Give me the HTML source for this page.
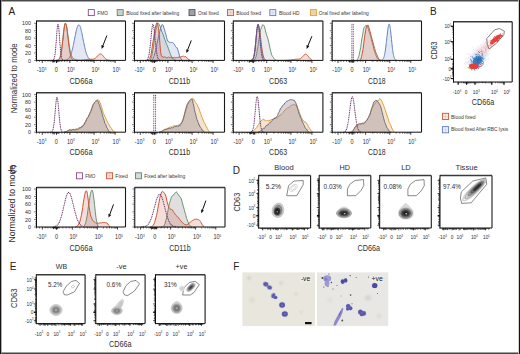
<!DOCTYPE html><html><head><meta charset="utf-8"><title>figure</title><style>html,body{margin:0;padding:0;background:#fff;width:520px;height:354px;overflow:hidden;}svg{display:block;font-family:"Liberation Sans",sans-serif;}</style></head><body><svg width="520" height="354" viewBox="0 0 520 354" font-family="'Liberation Sans', sans-serif"><rect x="0" y="0" width="520" height="354" fill="#fff"/><text x="8.40" y="15.10" font-size="10.00" text-anchor="start" fill="#222" >A</text><text x="429.90" y="15.30" font-size="10.00" text-anchor="start" fill="#222" >B</text><text x="9.70" y="172.60" font-size="10.00" text-anchor="start" fill="#222" >C</text><text x="232.70" y="174.00" font-size="10.00" text-anchor="start" fill="#222" >D</text><text x="9.70" y="269.80" font-size="10.00" text-anchor="start" fill="#222" >E</text><text x="233.20" y="269.80" font-size="10.00" text-anchor="start" fill="#222" >F</text><rect x="88.30" y="9.60" width="6.00" height="6.00" fill="#fff" stroke="#8a4a8a" stroke-width="0.9"/><text x="97.30" y="14.60" font-size="5.60" text-anchor="start" fill="#383838" textLength="10.7" lengthAdjust="spacingAndGlyphs" >FMO</text><rect x="117.20" y="9.60" width="6.00" height="6.00" fill="#c9cfc9" stroke="#5b8a6b" stroke-width="0.9"/><text x="126.20" y="14.60" font-size="5.60" text-anchor="start" fill="#383838" textLength="53.0" lengthAdjust="spacingAndGlyphs" >Blood fixed after labeling</text><rect x="189.00" y="9.60" width="6.00" height="6.00" fill="#a0a0a8" stroke="#55555f" stroke-width="0.9"/><text x="198.00" y="14.60" font-size="5.60" text-anchor="start" fill="#383838" textLength="20.6" lengthAdjust="spacingAndGlyphs" >Oral fixed</text><rect x="227.50" y="9.60" width="6.00" height="6.00" fill="#f3ddd6" stroke="#cc5533" stroke-width="0.9"/><line x1="230.50" y1="10.40" x2="230.50" y2="14.80" stroke="#cc5533" stroke-width="0.30" opacity="0.45"/><line x1="228.30" y1="12.60" x2="232.70" y2="12.60" stroke="#cc5533" stroke-width="0.30" opacity="0.45"/><text x="236.30" y="14.60" font-size="5.60" text-anchor="start" fill="#383838" textLength="24.8" lengthAdjust="spacingAndGlyphs" >Blood fixed</text><rect x="269.80" y="9.60" width="6.00" height="6.00" fill="#e6ebf5" stroke="#5b80c2" stroke-width="0.9"/><line x1="272.80" y1="10.40" x2="272.80" y2="14.80" stroke="#5b80c2" stroke-width="0.30" opacity="0.45"/><line x1="270.60" y1="12.60" x2="275.00" y2="12.60" stroke="#5b80c2" stroke-width="0.30" opacity="0.45"/><text x="279.00" y="14.60" font-size="5.60" text-anchor="start" fill="#383838" textLength="20.5" lengthAdjust="spacingAndGlyphs" >Blood HD</text><rect x="310.40" y="9.60" width="6.00" height="6.00" fill="#f0d2a8" stroke="#e39e3c" stroke-width="0.9"/><text x="318.80" y="14.60" font-size="5.60" text-anchor="start" fill="#383838" textLength="50.0" lengthAdjust="spacingAndGlyphs" >Oral fixed after labeling</text><text transform="translate(13.40 78.30) rotate(-90)" x="0" y="3.10" font-size="8.60" text-anchor="middle" fill="#2e2e2e" textLength="70.0" lengthAdjust="spacingAndGlyphs">Normalized to mode</text><rect x="36.50" y="21.00" width="89.00" height="39.40" fill="#fff"/><path d="M64.00 60.33 L64.25 60.31 L64.50 60.29 L64.75 60.27 L65.00 60.24 L65.25 60.20 L65.50 60.16 L65.75 60.11 L66.00 60.06 L66.25 59.99 L66.50 59.91 L66.75 59.82 L67.00 59.71 L67.25 59.59 L67.50 59.45 L67.75 59.28 L68.00 59.09 L68.25 58.88 L68.50 58.64 L68.75 58.37 L69.00 58.06 L69.25 57.71 L69.50 57.33 L69.75 56.91 L70.00 56.43 L70.25 55.92 L70.50 55.35 L70.75 54.73 L71.00 54.05 L71.25 53.32 L71.50 52.54 L71.75 51.69 L72.00 50.80 L72.25 49.84 L72.50 48.84 L72.75 47.78 L73.00 46.67 L73.25 45.52 L73.50 44.34 L73.75 43.11 L74.00 41.86 L74.25 40.59 L74.50 39.31 L74.75 38.03 L75.00 36.75 L75.25 35.48 L75.50 34.24 L75.75 33.04 L76.00 31.88 L76.25 30.78 L76.50 29.74 L76.75 28.78 L77.00 27.91 L77.25 27.13 L77.50 26.45 L77.75 25.88 L78.00 25.42 L78.25 25.09 L78.50 24.87 L78.75 24.79 L79.00 24.82 L79.25 24.99 L79.50 25.28 L79.75 25.68 L80.00 26.21 L80.25 26.84 L80.50 27.59 L80.75 28.42 L81.00 29.35 L81.25 30.36 L81.50 31.43 L81.75 32.57 L82.00 33.76 L82.25 34.98 L82.50 36.24 L82.75 37.51 L83.00 38.80 L83.25 40.08 L83.50 41.36 L83.75 42.62 L84.00 43.85 L84.25 45.05 L84.50 46.22 L84.75 47.34 L85.00 48.42 L85.25 49.45 L85.50 50.42 L85.75 51.34 L86.00 52.21 L86.25 53.01 L86.50 53.77 L86.75 54.46 L87.00 55.10 L87.25 55.69 L87.50 56.23 L87.75 56.72 L88.00 57.17 L88.25 57.57 L88.50 57.93 L88.75 58.25 L89.00 58.53 L89.25 58.79 L89.50 59.01 L89.75 59.21 L90.00 59.38 L90.25 59.53 L90.50 59.66 L90.75 59.78 L91.00 59.88 L91.25 59.96 L91.50 60.03 L91.75 60.09 L92.00 60.14 L92.25 60.19 L92.50 60.23 L92.75 60.26 L93.00 60.28 L93.25 60.30 L93.50 60.32 L93.75 60.34 L94.00 60.35 L94.00 60.40 L64.00 60.40 Z" fill="rgba(130,150,205,0.22)" stroke="none"/><path d="M64.00 60.33 L64.25 60.31 L64.50 60.29 L64.75 60.27 L65.00 60.24 L65.25 60.20 L65.50 60.16 L65.75 60.11 L66.00 60.06 L66.25 59.99 L66.50 59.91 L66.75 59.82 L67.00 59.71 L67.25 59.59 L67.50 59.45 L67.75 59.28 L68.00 59.09 L68.25 58.88 L68.50 58.64 L68.75 58.37 L69.00 58.06 L69.25 57.71 L69.50 57.33 L69.75 56.91 L70.00 56.43 L70.25 55.92 L70.50 55.35 L70.75 54.73 L71.00 54.05 L71.25 53.32 L71.50 52.54 L71.75 51.69 L72.00 50.80 L72.25 49.84 L72.50 48.84 L72.75 47.78 L73.00 46.67 L73.25 45.52 L73.50 44.34 L73.75 43.11 L74.00 41.86 L74.25 40.59 L74.50 39.31 L74.75 38.03 L75.00 36.75 L75.25 35.48 L75.50 34.24 L75.75 33.04 L76.00 31.88 L76.25 30.78 L76.50 29.74 L76.75 28.78 L77.00 27.91 L77.25 27.13 L77.50 26.45 L77.75 25.88 L78.00 25.42 L78.25 25.09 L78.50 24.87 L78.75 24.79 L79.00 24.82 L79.25 24.99 L79.50 25.28 L79.75 25.68 L80.00 26.21 L80.25 26.84 L80.50 27.59 L80.75 28.42 L81.00 29.35 L81.25 30.36 L81.50 31.43 L81.75 32.57 L82.00 33.76 L82.25 34.98 L82.50 36.24 L82.75 37.51 L83.00 38.80 L83.25 40.08 L83.50 41.36 L83.75 42.62 L84.00 43.85 L84.25 45.05 L84.50 46.22 L84.75 47.34 L85.00 48.42 L85.25 49.45 L85.50 50.42 L85.75 51.34 L86.00 52.21 L86.25 53.01 L86.50 53.77 L86.75 54.46 L87.00 55.10 L87.25 55.69 L87.50 56.23 L87.75 56.72 L88.00 57.17 L88.25 57.57 L88.50 57.93 L88.75 58.25 L89.00 58.53 L89.25 58.79 L89.50 59.01 L89.75 59.21 L90.00 59.38 L90.25 59.53 L90.50 59.66 L90.75 59.78 L91.00 59.88 L91.25 59.96 L91.50 60.03 L91.75 60.09 L92.00 60.14 L92.25 60.19 L92.50 60.23 L92.75 60.26 L93.00 60.28 L93.25 60.30 L93.50 60.32 L93.75 60.34 L94.00 60.35" fill="none" stroke="#5b80c2" stroke-width="1.00" stroke-linejoin="round"/><path d="M56.00 60.37 L56.20 60.36 L56.40 60.34 L56.60 60.32 L56.80 60.30 L57.00 60.27 L57.20 60.23 L57.40 60.18 L57.60 60.11 L57.80 60.03 L58.00 59.94 L58.20 59.81 L58.40 59.66 L58.60 59.48 L58.80 59.26 L59.00 59.00 L59.20 58.69 L59.40 58.32 L59.60 57.88 L59.80 57.38 L60.00 56.80 L60.20 56.13 L60.40 55.38 L60.60 54.53 L60.80 53.57 L61.00 52.51 L61.20 51.35 L61.40 50.08 L61.60 48.71 L61.80 47.24 L62.00 45.68 L62.20 44.04 L62.40 42.33 L62.60 40.57 L62.80 38.78 L63.00 36.98 L63.20 35.19 L63.40 33.44 L63.60 31.74 L63.80 30.14 L64.00 28.64 L64.20 27.29 L64.40 26.09 L64.60 25.08 L64.80 24.27 L65.00 23.67 L65.20 23.30 L65.40 23.17 L65.60 23.24 L65.80 23.50 L66.00 23.94 L66.20 24.55 L66.40 25.33 L66.60 26.26 L66.80 27.33 L67.00 28.52 L67.20 29.81 L67.40 31.20 L67.60 32.65 L67.80 34.15 L68.00 35.68 L68.20 37.23 L68.40 38.78 L68.60 40.31 L68.80 41.81 L69.00 43.27 L69.20 44.67 L69.40 46.01 L69.60 47.28 L69.80 48.47 L70.00 49.59 L70.20 50.62 L70.40 51.58 L70.60 52.46 L70.80 53.25 L71.00 53.98 L71.20 54.63 L71.40 55.21 L71.60 55.73 L71.80 56.20 L72.00 56.61 L72.20 56.98 L72.40 57.30 L72.60 57.59 L72.80 57.84 L73.00 58.06 L73.20 58.26 L73.40 58.44 L73.60 58.60 L73.80 58.75 L74.00 58.88 L74.20 59.00 L74.40 59.11 L74.60 59.21 L74.80 59.31 L75.00 59.40 L75.20 59.48 L75.40 59.56 L75.60 59.63 L75.80 59.70 L76.00 59.76 L76.20 59.82 L76.40 59.88 L76.60 59.93 L76.80 59.98 L77.00 60.02 L77.20 60.06 L77.40 60.10 L77.60 60.14 L77.80 60.17 L78.00 60.20 L78.20 60.22 L78.40 60.25 L78.60 60.27 L78.80 60.29 L79.00 60.30 L79.20 60.32 L79.40 60.33 L79.60 60.34 L79.80 60.35 L80.00 60.36 L80.00 60.40 L56.00 60.40 Z" fill="rgba(90,95,90,0.12)" stroke="none"/><path d="M56.00 60.37 L56.20 60.36 L56.40 60.34 L56.60 60.32 L56.80 60.30 L57.00 60.27 L57.20 60.23 L57.40 60.18 L57.60 60.11 L57.80 60.03 L58.00 59.94 L58.20 59.81 L58.40 59.66 L58.60 59.48 L58.80 59.26 L59.00 59.00 L59.20 58.69 L59.40 58.32 L59.60 57.88 L59.80 57.38 L60.00 56.80 L60.20 56.13 L60.40 55.38 L60.60 54.53 L60.80 53.57 L61.00 52.51 L61.20 51.35 L61.40 50.08 L61.60 48.71 L61.80 47.24 L62.00 45.68 L62.20 44.04 L62.40 42.33 L62.60 40.57 L62.80 38.78 L63.00 36.98 L63.20 35.19 L63.40 33.44 L63.60 31.74 L63.80 30.14 L64.00 28.64 L64.20 27.29 L64.40 26.09 L64.60 25.08 L64.80 24.27 L65.00 23.67 L65.20 23.30 L65.40 23.17 L65.60 23.24 L65.80 23.50 L66.00 23.94 L66.20 24.55 L66.40 25.33 L66.60 26.26 L66.80 27.33 L67.00 28.52 L67.20 29.81 L67.40 31.20 L67.60 32.65 L67.80 34.15 L68.00 35.68 L68.20 37.23 L68.40 38.78 L68.60 40.31 L68.80 41.81 L69.00 43.27 L69.20 44.67 L69.40 46.01 L69.60 47.28 L69.80 48.47 L70.00 49.59 L70.20 50.62 L70.40 51.58 L70.60 52.46 L70.80 53.25 L71.00 53.98 L71.20 54.63 L71.40 55.21 L71.60 55.73 L71.80 56.20 L72.00 56.61 L72.20 56.98 L72.40 57.30 L72.60 57.59 L72.80 57.84 L73.00 58.06 L73.20 58.26 L73.40 58.44 L73.60 58.60 L73.80 58.75 L74.00 58.88 L74.20 59.00 L74.40 59.11 L74.60 59.21 L74.80 59.31 L75.00 59.40 L75.20 59.48 L75.40 59.56 L75.60 59.63 L75.80 59.70 L76.00 59.76 L76.20 59.82 L76.40 59.88 L76.60 59.93 L76.80 59.98 L77.00 60.02 L77.20 60.06 L77.40 60.10 L77.60 60.14 L77.80 60.17 L78.00 60.20 L78.20 60.22 L78.40 60.25 L78.60 60.27 L78.80 60.29 L79.00 60.30 L79.20 60.32 L79.40 60.33 L79.60 60.34 L79.80 60.35 L80.00 60.36" fill="none" stroke="#5b8a6b" stroke-width="0.90" stroke-linejoin="round"/><path d="M56.00 60.39 L56.45 60.38 L56.90 60.36 L57.35 60.32 L57.80 60.24 L58.25 60.10 L58.70 59.87 L59.15 59.48 L59.60 58.86 L60.05 57.92 L60.50 56.56 L60.95 54.69 L61.40 52.22 L61.85 49.13 L62.30 45.44 L62.75 41.30 L63.20 36.92 L63.65 32.62 L64.10 28.78 L64.55 25.75 L65.00 23.86 L65.45 23.31 L65.90 23.98 L66.35 25.70 L66.80 28.31 L67.25 31.60 L67.70 35.31 L68.15 39.19 L68.60 43.00 L69.05 46.55 L69.50 49.70 L69.95 52.38 L70.40 54.56 L70.85 56.28 L71.30 57.57 L71.75 58.52 L72.20 59.18 L72.65 59.64 L73.10 59.93 L73.55 60.12 L74.00 60.24 L74.45 60.30 L74.90 60.34 L75.35 60.36 L75.80 60.37 L76.25 60.37 L76.70 60.36 L77.15 60.36 L77.60 60.35 L78.05 60.34 L78.50 60.32 L78.95 60.30 L79.40 60.28 L79.85 60.26 L80.30 60.23 L80.75 60.20 L81.20 60.16 L81.65 60.12 L82.10 60.08 L82.55 60.03 L83.00 59.98 L83.45 59.93 L83.90 59.87 L84.35 59.81 L84.80 59.75 L85.25 59.69 L85.70 59.63 L86.15 59.57 L86.60 59.52 L87.05 59.46 L87.50 59.42 L87.95 59.37 L88.40 59.34 L88.85 59.31 L89.30 59.29 L89.75 59.27 L90.20 59.26 L90.65 59.26 L91.10 59.25 L91.55 59.24 L92.00 59.23 L92.45 59.20 L92.90 59.15 L93.35 59.07 L93.80 58.96 L94.25 58.80 L94.70 58.59 L95.15 58.32 L95.60 58.00 L96.05 57.61 L96.50 57.18 L96.95 56.70 L97.40 56.20 L97.85 55.70 L98.30 55.22 L98.75 54.78 L99.20 54.42 L99.65 54.15 L100.10 54.00 L100.55 53.97 L101.00 54.08 L101.45 54.30 L101.90 54.64 L102.35 55.07 L102.80 55.57 L103.25 56.11 L103.70 56.67 L104.15 57.23 L104.60 57.75 L105.05 58.24 L105.50 58.67 L105.95 59.05 L106.40 59.36 L106.85 59.62 L107.30 59.83 L107.75 59.99 L108.20 60.11 L108.65 60.20 L109.10 60.26 L109.55 60.31 L110.00 60.34 L110.00 60.40 L56.00 60.40 Z" fill="rgba(205,90,70,0.2)" stroke="none"/><path d="M56.00 60.39 L56.45 60.38 L56.90 60.36 L57.35 60.32 L57.80 60.24 L58.25 60.10 L58.70 59.87 L59.15 59.48 L59.60 58.86 L60.05 57.92 L60.50 56.56 L60.95 54.69 L61.40 52.22 L61.85 49.13 L62.30 45.44 L62.75 41.30 L63.20 36.92 L63.65 32.62 L64.10 28.78 L64.55 25.75 L65.00 23.86 L65.45 23.31 L65.90 23.98 L66.35 25.70 L66.80 28.31 L67.25 31.60 L67.70 35.31 L68.15 39.19 L68.60 43.00 L69.05 46.55 L69.50 49.70 L69.95 52.38 L70.40 54.56 L70.85 56.28 L71.30 57.57 L71.75 58.52 L72.20 59.18 L72.65 59.64 L73.10 59.93 L73.55 60.12 L74.00 60.24 L74.45 60.30 L74.90 60.34 L75.35 60.36 L75.80 60.37 L76.25 60.37 L76.70 60.36 L77.15 60.36 L77.60 60.35 L78.05 60.34 L78.50 60.32 L78.95 60.30 L79.40 60.28 L79.85 60.26 L80.30 60.23 L80.75 60.20 L81.20 60.16 L81.65 60.12 L82.10 60.08 L82.55 60.03 L83.00 59.98 L83.45 59.93 L83.90 59.87 L84.35 59.81 L84.80 59.75 L85.25 59.69 L85.70 59.63 L86.15 59.57 L86.60 59.52 L87.05 59.46 L87.50 59.42 L87.95 59.37 L88.40 59.34 L88.85 59.31 L89.30 59.29 L89.75 59.27 L90.20 59.26 L90.65 59.26 L91.10 59.25 L91.55 59.24 L92.00 59.23 L92.45 59.20 L92.90 59.15 L93.35 59.07 L93.80 58.96 L94.25 58.80 L94.70 58.59 L95.15 58.32 L95.60 58.00 L96.05 57.61 L96.50 57.18 L96.95 56.70 L97.40 56.20 L97.85 55.70 L98.30 55.22 L98.75 54.78 L99.20 54.42 L99.65 54.15 L100.10 54.00 L100.55 53.97 L101.00 54.08 L101.45 54.30 L101.90 54.64 L102.35 55.07 L102.80 55.57 L103.25 56.11 L103.70 56.67 L104.15 57.23 L104.60 57.75 L105.05 58.24 L105.50 58.67 L105.95 59.05 L106.40 59.36 L106.85 59.62 L107.30 59.83 L107.75 59.99 L108.20 60.11 L108.65 60.20 L109.10 60.26 L109.55 60.31 L110.00 60.34" fill="none" stroke="#cc5533" stroke-width="1.00" stroke-linejoin="round"/><path d="M52.00 60.37 L52.10 60.36 L52.20 60.35 L52.30 60.34 L52.40 60.32 L52.50 60.30 L52.60 60.28 L52.70 60.25 L52.80 60.22 L52.90 60.17 L53.00 60.12 L53.10 60.07 L53.20 60.00 L53.30 59.91 L53.40 59.82 L53.50 59.70 L53.60 59.57 L53.70 59.42 L53.80 59.24 L53.90 59.04 L54.00 58.80 L54.10 58.54 L54.20 58.23 L54.30 57.89 L54.40 57.51 L54.50 57.08 L54.60 56.60 L54.70 56.07 L54.80 55.48 L54.90 54.84 L55.00 54.13 L55.10 53.37 L55.20 52.54 L55.30 51.65 L55.40 50.69 L55.50 49.67 L55.60 48.60 L55.70 47.46 L55.80 46.27 L55.90 45.04 L56.00 43.75 L56.10 42.44 L56.20 41.09 L56.30 39.72 L56.40 38.35 L56.50 36.97 L56.60 35.61 L56.70 34.26 L56.80 32.96 L56.90 31.69 L57.00 30.49 L57.10 29.36 L57.20 28.31 L57.30 27.36 L57.40 26.51 L57.50 25.77 L57.60 25.16 L57.70 24.68 L57.80 24.32 L57.90 24.11 L58.00 24.04 L58.10 24.11 L58.20 24.32 L58.30 24.68 L58.40 25.16 L58.50 25.77 L58.60 26.51 L58.70 27.36 L58.80 28.31 L58.90 29.36 L59.00 30.49 L59.10 31.69 L59.20 32.96 L59.30 34.26 L59.40 35.61 L59.50 36.97 L59.60 38.35 L59.70 39.72 L59.80 41.09 L59.90 42.44 L60.00 43.75 L60.10 45.04 L60.20 46.27 L60.30 47.46 L60.40 48.60 L60.50 49.67 L60.60 50.69 L60.70 51.65 L60.80 52.54 L60.90 53.37 L61.00 54.13 L61.10 54.84 L61.20 55.48 L61.30 56.07 L61.40 56.60 L61.50 57.08 L61.60 57.51 L61.70 57.89 L61.80 58.23 L61.90 58.54 L62.00 58.80 L62.10 59.04 L62.20 59.24 L62.30 59.42 L62.40 59.57 L62.50 59.70 L62.60 59.82 L62.70 59.91 L62.80 60.00 L62.90 60.07 L63.00 60.12 L63.10 60.17 L63.20 60.22 L63.30 60.25 L63.40 60.28 L63.50 60.30 L63.60 60.32 L63.70 60.34 L63.80 60.35 L63.90 60.36 L64.00 60.37" fill="none" stroke="#6a3468" stroke-width="1.20" stroke-linejoin="round" stroke-dasharray="0.01 1.75" stroke-linecap="round"/><line x1="36.50" y1="21.00" x2="125.50" y2="21.00" stroke="#3a3a3a" stroke-width="1.40" /><line x1="125.50" y1="21.00" x2="125.50" y2="60.40" stroke="#1a1a1a" stroke-width="1.10" /><line x1="36.50" y1="20.50" x2="36.50" y2="60.90" stroke="#111" stroke-width="1.00" /><line x1="36.00" y1="60.40" x2="125.50" y2="60.40" stroke="#111" stroke-width="1.00" /><text x="30.90" y="62.50" font-size="6.20" text-anchor="end" fill="#2e2e2e" textLength="2.96" lengthAdjust="spacingAndGlyphs">0</text><text x="30.90" y="55.08" font-size="6.20" text-anchor="end" fill="#2e2e2e" textLength="5.93" lengthAdjust="spacingAndGlyphs">20</text><text x="30.90" y="47.66" font-size="6.20" text-anchor="end" fill="#2e2e2e" textLength="5.93" lengthAdjust="spacingAndGlyphs">40</text><text x="30.90" y="40.24" font-size="6.20" text-anchor="end" fill="#2e2e2e" textLength="5.93" lengthAdjust="spacingAndGlyphs">60</text><text x="30.90" y="32.82" font-size="6.20" text-anchor="end" fill="#2e2e2e" textLength="5.93" lengthAdjust="spacingAndGlyphs">80</text><text x="30.90" y="25.40" font-size="6.20" text-anchor="end" fill="#2e2e2e" textLength="8.89" lengthAdjust="spacingAndGlyphs">100</text><text x="41.50" y="72.00" font-size="6.50" text-anchor="middle" fill="#2e2e2e" textLength="9.67" lengthAdjust="spacingAndGlyphs">-10<tspan dy="-2.47" font-size="3.58">3</tspan></text><text x="56.40" y="72.00" font-size="6.50" text-anchor="middle" fill="#2e2e2e" textLength="3.07" lengthAdjust="spacingAndGlyphs">0</text><text x="70.90" y="72.00" font-size="6.50" text-anchor="middle" fill="#2e2e2e" textLength="7.83" lengthAdjust="spacingAndGlyphs">10<tspan dy="-2.47" font-size="3.58">3</tspan></text><text x="95.50" y="72.00" font-size="6.50" text-anchor="middle" fill="#2e2e2e" textLength="7.83" lengthAdjust="spacingAndGlyphs">10<tspan dy="-2.47" font-size="3.58">4</tspan></text><text x="116.50" y="72.00" font-size="6.50" text-anchor="middle" fill="#2e2e2e" textLength="7.83" lengthAdjust="spacingAndGlyphs">10<tspan dy="-2.47" font-size="3.58">5</tspan></text><text x="81.00" y="83.90" font-size="9.00" text-anchor="middle" fill="#2e2e2e" textLength="23.0" lengthAdjust="spacingAndGlyphs" >CD66a</text><rect x="36.50" y="92.80" width="89.00" height="39.40" fill="#fff"/><path d="M64.00 132.20 L64.43 132.08 L65.03 131.92 L65.75 131.71 L66.50 131.45 L67.10 131.50 L67.72 130.81 L68.39 130.68 L69.14 130.08 L70.00 129.79 L70.55 130.35 L71.17 130.33 L71.82 129.26 L72.51 129.89 L73.21 129.86 L73.90 128.87 L74.57 129.43 L75.21 128.90 L75.80 129.22 L76.49 128.86 L77.14 129.28 L77.75 128.52 L78.33 128.03 L78.90 128.22 L79.45 127.70 L80.00 127.48 L80.76 127.73 L81.50 126.34 L82.21 125.93 L82.88 125.62 L83.50 125.24 L84.17 123.34 L84.74 122.86 L85.32 121.50 L86.00 120.09 L86.67 119.14 L87.42 117.61 L88.19 116.89 L88.94 115.06 L89.60 114.22 L90.28 112.17 L90.87 110.83 L91.42 110.39 L92.00 108.95 L92.63 107.36 L93.28 104.92 L93.91 104.12 L94.50 102.72 L95.22 102.07 L95.89 101.15 L96.50 100.75 L97.25 99.88 L98.00 99.39 L98.63 100.08 L99.31 100.90 L100.00 102.65 L100.66 104.15 L101.32 106.33 L102.00 108.30 L102.71 110.84 L103.45 113.65 L104.20 114.85 L104.95 116.48 L105.71 118.14 L106.50 120.08 L107.11 121.07 L107.74 122.82 L108.37 123.19 L109.00 124.59 L109.62 126.03 L110.24 127.37 L110.86 127.44 L111.50 128.23 L112.18 130.20 L112.89 130.19 L113.58 131.39 L114.20 131.82 L115.27 132.20 L116.00 132.20 L116.00 132.20 L64.00 132.20 Z" fill="rgba(215,147,55,0.25)" stroke="none"/><path d="M64.00 132.20 L64.43 132.08 L65.03 131.92 L65.75 131.71 L66.50 131.45 L67.10 131.50 L67.72 130.81 L68.39 130.68 L69.14 130.08 L70.00 129.79 L70.55 130.35 L71.17 130.33 L71.82 129.26 L72.51 129.89 L73.21 129.86 L73.90 128.87 L74.57 129.43 L75.21 128.90 L75.80 129.22 L76.49 128.86 L77.14 129.28 L77.75 128.52 L78.33 128.03 L78.90 128.22 L79.45 127.70 L80.00 127.48 L80.76 127.73 L81.50 126.34 L82.21 125.93 L82.88 125.62 L83.50 125.24 L84.17 123.34 L84.74 122.86 L85.32 121.50 L86.00 120.09 L86.67 119.14 L87.42 117.61 L88.19 116.89 L88.94 115.06 L89.60 114.22 L90.28 112.17 L90.87 110.83 L91.42 110.39 L92.00 108.95 L92.63 107.36 L93.28 104.92 L93.91 104.12 L94.50 102.72 L95.22 102.07 L95.89 101.15 L96.50 100.75 L97.25 99.88 L98.00 99.39 L98.63 100.08 L99.31 100.90 L100.00 102.65 L100.66 104.15 L101.32 106.33 L102.00 108.30 L102.71 110.84 L103.45 113.65 L104.20 114.85 L104.95 116.48 L105.71 118.14 L106.50 120.08 L107.11 121.07 L107.74 122.82 L108.37 123.19 L109.00 124.59 L109.62 126.03 L110.24 127.37 L110.86 127.44 L111.50 128.23 L112.18 130.20 L112.89 130.19 L113.58 131.39 L114.20 131.82 L115.27 132.20 L116.00 132.20" fill="none" stroke="#e39e3c" stroke-width="1.00" stroke-linejoin="round"/><path d="M64.00 132.20 L64.43 132.07 L65.03 131.89 L65.75 131.68 L66.50 131.45 L67.10 131.09 L67.72 130.71 L68.39 130.41 L69.14 130.00 L70.00 130.03 L70.55 129.72 L71.17 130.71 L71.82 130.11 L72.51 129.47 L73.21 129.75 L73.90 129.38 L74.57 130.24 L75.21 129.72 L75.80 129.87 L76.49 129.35 L77.14 129.15 L77.75 129.64 L78.33 129.19 L78.90 128.89 L79.45 127.86 L80.00 127.74 L80.76 127.99 L81.50 126.67 L82.21 126.85 L82.88 125.61 L83.50 125.51 L84.17 124.76 L84.74 122.78 L85.32 122.52 L86.00 121.26 L86.67 119.15 L87.42 117.94 L88.19 117.21 L88.94 114.97 L89.60 114.10 L90.28 112.30 L90.87 111.24 L91.42 108.77 L92.00 107.53 L92.63 105.65 L93.28 104.18 L93.91 103.49 L94.50 102.29 L95.22 101.51 L95.89 100.93 L96.50 100.76 L97.25 100.60 L98.00 101.24 L98.63 103.36 L99.31 104.40 L100.00 106.83 L100.66 108.98 L101.32 110.65 L102.00 113.42 L102.71 116.14 L103.45 118.55 L104.20 120.67 L104.99 123.56 L105.79 124.35 L106.50 127.13 L107.29 128.19 L108.00 129.53 L108.81 131.65 L109.60 131.82 L110.40 132.13 L111.00 132.20 L111.00 132.20 L64.00 132.20 Z" fill="rgba(122,112,145,0.3)" stroke="none"/><path d="M64.00 132.20 L64.43 132.07 L65.03 131.89 L65.75 131.68 L66.50 131.45 L67.10 131.09 L67.72 130.71 L68.39 130.41 L69.14 130.00 L70.00 130.03 L70.55 129.72 L71.17 130.71 L71.82 130.11 L72.51 129.47 L73.21 129.75 L73.90 129.38 L74.57 130.24 L75.21 129.72 L75.80 129.87 L76.49 129.35 L77.14 129.15 L77.75 129.64 L78.33 129.19 L78.90 128.89 L79.45 127.86 L80.00 127.74 L80.76 127.99 L81.50 126.67 L82.21 126.85 L82.88 125.61 L83.50 125.51 L84.17 124.76 L84.74 122.78 L85.32 122.52 L86.00 121.26 L86.67 119.15 L87.42 117.94 L88.19 117.21 L88.94 114.97 L89.60 114.10 L90.28 112.30 L90.87 111.24 L91.42 108.77 L92.00 107.53 L92.63 105.65 L93.28 104.18 L93.91 103.49 L94.50 102.29 L95.22 101.51 L95.89 100.93 L96.50 100.76 L97.25 100.60 L98.00 101.24 L98.63 103.36 L99.31 104.40 L100.00 106.83 L100.66 108.98 L101.32 110.65 L102.00 113.42 L102.71 116.14 L103.45 118.55 L104.20 120.67 L104.99 123.56 L105.79 124.35 L106.50 127.13 L107.29 128.19 L108.00 129.53 L108.81 131.65 L109.60 131.82 L110.40 132.13 L111.00 132.20" fill="none" stroke="#666675" stroke-width="0.90" stroke-linejoin="round"/><path d="M51.00 132.06 L51.10 132.04 L51.20 132.01 L51.30 131.97 L51.40 131.92 L51.50 131.87 L51.60 131.81 L51.70 131.74 L51.80 131.66 L51.90 131.57 L52.00 131.46 L52.10 131.34 L52.20 131.20 L52.30 131.04 L52.40 130.86 L52.50 130.66 L52.60 130.44 L52.70 130.18 L52.80 129.90 L52.90 129.59 L53.00 129.24 L53.10 128.86 L53.20 128.43 L53.30 127.97 L53.40 127.47 L53.50 126.92 L53.60 126.33 L53.70 125.69 L53.80 125.00 L53.90 124.26 L54.00 123.48 L54.10 122.65 L54.20 121.77 L54.30 120.85 L54.40 119.88 L54.50 118.87 L54.60 117.82 L54.70 116.74 L54.80 115.63 L54.90 114.49 L55.00 113.34 L55.10 112.17 L55.20 110.99 L55.30 109.81 L55.40 108.64 L55.50 107.49 L55.60 106.36 L55.70 105.26 L55.80 104.20 L55.90 103.19 L56.00 102.23 L56.10 101.34 L56.20 100.52 L56.30 99.78 L56.40 99.12 L56.50 98.56 L56.60 98.08 L56.70 97.71 L56.80 97.45 L56.90 97.29 L57.00 97.23 L57.10 97.29 L57.20 97.45 L57.30 97.71 L57.40 98.08 L57.50 98.56 L57.60 99.12 L57.70 99.78 L57.80 100.52 L57.90 101.34 L58.00 102.23 L58.10 103.19 L58.20 104.20 L58.30 105.26 L58.40 106.36 L58.50 107.49 L58.60 108.64 L58.70 109.81 L58.80 110.99 L58.90 112.17 L59.00 113.34 L59.10 114.49 L59.20 115.63 L59.30 116.74 L59.40 117.82 L59.50 118.87 L59.60 119.88 L59.70 120.85 L59.80 121.77 L59.90 122.65 L60.00 123.48 L60.10 124.26 L60.20 125.00 L60.30 125.69 L60.40 126.33 L60.50 126.92 L60.60 127.47 L60.70 127.97 L60.80 128.43 L60.90 128.86 L61.00 129.24 L61.10 129.59 L61.20 129.90 L61.30 130.18 L61.40 130.44 L61.50 130.66 L61.60 130.86 L61.70 131.04 L61.80 131.20 L61.90 131.34 L62.00 131.46 L62.10 131.57 L62.20 131.66 L62.30 131.74 L62.40 131.81 L62.50 131.87 L62.60 131.92 L62.70 131.97 L62.80 132.01 L62.90 132.04 L63.00 132.06" fill="none" stroke="#6a3468" stroke-width="1.20" stroke-linejoin="round" stroke-dasharray="0.01 1.75" stroke-linecap="round"/><line x1="36.50" y1="92.80" x2="125.50" y2="92.80" stroke="#3a3a3a" stroke-width="1.40" /><line x1="125.50" y1="92.80" x2="125.50" y2="132.20" stroke="#1a1a1a" stroke-width="1.10" /><line x1="36.50" y1="92.30" x2="36.50" y2="132.70" stroke="#111" stroke-width="1.00" /><line x1="36.00" y1="132.20" x2="125.50" y2="132.20" stroke="#111" stroke-width="1.00" /><text x="30.90" y="134.30" font-size="6.20" text-anchor="end" fill="#2e2e2e" textLength="2.96" lengthAdjust="spacingAndGlyphs">0</text><text x="30.90" y="126.78" font-size="6.20" text-anchor="end" fill="#2e2e2e" textLength="5.93" lengthAdjust="spacingAndGlyphs">20</text><text x="30.90" y="119.26" font-size="6.20" text-anchor="end" fill="#2e2e2e" textLength="5.93" lengthAdjust="spacingAndGlyphs">40</text><text x="30.90" y="111.74" font-size="6.20" text-anchor="end" fill="#2e2e2e" textLength="5.93" lengthAdjust="spacingAndGlyphs">60</text><text x="30.90" y="104.22" font-size="6.20" text-anchor="end" fill="#2e2e2e" textLength="5.93" lengthAdjust="spacingAndGlyphs">80</text><text x="30.90" y="96.70" font-size="6.20" text-anchor="end" fill="#2e2e2e" textLength="8.89" lengthAdjust="spacingAndGlyphs">100</text><text x="41.50" y="143.80" font-size="6.50" text-anchor="middle" fill="#2e2e2e" textLength="9.67" lengthAdjust="spacingAndGlyphs">-10<tspan dy="-2.47" font-size="3.58">3</tspan></text><text x="56.40" y="143.80" font-size="6.50" text-anchor="middle" fill="#2e2e2e" textLength="3.07" lengthAdjust="spacingAndGlyphs">0</text><text x="70.90" y="143.80" font-size="6.50" text-anchor="middle" fill="#2e2e2e" textLength="7.83" lengthAdjust="spacingAndGlyphs">10<tspan dy="-2.47" font-size="3.58">3</tspan></text><text x="95.50" y="143.80" font-size="6.50" text-anchor="middle" fill="#2e2e2e" textLength="7.83" lengthAdjust="spacingAndGlyphs">10<tspan dy="-2.47" font-size="3.58">4</tspan></text><text x="116.50" y="143.80" font-size="6.50" text-anchor="middle" fill="#2e2e2e" textLength="7.83" lengthAdjust="spacingAndGlyphs">10<tspan dy="-2.47" font-size="3.58">5</tspan></text><text x="81.00" y="155.20" font-size="9.00" text-anchor="middle" fill="#2e2e2e" textLength="23.0" lengthAdjust="spacingAndGlyphs" >CD66a</text><rect x="134.50" y="21.00" width="90.00" height="39.40" fill="#fff"/><path d="M150.00 60.40 L150.58 60.40 L151.42 60.37 L152.30 59.66 L152.96 58.71 L153.67 56.44 L154.36 55.30 L155.00 52.80 L155.72 50.45 L156.36 47.12 L157.00 43.26 L157.67 40.80 L158.33 37.26 L159.00 34.47 L159.68 31.68 L160.36 29.06 L161.00 27.28 L161.89 24.74 L162.70 24.78 L163.33 25.69 L164.00 28.18 L164.62 30.19 L165.31 32.74 L166.00 34.81 L166.63 37.55 L167.26 39.89 L167.90 41.32 L168.55 41.41 L169.22 42.45 L170.00 42.11 L170.58 42.47 L171.23 42.31 L171.90 42.69 L172.54 42.53 L173.10 42.97 L173.79 43.52 L174.35 44.19 L175.00 45.49 L175.64 46.66 L176.36 47.55 L177.07 47.71 L177.70 49.28 L178.36 51.64 L178.91 53.41 L179.50 55.88 L180.20 57.43 L180.94 58.70 L181.60 60.03 L182.43 60.40 L183.00 60.40 L183.00 60.40 L150.00 60.40 Z" fill="rgba(130,150,205,0.22)" stroke="none"/><path d="M150.00 60.40 L150.58 60.40 L151.42 60.37 L152.30 59.66 L152.96 58.71 L153.67 56.44 L154.36 55.30 L155.00 52.80 L155.72 50.45 L156.36 47.12 L157.00 43.26 L157.67 40.80 L158.33 37.26 L159.00 34.47 L159.68 31.68 L160.36 29.06 L161.00 27.28 L161.89 24.74 L162.70 24.78 L163.33 25.69 L164.00 28.18 L164.62 30.19 L165.31 32.74 L166.00 34.81 L166.63 37.55 L167.26 39.89 L167.90 41.32 L168.55 41.41 L169.22 42.45 L170.00 42.11 L170.58 42.47 L171.23 42.31 L171.90 42.69 L172.54 42.53 L173.10 42.97 L173.79 43.52 L174.35 44.19 L175.00 45.49 L175.64 46.66 L176.36 47.55 L177.07 47.71 L177.70 49.28 L178.36 51.64 L178.91 53.41 L179.50 55.88 L180.20 57.43 L180.94 58.70 L181.60 60.03 L182.43 60.40 L183.00 60.40" fill="none" stroke="#5b80c2" stroke-width="1.00" stroke-linejoin="round"/><path d="M149.00 60.40 L149.52 60.19 L150.26 59.78 L151.00 58.57 L151.67 56.30 L152.33 53.32 L153.00 49.00 L153.67 44.90 L154.33 39.17 L155.00 34.13 L155.70 30.96 L156.39 27.45 L157.00 25.07 L157.61 23.80 L158.20 23.39 L158.71 23.59 L159.29 24.75 L160.00 26.10 L160.52 27.82 L161.11 29.35 L161.74 31.20 L162.38 32.71 L163.00 34.12 L163.60 36.01 L164.20 37.53 L164.80 39.47 L165.40 40.82 L166.00 42.89 L166.61 44.30 L167.24 45.56 L167.86 47.02 L168.45 48.69 L169.00 50.32 L169.81 52.38 L170.53 54.46 L171.20 56.11 L171.79 56.98 L172.33 58.37 L173.00 58.63 L173.57 59.05 L174.26 59.69 L174.96 59.98 L175.57 60.22 L176.00 60.40 L176.00 60.40 L149.00 60.40 Z" fill="rgba(90,95,90,0.12)" stroke="none"/><path d="M149.00 60.40 L149.52 60.19 L150.26 59.78 L151.00 58.57 L151.67 56.30 L152.33 53.32 L153.00 49.00 L153.67 44.90 L154.33 39.17 L155.00 34.13 L155.70 30.96 L156.39 27.45 L157.00 25.07 L157.61 23.80 L158.20 23.39 L158.71 23.59 L159.29 24.75 L160.00 26.10 L160.52 27.82 L161.11 29.35 L161.74 31.20 L162.38 32.71 L163.00 34.12 L163.60 36.01 L164.20 37.53 L164.80 39.47 L165.40 40.82 L166.00 42.89 L166.61 44.30 L167.24 45.56 L167.86 47.02 L168.45 48.69 L169.00 50.32 L169.81 52.38 L170.53 54.46 L171.20 56.11 L171.79 56.98 L172.33 58.37 L173.00 58.63 L173.57 59.05 L174.26 59.69 L174.96 59.98 L175.57 60.22 L176.00 60.40" fill="none" stroke="#5b8a6b" stroke-width="0.90" stroke-linejoin="round"/><path d="M147.00 60.40 L147.52 60.24 L148.26 59.95 L149.00 59.24 L149.67 58.41 L150.33 57.03 L151.00 55.01 L151.67 50.95 L152.33 46.30 L153.00 41.76 L153.68 37.45 L154.36 32.63 L155.00 28.97 L155.84 25.30 L156.60 23.03 L157.31 22.77 L158.00 25.43 L158.78 30.74 L159.50 38.08 L160.03 45.21 L160.50 51.25 L160.97 54.17 L161.50 55.97 L161.88 56.67 L163.00 56.96 L163.43 57.34 L163.92 57.02 L164.49 56.94 L165.10 56.99 L165.75 57.23 L166.44 57.60 L167.15 57.65 L167.87 57.59 L168.59 57.14 L169.31 57.53 L170.00 57.51 L170.60 57.21 L171.23 57.57 L171.88 57.44 L172.55 57.52 L173.23 57.75 L173.91 57.45 L174.58 57.30 L175.24 57.71 L175.87 57.66 L176.47 57.54 L177.03 57.75 L177.55 57.46 L178.00 57.24 L178.93 57.23 L179.58 57.15 L180.08 56.78 L180.51 57.03 L181.00 56.65 L181.66 56.62 L182.28 56.35 L182.89 56.55 L183.50 56.16 L184.14 56.64 L184.78 56.75 L185.41 56.59 L186.00 56.80 L186.68 57.65 L187.31 58.33 L188.00 59.07 L188.67 59.48 L189.43 59.77 L190.12 60.14 L190.60 60.40 L190.60 60.40 L147.00 60.40 Z" fill="rgba(205,90,70,0.2)" stroke="none"/><path d="M147.00 60.40 L147.52 60.24 L148.26 59.95 L149.00 59.24 L149.67 58.41 L150.33 57.03 L151.00 55.01 L151.67 50.95 L152.33 46.30 L153.00 41.76 L153.68 37.45 L154.36 32.63 L155.00 28.97 L155.84 25.30 L156.60 23.03 L157.31 22.77 L158.00 25.43 L158.78 30.74 L159.50 38.08 L160.03 45.21 L160.50 51.25 L160.97 54.17 L161.50 55.97 L161.88 56.67 L163.00 56.96 L163.43 57.34 L163.92 57.02 L164.49 56.94 L165.10 56.99 L165.75 57.23 L166.44 57.60 L167.15 57.65 L167.87 57.59 L168.59 57.14 L169.31 57.53 L170.00 57.51 L170.60 57.21 L171.23 57.57 L171.88 57.44 L172.55 57.52 L173.23 57.75 L173.91 57.45 L174.58 57.30 L175.24 57.71 L175.87 57.66 L176.47 57.54 L177.03 57.75 L177.55 57.46 L178.00 57.24 L178.93 57.23 L179.58 57.15 L180.08 56.78 L180.51 57.03 L181.00 56.65 L181.66 56.62 L182.28 56.35 L182.89 56.55 L183.50 56.16 L184.14 56.64 L184.78 56.75 L185.41 56.59 L186.00 56.80 L186.68 57.65 L187.31 58.33 L188.00 59.07 L188.67 59.48 L189.43 59.77 L190.12 60.14 L190.60 60.40" fill="none" stroke="#cc5533" stroke-width="1.00" stroke-linejoin="round"/><path d="M146.00 60.26 L146.12 60.23 L146.25 60.19 L146.38 60.15 L146.50 60.10 L146.62 60.04 L146.75 59.97 L146.88 59.89 L147.00 59.79 L147.12 59.68 L147.25 59.55 L147.38 59.40 L147.50 59.23 L147.62 59.04 L147.75 58.82 L147.88 58.57 L148.00 58.29 L148.12 57.97 L148.25 57.61 L148.38 57.22 L148.50 56.78 L148.62 56.29 L148.75 55.76 L148.88 55.17 L149.00 54.53 L149.12 53.84 L149.25 53.09 L149.38 52.29 L149.50 51.43 L149.62 50.51 L149.75 49.53 L149.88 48.51 L150.00 47.43 L150.12 46.30 L150.25 45.13 L150.38 43.92 L150.50 42.68 L150.62 41.42 L150.75 40.13 L150.88 38.83 L151.00 37.53 L151.12 36.24 L151.25 34.97 L151.38 33.72 L151.50 32.52 L151.62 31.36 L151.75 30.26 L151.88 29.22 L152.00 28.27 L152.12 27.41 L152.25 26.64 L152.38 25.97 L152.50 25.42 L152.62 24.98 L152.75 24.67 L152.88 24.48 L153.00 24.41 L153.12 24.48 L153.25 24.67 L153.38 24.98 L153.50 25.42 L153.62 25.97 L153.75 26.64 L153.88 27.41 L154.00 28.27 L154.12 29.22 L154.25 30.26 L154.38 31.36 L154.50 32.52 L154.62 33.72 L154.75 34.97 L154.88 36.24 L155.00 37.53 L155.12 38.83 L155.25 40.13 L155.38 41.42 L155.50 42.68 L155.62 43.92 L155.75 45.13 L155.88 46.30 L156.00 47.43 L156.12 48.51 L156.25 49.53 L156.38 50.51 L156.50 51.43 L156.62 52.29 L156.75 53.09 L156.88 53.84 L157.00 54.53 L157.12 55.17 L157.25 55.76 L157.38 56.29 L157.50 56.78 L157.62 57.22 L157.75 57.61 L157.88 57.97 L158.00 58.29 L158.12 58.57 L158.25 58.82 L158.38 59.04 L158.50 59.23 L158.62 59.40 L158.75 59.55 L158.88 59.68 L159.00 59.79 L159.12 59.89 L159.25 59.97 L159.38 60.04 L159.50 60.10 L159.62 60.15 L159.75 60.19 L159.88 60.23 L160.00 60.26 L160.12 60.29 L160.25 60.31 L160.38 60.32 L160.50 60.34 L160.62 60.35 L160.75 60.36 L160.88 60.37 L161.00 60.37" fill="none" stroke="#6a3468" stroke-width="1.20" stroke-linejoin="round" stroke-dasharray="0.01 1.75" stroke-linecap="round"/><line x1="134.50" y1="21.00" x2="224.50" y2="21.00" stroke="#3a3a3a" stroke-width="1.40" /><line x1="224.50" y1="21.00" x2="224.50" y2="60.40" stroke="#1a1a1a" stroke-width="1.10" /><line x1="134.50" y1="20.50" x2="134.50" y2="60.90" stroke="#111" stroke-width="1.00" /><line x1="134.00" y1="60.40" x2="224.50" y2="60.40" stroke="#111" stroke-width="1.00" /><text x="139.50" y="72.00" font-size="6.50" text-anchor="middle" fill="#2e2e2e" textLength="9.67" lengthAdjust="spacingAndGlyphs">-10<tspan dy="-2.47" font-size="3.58">3</tspan></text><text x="154.40" y="72.00" font-size="6.50" text-anchor="middle" fill="#2e2e2e" textLength="3.07" lengthAdjust="spacingAndGlyphs">0</text><text x="168.90" y="72.00" font-size="6.50" text-anchor="middle" fill="#2e2e2e" textLength="7.83" lengthAdjust="spacingAndGlyphs">10<tspan dy="-2.47" font-size="3.58">3</tspan></text><text x="193.50" y="72.00" font-size="6.50" text-anchor="middle" fill="#2e2e2e" textLength="7.83" lengthAdjust="spacingAndGlyphs">10<tspan dy="-2.47" font-size="3.58">4</tspan></text><text x="214.50" y="72.00" font-size="6.50" text-anchor="middle" fill="#2e2e2e" textLength="7.83" lengthAdjust="spacingAndGlyphs">10<tspan dy="-2.47" font-size="3.58">5</tspan></text><text x="179.50" y="83.90" font-size="9.00" text-anchor="middle" fill="#2e2e2e" textLength="21.5" lengthAdjust="spacingAndGlyphs" >CD11b</text><rect x="134.50" y="92.80" width="90.00" height="39.40" fill="#fff"/><path d="M159.00 132.20 L159.43 132.10 L160.03 131.96 L160.75 131.76 L161.50 131.45 L162.12 131.40 L162.79 130.56 L163.50 130.27 L164.24 129.49 L165.00 129.04 L165.65 129.42 L166.33 129.22 L167.02 127.99 L167.73 128.45 L168.46 128.25 L169.20 127.09 L169.76 127.54 L170.33 126.92 L170.90 127.17 L171.49 126.79 L172.09 127.20 L172.70 126.42 L173.34 125.95 L174.00 126.16 L174.56 125.73 L175.17 125.67 L175.81 126.27 L176.46 125.29 L177.11 125.35 L177.76 125.53 L178.38 125.67 L178.97 124.44 L179.52 124.65 L180.00 124.04 L180.80 123.11 L181.44 122.45 L181.99 121.23 L182.49 120.76 L183.00 119.05 L183.64 117.70 L184.23 115.08 L184.80 113.06 L185.40 112.00 L186.03 110.05 L186.68 108.05 L187.33 105.37 L188.00 104.45 L188.70 102.92 L189.42 102.19 L190.14 101.01 L190.80 100.38 L191.57 99.51 L192.27 98.62 L193.00 98.63 L193.61 98.91 L194.25 100.30 L194.89 101.27 L195.50 102.44 L196.23 103.20 L196.93 104.38 L197.70 106.29 L198.35 107.01 L199.05 108.80 L199.77 110.93 L200.50 113.32 L201.09 114.67 L201.69 116.83 L202.29 117.62 L202.90 119.42 L203.50 121.18 L204.12 122.79 L204.75 123.14 L205.37 124.20 L205.96 126.42 L206.50 126.57 L207.26 128.42 L207.91 129.82 L208.50 130.57 L209.38 131.47 L210.00 132.20 L210.00 132.20 L159.00 132.20 Z" fill="rgba(215,147,55,0.25)" stroke="none"/><path d="M159.00 132.20 L159.43 132.10 L160.03 131.96 L160.75 131.76 L161.50 131.45 L162.12 131.40 L162.79 130.56 L163.50 130.27 L164.24 129.49 L165.00 129.04 L165.65 129.42 L166.33 129.22 L167.02 127.99 L167.73 128.45 L168.46 128.25 L169.20 127.09 L169.76 127.54 L170.33 126.92 L170.90 127.17 L171.49 126.79 L172.09 127.20 L172.70 126.42 L173.34 125.95 L174.00 126.16 L174.56 125.73 L175.17 125.67 L175.81 126.27 L176.46 125.29 L177.11 125.35 L177.76 125.53 L178.38 125.67 L178.97 124.44 L179.52 124.65 L180.00 124.04 L180.80 123.11 L181.44 122.45 L181.99 121.23 L182.49 120.76 L183.00 119.05 L183.64 117.70 L184.23 115.08 L184.80 113.06 L185.40 112.00 L186.03 110.05 L186.68 108.05 L187.33 105.37 L188.00 104.45 L188.70 102.92 L189.42 102.19 L190.14 101.01 L190.80 100.38 L191.57 99.51 L192.27 98.62 L193.00 98.63 L193.61 98.91 L194.25 100.30 L194.89 101.27 L195.50 102.44 L196.23 103.20 L196.93 104.38 L197.70 106.29 L198.35 107.01 L199.05 108.80 L199.77 110.93 L200.50 113.32 L201.09 114.67 L201.69 116.83 L202.29 117.62 L202.90 119.42 L203.50 121.18 L204.12 122.79 L204.75 123.14 L205.37 124.20 L205.96 126.42 L206.50 126.57 L207.26 128.42 L207.91 129.82 L208.50 130.57 L209.38 131.47 L210.00 132.20" fill="none" stroke="#e39e3c" stroke-width="1.00" stroke-linejoin="round"/><path d="M159.00 132.20 L159.43 132.08 L160.03 131.92 L160.75 131.71 L161.50 131.45 L162.12 131.05 L162.79 130.61 L163.50 130.23 L164.24 129.72 L165.00 129.66 L165.65 129.19 L166.33 130.01 L167.02 129.23 L167.73 128.41 L168.46 128.51 L169.20 127.96 L169.76 128.72 L170.33 128.11 L170.90 128.20 L171.49 127.66 L172.09 127.44 L172.70 127.92 L173.34 127.48 L174.00 127.20 L174.56 126.28 L175.17 126.31 L175.81 126.90 L176.46 126.00 L177.11 126.64 L177.76 125.90 L178.38 126.30 L178.97 126.23 L179.52 124.92 L180.00 125.41 L180.80 124.69 L181.44 122.97 L181.99 122.17 L182.49 121.76 L183.00 119.61 L183.64 117.97 L184.23 115.23 L184.80 113.15 L185.40 109.86 L186.03 108.04 L186.68 105.72 L187.33 103.99 L188.00 103.11 L188.71 101.63 L189.46 100.64 L190.17 99.72 L190.80 99.26 L191.70 98.88 L192.50 100.12 L193.13 103.37 L193.79 105.97 L194.50 109.84 L195.08 112.35 L195.69 114.29 L196.33 117.17 L197.00 119.64 L197.58 121.09 L198.19 122.38 L198.81 124.61 L199.42 124.82 L200.00 127.13 L200.67 127.48 L201.31 128.35 L201.91 130.17 L202.50 129.97 L203.31 131.32 L204.07 131.78 L204.60 132.20 L204.60 132.20 L159.00 132.20 Z" fill="rgba(122,112,145,0.3)" stroke="none"/><path d="M159.00 132.20 L159.43 132.08 L160.03 131.92 L160.75 131.71 L161.50 131.45 L162.12 131.05 L162.79 130.61 L163.50 130.23 L164.24 129.72 L165.00 129.66 L165.65 129.19 L166.33 130.01 L167.02 129.23 L167.73 128.41 L168.46 128.51 L169.20 127.96 L169.76 128.72 L170.33 128.11 L170.90 128.20 L171.49 127.66 L172.09 127.44 L172.70 127.92 L173.34 127.48 L174.00 127.20 L174.56 126.28 L175.17 126.31 L175.81 126.90 L176.46 126.00 L177.11 126.64 L177.76 125.90 L178.38 126.30 L178.97 126.23 L179.52 124.92 L180.00 125.41 L180.80 124.69 L181.44 122.97 L181.99 122.17 L182.49 121.76 L183.00 119.61 L183.64 117.97 L184.23 115.23 L184.80 113.15 L185.40 109.86 L186.03 108.04 L186.68 105.72 L187.33 103.99 L188.00 103.11 L188.71 101.63 L189.46 100.64 L190.17 99.72 L190.80 99.26 L191.70 98.88 L192.50 100.12 L193.13 103.37 L193.79 105.97 L194.50 109.84 L195.08 112.35 L195.69 114.29 L196.33 117.17 L197.00 119.64 L197.58 121.09 L198.19 122.38 L198.81 124.61 L199.42 124.82 L200.00 127.13 L200.67 127.48 L201.31 128.35 L201.91 130.17 L202.50 129.97 L203.31 131.32 L204.07 131.78 L204.60 132.20" fill="none" stroke="#666675" stroke-width="0.90" stroke-linejoin="round"/><line x1="153.80" y1="95.40" x2="153.80" y2="132.20" stroke="#6a3468" stroke-width="1.10" stroke-dasharray="0.01 1.75" stroke-linecap="round"/><line x1="155.60" y1="95.40" x2="155.60" y2="132.20" stroke="#6a3468" stroke-width="1.10" stroke-dasharray="0.01 1.75" stroke-linecap="round"/><line x1="134.50" y1="92.80" x2="224.50" y2="92.80" stroke="#3a3a3a" stroke-width="1.40" /><line x1="224.50" y1="92.80" x2="224.50" y2="132.20" stroke="#1a1a1a" stroke-width="1.10" /><line x1="134.50" y1="92.30" x2="134.50" y2="132.70" stroke="#111" stroke-width="1.00" /><line x1="134.00" y1="132.20" x2="224.50" y2="132.20" stroke="#111" stroke-width="1.00" /><text x="139.50" y="143.80" font-size="6.50" text-anchor="middle" fill="#2e2e2e" textLength="9.67" lengthAdjust="spacingAndGlyphs">-10<tspan dy="-2.47" font-size="3.58">3</tspan></text><text x="154.40" y="143.80" font-size="6.50" text-anchor="middle" fill="#2e2e2e" textLength="3.07" lengthAdjust="spacingAndGlyphs">0</text><text x="168.90" y="143.80" font-size="6.50" text-anchor="middle" fill="#2e2e2e" textLength="7.83" lengthAdjust="spacingAndGlyphs">10<tspan dy="-2.47" font-size="3.58">3</tspan></text><text x="193.50" y="143.80" font-size="6.50" text-anchor="middle" fill="#2e2e2e" textLength="7.83" lengthAdjust="spacingAndGlyphs">10<tspan dy="-2.47" font-size="3.58">4</tspan></text><text x="214.50" y="143.80" font-size="6.50" text-anchor="middle" fill="#2e2e2e" textLength="7.83" lengthAdjust="spacingAndGlyphs">10<tspan dy="-2.47" font-size="3.58">5</tspan></text><text x="179.50" y="155.20" font-size="9.00" text-anchor="middle" fill="#2e2e2e" textLength="21.5" lengthAdjust="spacingAndGlyphs" >CD11b</text><rect x="233.30" y="21.00" width="89.60" height="39.40" fill="#fff"/><path d="M254.00 60.40 L254.52 59.71 L255.26 58.64 L256.00 56.78 L256.67 53.87 L257.33 49.41 L258.00 45.93 L258.67 41.13 L259.33 36.21 L260.00 32.89 L260.70 29.64 L261.40 27.39 L262.00 26.24 L262.59 24.87 L263.10 24.63 L263.74 25.40 L264.50 26.84 L265.12 29.38 L265.81 32.01 L266.50 34.72 L267.19 36.68 L267.87 38.54 L268.50 41.04 L269.28 44.68 L270.00 48.61 L270.72 51.36 L271.50 54.39 L272.10 55.66 L272.76 56.59 L273.50 57.64 L274.19 58.65 L274.98 59.64 L275.70 59.96 L276.20 60.40 L276.20 60.40 L254.00 60.40 Z" fill="rgba(90,95,90,0.12)" stroke="none"/><path d="M254.00 60.40 L254.52 59.71 L255.26 58.64 L256.00 56.78 L256.67 53.87 L257.33 49.41 L258.00 45.93 L258.67 41.13 L259.33 36.21 L260.00 32.89 L260.70 29.64 L261.40 27.39 L262.00 26.24 L262.59 24.87 L263.10 24.63 L263.74 25.40 L264.50 26.84 L265.12 29.38 L265.81 32.01 L266.50 34.72 L267.19 36.68 L267.87 38.54 L268.50 41.04 L269.28 44.68 L270.00 48.61 L270.72 51.36 L271.50 54.39 L272.10 55.66 L272.76 56.59 L273.50 57.64 L274.19 58.65 L274.98 59.64 L275.70 59.96 L276.20 60.40" fill="none" stroke="#5b8a6b" stroke-width="0.90" stroke-linejoin="round"/><path d="M251.00 60.30 L251.51 60.18 L252.02 59.93 L252.53 59.48 L253.03 58.67 L253.54 57.36 L254.05 55.35 L254.56 52.48 L255.07 48.70 L255.57 44.09 L256.08 38.97 L256.59 33.84 L257.10 29.35 L257.61 26.17 L258.12 24.81 L258.62 25.29 L259.13 27.18 L259.64 30.24 L260.15 34.13 L260.66 38.44 L261.17 42.79 L261.68 46.85 L262.18 50.39 L262.69 53.31 L263.20 55.58 L263.71 57.26 L264.22 58.43 L264.73 59.22 L265.23 59.72 L265.74 60.02 L266.25 60.20 L266.76 60.30 L267.27 60.35 L267.77 60.38 L268.28 60.39 L268.79 60.40 L269.30 60.40 L269.81 60.40 L270.32 60.40 L270.82 60.40 L271.33 60.40 L271.84 60.40 L272.35 60.40 L272.86 60.40 L273.37 60.40 L273.88 60.40 L274.38 60.40 L274.89 60.40 L275.40 60.40 L275.91 60.40 L276.42 60.40 L276.93 60.40 L277.43 60.40 L277.94 60.40 L278.45 60.40 L278.96 60.40 L279.47 60.40 L279.98 60.40 L280.48 60.40 L280.99 60.39 L281.50 60.39 L282.01 60.39 L282.52 60.38 L283.02 60.38 L283.53 60.37 L284.04 60.36 L284.55 60.35 L285.06 60.34 L285.57 60.32 L286.07 60.30 L286.58 60.27 L287.09 60.24 L287.60 60.21 L288.11 60.17 L288.62 60.13 L289.12 60.08 L289.63 60.02 L290.14 59.97 L290.65 59.90 L291.16 59.84 L291.67 59.77 L292.18 59.70 L292.68 59.63 L293.19 59.57 L293.70 59.50 L294.21 59.45 L294.72 59.39 L295.23 59.35 L295.73 59.31 L296.24 59.28 L296.75 59.26 L297.26 59.23 L297.77 59.20 L298.27 59.16 L298.78 59.10 L299.29 59.00 L299.80 58.85 L300.31 58.64 L300.82 58.35 L301.32 57.98 L301.83 57.53 L302.34 57.00 L302.85 56.43 L303.36 55.85 L303.87 55.29 L304.38 54.81 L304.88 54.45 L305.39 54.25 L305.90 54.24 L306.41 54.41 L306.92 54.76 L307.43 55.26 L307.93 55.86 L308.44 56.52 L308.95 57.18 L309.46 57.82 L309.97 58.40 L310.48 58.90 L310.98 59.31 L311.49 59.63 L312.00 59.88 L312.00 60.40 L251.00 60.40 Z" fill="rgba(205,90,70,0.2)" stroke="none"/><path d="M251.00 60.30 L251.51 60.18 L252.02 59.93 L252.53 59.48 L253.03 58.67 L253.54 57.36 L254.05 55.35 L254.56 52.48 L255.07 48.70 L255.57 44.09 L256.08 38.97 L256.59 33.84 L257.10 29.35 L257.61 26.17 L258.12 24.81 L258.62 25.29 L259.13 27.18 L259.64 30.24 L260.15 34.13 L260.66 38.44 L261.17 42.79 L261.68 46.85 L262.18 50.39 L262.69 53.31 L263.20 55.58 L263.71 57.26 L264.22 58.43 L264.73 59.22 L265.23 59.72 L265.74 60.02 L266.25 60.20 L266.76 60.30 L267.27 60.35 L267.77 60.38 L268.28 60.39 L268.79 60.40 L269.30 60.40 L269.81 60.40 L270.32 60.40 L270.82 60.40 L271.33 60.40 L271.84 60.40 L272.35 60.40 L272.86 60.40 L273.37 60.40 L273.88 60.40 L274.38 60.40 L274.89 60.40 L275.40 60.40 L275.91 60.40 L276.42 60.40 L276.93 60.40 L277.43 60.40 L277.94 60.40 L278.45 60.40 L278.96 60.40 L279.47 60.40 L279.98 60.40 L280.48 60.40 L280.99 60.39 L281.50 60.39 L282.01 60.39 L282.52 60.38 L283.02 60.38 L283.53 60.37 L284.04 60.36 L284.55 60.35 L285.06 60.34 L285.57 60.32 L286.07 60.30 L286.58 60.27 L287.09 60.24 L287.60 60.21 L288.11 60.17 L288.62 60.13 L289.12 60.08 L289.63 60.02 L290.14 59.97 L290.65 59.90 L291.16 59.84 L291.67 59.77 L292.18 59.70 L292.68 59.63 L293.19 59.57 L293.70 59.50 L294.21 59.45 L294.72 59.39 L295.23 59.35 L295.73 59.31 L296.24 59.28 L296.75 59.26 L297.26 59.23 L297.77 59.20 L298.27 59.16 L298.78 59.10 L299.29 59.00 L299.80 58.85 L300.31 58.64 L300.82 58.35 L301.32 57.98 L301.83 57.53 L302.34 57.00 L302.85 56.43 L303.36 55.85 L303.87 55.29 L304.38 54.81 L304.88 54.45 L305.39 54.25 L305.90 54.24 L306.41 54.41 L306.92 54.76 L307.43 55.26 L307.93 55.86 L308.44 56.52 L308.95 57.18 L309.46 57.82 L309.97 58.40 L310.48 58.90 L310.98 59.31 L311.49 59.63 L312.00 59.88" fill="none" stroke="#cc5533" stroke-width="1.00" stroke-linejoin="round"/><path d="M251.00 60.32 L251.12 60.30 L251.25 60.28 L251.38 60.25 L251.50 60.22 L251.62 60.18 L251.75 60.13 L251.88 60.07 L252.00 60.00 L252.12 59.92 L252.25 59.82 L252.38 59.71 L252.50 59.58 L252.62 59.43 L252.75 59.25 L252.88 59.05 L253.00 58.82 L253.12 58.56 L253.25 58.26 L253.38 57.92 L253.50 57.54 L253.62 57.11 L253.75 56.64 L253.88 56.11 L254.00 55.53 L254.12 54.89 L254.25 54.20 L254.38 53.44 L254.50 52.62 L254.62 51.73 L254.75 50.79 L254.88 49.78 L255.00 48.72 L255.12 47.59 L255.25 46.42 L255.38 45.19 L255.50 43.92 L255.62 42.62 L255.75 41.29 L255.88 39.94 L256.00 38.57 L256.12 37.21 L256.25 35.86 L256.38 34.53 L256.50 33.24 L256.62 31.99 L256.75 30.80 L256.88 29.68 L257.00 28.64 L257.12 27.70 L257.25 26.86 L257.38 26.13 L257.50 25.52 L257.62 25.04 L257.75 24.69 L257.88 24.48 L258.00 24.41 L258.12 24.47 L258.25 24.64 L258.38 24.93 L258.50 25.33 L258.62 25.84 L258.75 26.44 L258.88 27.15 L259.00 27.95 L259.12 28.82 L259.25 29.78 L259.38 30.80 L259.50 31.88 L259.62 33.00 L259.75 34.17 L259.88 35.37 L260.00 36.59 L260.12 37.83 L260.25 39.07 L260.38 40.31 L260.50 41.53 L260.62 42.74 L260.75 43.92 L260.88 45.08 L261.00 46.20 L261.12 47.28 L261.25 48.31 L261.38 49.31 L261.50 50.25 L261.62 51.14 L261.75 51.98 L261.88 52.77 L262.00 53.51 L262.12 54.20 L262.25 54.83 L262.38 55.42 L262.50 55.96 L262.62 56.45 L262.75 56.90 L262.88 57.31 L263.00 57.68 L263.12 58.01 L263.25 58.31 L263.38 58.58 L263.50 58.82 L263.62 59.03 L263.75 59.22 L263.88 59.38 L264.00 59.53 L264.12 59.65 L264.25 59.76 L264.38 59.86 L264.50 59.94 L264.62 60.01 L264.75 60.07 L264.88 60.13 L265.00 60.17 L265.12 60.21 L265.25 60.24 L265.38 60.27 L265.50 60.29 L265.62 60.31 L265.75 60.33 L265.88 60.34 L266.00 60.35 L266.00 60.40 L251.00 60.40 Z" fill="rgba(130,150,205,0.22)" stroke="none"/><path d="M251.00 60.32 L251.12 60.30 L251.25 60.28 L251.38 60.25 L251.50 60.22 L251.62 60.18 L251.75 60.13 L251.88 60.07 L252.00 60.00 L252.12 59.92 L252.25 59.82 L252.38 59.71 L252.50 59.58 L252.62 59.43 L252.75 59.25 L252.88 59.05 L253.00 58.82 L253.12 58.56 L253.25 58.26 L253.38 57.92 L253.50 57.54 L253.62 57.11 L253.75 56.64 L253.88 56.11 L254.00 55.53 L254.12 54.89 L254.25 54.20 L254.38 53.44 L254.50 52.62 L254.62 51.73 L254.75 50.79 L254.88 49.78 L255.00 48.72 L255.12 47.59 L255.25 46.42 L255.38 45.19 L255.50 43.92 L255.62 42.62 L255.75 41.29 L255.88 39.94 L256.00 38.57 L256.12 37.21 L256.25 35.86 L256.38 34.53 L256.50 33.24 L256.62 31.99 L256.75 30.80 L256.88 29.68 L257.00 28.64 L257.12 27.70 L257.25 26.86 L257.38 26.13 L257.50 25.52 L257.62 25.04 L257.75 24.69 L257.88 24.48 L258.00 24.41 L258.12 24.47 L258.25 24.64 L258.38 24.93 L258.50 25.33 L258.62 25.84 L258.75 26.44 L258.88 27.15 L259.00 27.95 L259.12 28.82 L259.25 29.78 L259.38 30.80 L259.50 31.88 L259.62 33.00 L259.75 34.17 L259.88 35.37 L260.00 36.59 L260.12 37.83 L260.25 39.07 L260.38 40.31 L260.50 41.53 L260.62 42.74 L260.75 43.92 L260.88 45.08 L261.00 46.20 L261.12 47.28 L261.25 48.31 L261.38 49.31 L261.50 50.25 L261.62 51.14 L261.75 51.98 L261.88 52.77 L262.00 53.51 L262.12 54.20 L262.25 54.83 L262.38 55.42 L262.50 55.96 L262.62 56.45 L262.75 56.90 L262.88 57.31 L263.00 57.68 L263.12 58.01 L263.25 58.31 L263.38 58.58 L263.50 58.82 L263.62 59.03 L263.75 59.22 L263.88 59.38 L264.00 59.53 L264.12 59.65 L264.25 59.76 L264.38 59.86 L264.50 59.94 L264.62 60.01 L264.75 60.07 L264.88 60.13 L265.00 60.17 L265.12 60.21 L265.25 60.24 L265.38 60.27 L265.50 60.29 L265.62 60.31 L265.75 60.33 L265.88 60.34 L266.00 60.35" fill="none" stroke="#5b80c2" stroke-width="1.00" stroke-linejoin="round"/><path d="M252.00 60.15 L252.10 60.11 L252.20 60.06 L252.30 60.00 L252.40 59.93 L252.50 59.85 L252.60 59.77 L252.70 59.66 L252.80 59.55 L252.90 59.42 L253.00 59.27 L253.10 59.11 L253.20 58.92 L253.30 58.71 L253.40 58.48 L253.50 58.22 L253.60 57.94 L253.70 57.62 L253.80 57.27 L253.90 56.89 L254.00 56.48 L254.10 56.02 L254.20 55.53 L254.30 55.00 L254.40 54.42 L254.50 53.80 L254.60 53.14 L254.70 52.44 L254.80 51.69 L254.90 50.89 L255.00 50.05 L255.10 49.17 L255.20 48.25 L255.30 47.29 L255.40 46.29 L255.50 45.26 L255.60 44.19 L255.70 43.10 L255.80 41.99 L255.90 40.86 L256.00 39.72 L256.10 38.57 L256.20 37.43 L256.30 36.28 L256.40 35.16 L256.50 34.05 L256.60 32.97 L256.70 31.92 L256.80 30.92 L256.90 29.97 L257.00 29.07 L257.10 28.23 L257.20 27.47 L257.30 26.77 L257.40 26.16 L257.50 25.64 L257.60 25.20 L257.70 24.86 L257.80 24.61 L257.90 24.46 L258.00 24.41 L258.10 24.46 L258.20 24.61 L258.30 24.86 L258.40 25.20 L258.50 25.64 L258.60 26.16 L258.70 26.77 L258.80 27.47 L258.90 28.23 L259.00 29.07 L259.10 29.97 L259.20 30.92 L259.30 31.92 L259.40 32.97 L259.50 34.05 L259.60 35.16 L259.70 36.28 L259.80 37.43 L259.90 38.57 L260.00 39.72 L260.10 40.86 L260.20 41.99 L260.30 43.10 L260.40 44.19 L260.50 45.26 L260.60 46.29 L260.70 47.29 L260.80 48.25 L260.90 49.17 L261.00 50.05 L261.10 50.89 L261.20 51.69 L261.30 52.44 L261.40 53.14 L261.50 53.80 L261.60 54.42 L261.70 55.00 L261.80 55.53 L261.90 56.02 L262.00 56.48 L262.10 56.89 L262.20 57.27 L262.30 57.62 L262.40 57.94 L262.50 58.22 L262.60 58.48 L262.70 58.71 L262.80 58.92 L262.90 59.11 L263.00 59.27 L263.10 59.42 L263.20 59.55 L263.30 59.66 L263.40 59.77 L263.50 59.85 L263.60 59.93 L263.70 60.00 L263.80 60.06 L263.90 60.11 L264.00 60.15" fill="none" stroke="#6a3468" stroke-width="1.20" stroke-linejoin="round" stroke-dasharray="0.01 1.75" stroke-linecap="round"/><line x1="233.30" y1="21.00" x2="322.90" y2="21.00" stroke="#3a3a3a" stroke-width="1.40" /><line x1="322.90" y1="21.00" x2="322.90" y2="60.40" stroke="#1a1a1a" stroke-width="1.10" /><line x1="233.30" y1="20.50" x2="233.30" y2="60.90" stroke="#111" stroke-width="1.00" /><line x1="232.80" y1="60.40" x2="322.90" y2="60.40" stroke="#111" stroke-width="1.00" /><text x="238.30" y="72.00" font-size="6.50" text-anchor="middle" fill="#2e2e2e" textLength="9.67" lengthAdjust="spacingAndGlyphs">-10<tspan dy="-2.47" font-size="3.58">3</tspan></text><text x="253.20" y="72.00" font-size="6.50" text-anchor="middle" fill="#2e2e2e" textLength="3.07" lengthAdjust="spacingAndGlyphs">0</text><text x="267.70" y="72.00" font-size="6.50" text-anchor="middle" fill="#2e2e2e" textLength="7.83" lengthAdjust="spacingAndGlyphs">10<tspan dy="-2.47" font-size="3.58">3</tspan></text><text x="292.30" y="72.00" font-size="6.50" text-anchor="middle" fill="#2e2e2e" textLength="7.83" lengthAdjust="spacingAndGlyphs">10<tspan dy="-2.47" font-size="3.58">4</tspan></text><text x="313.30" y="72.00" font-size="6.50" text-anchor="middle" fill="#2e2e2e" textLength="7.83" lengthAdjust="spacingAndGlyphs">10<tspan dy="-2.47" font-size="3.58">5</tspan></text><text x="278.10" y="83.90" font-size="9.00" text-anchor="middle" fill="#2e2e2e" textLength="18.0" lengthAdjust="spacingAndGlyphs" >CD63</text><rect x="233.30" y="92.80" width="89.60" height="39.40" fill="#fff"/><path d="M251.00 132.20 L251.48 132.18 L252.30 131.82 L252.87 131.67 L253.54 130.67 L254.27 130.14 L255.00 129.07 L255.60 128.35 L256.23 128.26 L256.86 127.52 L257.46 125.75 L258.00 125.72 L258.70 124.69 L259.30 122.80 L260.00 122.46 L260.55 121.35 L261.18 121.05 L261.82 120.15 L262.45 120.17 L263.00 119.25 L263.69 119.08 L264.26 120.07 L265.00 120.25 L265.60 120.42 L266.29 121.19 L267.03 120.34 L267.78 120.50 L268.50 120.78 L269.18 121.02 L269.83 119.91 L270.50 120.24 L271.21 119.76 L272.00 119.34 L272.55 119.36 L273.15 118.93 L273.77 119.36 L274.41 118.65 L275.06 118.84 L275.70 117.99 L276.32 117.77 L276.90 118.40 L277.63 117.88 L278.33 117.26 L279.01 115.80 L279.67 115.84 L280.33 115.00 L281.00 114.77 L281.67 113.86 L282.34 113.30 L283.01 112.62 L283.67 111.61 L284.33 110.92 L285.00 109.91 L285.67 109.60 L286.36 108.76 L287.04 108.34 L287.72 107.70 L288.37 107.62 L289.00 107.79 L289.70 106.41 L290.34 105.76 L290.97 105.34 L291.61 105.34 L292.30 104.87 L292.93 105.29 L293.61 104.39 L294.31 104.62 L295.00 104.97 L295.64 105.37 L296.20 104.70 L297.06 105.57 L297.74 108.19 L298.50 109.28 L299.06 111.24 L299.67 113.33 L300.30 115.02 L300.92 116.19 L301.50 117.46 L302.17 119.69 L302.80 119.87 L303.41 121.22 L304.00 121.03 L304.73 122.15 L305.43 121.98 L306.20 122.60 L306.88 124.07 L307.61 124.57 L308.34 126.53 L309.00 127.82 L309.73 128.32 L310.36 130.01 L311.00 130.68 L311.74 131.21 L312.48 131.75 L313.00 132.20 L313.00 132.20 L251.00 132.20 Z" fill="rgba(215,147,55,0.25)" stroke="none"/><path d="M251.00 132.20 L251.48 132.18 L252.30 131.82 L252.87 131.67 L253.54 130.67 L254.27 130.14 L255.00 129.07 L255.60 128.35 L256.23 128.26 L256.86 127.52 L257.46 125.75 L258.00 125.72 L258.70 124.69 L259.30 122.80 L260.00 122.46 L260.55 121.35 L261.18 121.05 L261.82 120.15 L262.45 120.17 L263.00 119.25 L263.69 119.08 L264.26 120.07 L265.00 120.25 L265.60 120.42 L266.29 121.19 L267.03 120.34 L267.78 120.50 L268.50 120.78 L269.18 121.02 L269.83 119.91 L270.50 120.24 L271.21 119.76 L272.00 119.34 L272.55 119.36 L273.15 118.93 L273.77 119.36 L274.41 118.65 L275.06 118.84 L275.70 117.99 L276.32 117.77 L276.90 118.40 L277.63 117.88 L278.33 117.26 L279.01 115.80 L279.67 115.84 L280.33 115.00 L281.00 114.77 L281.67 113.86 L282.34 113.30 L283.01 112.62 L283.67 111.61 L284.33 110.92 L285.00 109.91 L285.67 109.60 L286.36 108.76 L287.04 108.34 L287.72 107.70 L288.37 107.62 L289.00 107.79 L289.70 106.41 L290.34 105.76 L290.97 105.34 L291.61 105.34 L292.30 104.87 L292.93 105.29 L293.61 104.39 L294.31 104.62 L295.00 104.97 L295.64 105.37 L296.20 104.70 L297.06 105.57 L297.74 108.19 L298.50 109.28 L299.06 111.24 L299.67 113.33 L300.30 115.02 L300.92 116.19 L301.50 117.46 L302.17 119.69 L302.80 119.87 L303.41 121.22 L304.00 121.03 L304.73 122.15 L305.43 121.98 L306.20 122.60 L306.88 124.07 L307.61 124.57 L308.34 126.53 L309.00 127.82 L309.73 128.32 L310.36 130.01 L311.00 130.68 L311.74 131.21 L312.48 131.75 L313.00 132.20" fill="none" stroke="#e39e3c" stroke-width="1.00" stroke-linejoin="round"/><path d="M258.00 132.20 L258.48 132.06 L259.19 131.84 L260.00 131.45 L260.52 130.97 L261.08 130.44 L261.68 129.92 L262.32 129.23 L263.00 128.90 L263.61 128.14 L264.27 128.62 L264.95 127.45 L265.64 126.21 L266.33 125.90 L267.00 124.95 L267.65 125.26 L268.30 124.19 L268.95 123.81 L269.59 122.82 L270.20 122.17 L270.80 122.26 L271.48 121.35 L272.14 120.64 L272.77 119.28 L273.39 118.89 L274.00 119.07 L274.76 117.74 L275.52 118.06 L276.24 116.97 L276.90 116.86 L277.64 115.67 L278.30 113.04 L279.00 112.25 L279.60 111.08 L280.23 108.97 L280.87 107.96 L281.50 107.64 L282.13 105.95 L282.77 105.69 L283.40 104.83 L284.00 104.73 L284.75 103.02 L285.47 102.59 L286.20 101.56 L286.96 100.96 L287.73 101.04 L288.50 100.41 L289.29 100.14 L290.08 99.75 L290.80 99.64 L291.66 99.61 L292.50 99.74 L293.18 100.57 L293.90 99.87 L294.60 100.81 L295.24 101.99 L295.87 102.93 L296.50 105.15 L297.16 107.49 L297.83 109.69 L298.50 111.65 L299.15 114.27 L299.80 114.83 L300.50 117.73 L301.09 118.35 L301.72 119.80 L302.36 122.34 L303.00 122.83 L303.64 124.61 L304.28 125.53 L304.91 127.29 L305.50 128.23 L306.22 129.24 L306.89 129.31 L307.50 131.06 L308.38 131.64 L309.00 132.20 L309.00 132.20 L258.00 132.20 Z" fill="rgba(122,112,145,0.3)" stroke="none"/><path d="M258.00 132.20 L258.48 132.06 L259.19 131.84 L260.00 131.45 L260.52 130.97 L261.08 130.44 L261.68 129.92 L262.32 129.23 L263.00 128.90 L263.61 128.14 L264.27 128.62 L264.95 127.45 L265.64 126.21 L266.33 125.90 L267.00 124.95 L267.65 125.26 L268.30 124.19 L268.95 123.81 L269.59 122.82 L270.20 122.17 L270.80 122.26 L271.48 121.35 L272.14 120.64 L272.77 119.28 L273.39 118.89 L274.00 119.07 L274.76 117.74 L275.52 118.06 L276.24 116.97 L276.90 116.86 L277.64 115.67 L278.30 113.04 L279.00 112.25 L279.60 111.08 L280.23 108.97 L280.87 107.96 L281.50 107.64 L282.13 105.95 L282.77 105.69 L283.40 104.83 L284.00 104.73 L284.75 103.02 L285.47 102.59 L286.20 101.56 L286.96 100.96 L287.73 101.04 L288.50 100.41 L289.29 100.14 L290.08 99.75 L290.80 99.64 L291.66 99.61 L292.50 99.74 L293.18 100.57 L293.90 99.87 L294.60 100.81 L295.24 101.99 L295.87 102.93 L296.50 105.15 L297.16 107.49 L297.83 109.69 L298.50 111.65 L299.15 114.27 L299.80 114.83 L300.50 117.73 L301.09 118.35 L301.72 119.80 L302.36 122.34 L303.00 122.83 L303.64 124.61 L304.28 125.53 L304.91 127.29 L305.50 128.23 L306.22 129.24 L306.89 129.31 L307.50 131.06 L308.38 131.64 L309.00 132.20" fill="none" stroke="#666675" stroke-width="0.90" stroke-linejoin="round"/><path d="M251.50 131.80 L251.60 131.74 L251.69 131.67 L251.79 131.58 L251.88 131.49 L251.98 131.38 L252.07 131.26 L252.17 131.12 L252.27 130.97 L252.36 130.80 L252.46 130.61 L252.55 130.40 L252.65 130.17 L252.75 129.91 L252.84 129.63 L252.94 129.32 L253.03 128.97 L253.13 128.60 L253.22 128.20 L253.32 127.76 L253.42 127.28 L253.51 126.77 L253.61 126.22 L253.70 125.63 L253.80 125.00 L253.90 124.33 L253.99 123.61 L254.09 122.86 L254.18 122.07 L254.28 121.24 L254.38 120.37 L254.47 119.47 L254.57 118.53 L254.66 117.56 L254.76 116.56 L254.85 115.53 L254.95 114.48 L255.05 113.42 L255.14 112.34 L255.24 111.25 L255.33 110.15 L255.43 109.06 L255.53 107.98 L255.62 106.91 L255.72 105.86 L255.81 104.84 L255.91 103.85 L256.00 102.90 L256.10 101.99 L256.20 101.14 L256.29 100.34 L256.39 99.60 L256.48 98.93 L256.58 98.34 L256.68 97.82 L256.77 97.38 L256.87 97.03 L256.96 96.76 L257.06 96.58 L257.15 96.49 L257.25 96.49 L257.35 96.59 L257.44 96.77 L257.54 97.04 L257.63 97.40 L257.73 97.84 L257.82 98.36 L257.92 98.96 L258.02 99.63 L258.11 100.37 L258.21 101.17 L258.30 102.03 L258.40 102.94 L258.50 103.89 L258.59 104.88 L258.69 105.91 L258.78 106.96 L258.88 108.03 L258.98 109.11 L259.07 110.20 L259.17 111.29 L259.26 112.38 L259.36 113.46 L259.45 114.53 L259.55 115.58 L259.65 116.60 L259.74 117.60 L259.84 118.57 L259.93 119.51 L260.03 120.41 L260.12 121.28 L260.22 122.11 L260.32 122.90 L260.41 123.65 L260.51 124.36 L260.60 125.02 L260.70 125.65 L260.80 126.24 L260.89 126.79 L260.99 127.30 L261.08 127.78 L261.18 128.21 L261.27 128.62 L261.37 128.99 L261.47 129.33 L261.56 129.64 L261.66 129.92 L261.75 130.18 L261.85 130.41 L261.95 130.62 L262.04 130.81 L262.14 130.98 L262.23 131.13 L262.33 131.27 L262.43 131.39 L262.52 131.49 L262.62 131.59 L262.71 131.67 L262.81 131.74 L262.90 131.81 L263.00 131.86" fill="none" stroke="#6a3468" stroke-width="1.20" stroke-linejoin="round" stroke-dasharray="0.01 1.75" stroke-linecap="round"/><line x1="233.30" y1="92.80" x2="322.90" y2="92.80" stroke="#3a3a3a" stroke-width="1.40" /><line x1="322.90" y1="92.80" x2="322.90" y2="132.20" stroke="#1a1a1a" stroke-width="1.10" /><line x1="233.30" y1="92.30" x2="233.30" y2="132.70" stroke="#111" stroke-width="1.00" /><line x1="232.80" y1="132.20" x2="322.90" y2="132.20" stroke="#111" stroke-width="1.00" /><text x="238.30" y="143.80" font-size="6.50" text-anchor="middle" fill="#2e2e2e" textLength="9.67" lengthAdjust="spacingAndGlyphs">-10<tspan dy="-2.47" font-size="3.58">3</tspan></text><text x="253.20" y="143.80" font-size="6.50" text-anchor="middle" fill="#2e2e2e" textLength="3.07" lengthAdjust="spacingAndGlyphs">0</text><text x="267.70" y="143.80" font-size="6.50" text-anchor="middle" fill="#2e2e2e" textLength="7.83" lengthAdjust="spacingAndGlyphs">10<tspan dy="-2.47" font-size="3.58">3</tspan></text><text x="292.30" y="143.80" font-size="6.50" text-anchor="middle" fill="#2e2e2e" textLength="7.83" lengthAdjust="spacingAndGlyphs">10<tspan dy="-2.47" font-size="3.58">4</tspan></text><text x="313.30" y="143.80" font-size="6.50" text-anchor="middle" fill="#2e2e2e" textLength="7.83" lengthAdjust="spacingAndGlyphs">10<tspan dy="-2.47" font-size="3.58">5</tspan></text><text x="278.10" y="155.20" font-size="9.00" text-anchor="middle" fill="#2e2e2e" textLength="18.0" lengthAdjust="spacingAndGlyphs" >CD63</text><rect x="332.20" y="21.00" width="89.30" height="39.40" fill="#fff"/><path d="M381.00 60.29 L381.13 60.27 L381.27 60.25 L381.40 60.22 L381.53 60.18 L381.67 60.14 L381.80 60.09 L381.93 60.03 L382.07 59.96 L382.20 59.88 L382.33 59.79 L382.47 59.69 L382.60 59.57 L382.73 59.44 L382.87 59.28 L383.00 59.11 L383.13 58.91 L383.27 58.69 L383.40 58.44 L383.53 58.16 L383.67 57.85 L383.80 57.51 L383.93 57.13 L384.07 56.71 L384.20 56.25 L384.33 55.75 L384.47 55.20 L384.60 54.61 L384.73 53.97 L384.87 53.28 L385.00 52.54 L385.13 51.75 L385.27 50.91 L385.40 50.02 L385.53 49.08 L385.67 48.10 L385.80 47.07 L385.93 46.00 L386.07 44.89 L386.20 43.75 L386.33 42.58 L386.47 41.39 L386.60 40.18 L386.73 38.96 L386.87 37.74 L387.00 36.51 L387.13 35.31 L387.27 34.12 L387.40 32.96 L387.53 31.83 L387.67 30.75 L387.80 29.73 L387.93 28.77 L388.07 27.88 L388.20 27.06 L388.33 26.34 L388.47 25.70 L388.60 25.16 L388.73 24.72 L388.87 24.39 L389.00 24.17 L389.13 24.06 L389.27 24.06 L389.40 24.19 L389.53 24.46 L389.67 24.85 L389.80 25.37 L389.93 26.01 L390.07 26.76 L390.20 27.61 L390.33 28.56 L390.47 29.60 L390.60 30.71 L390.73 31.88 L390.87 33.11 L391.00 34.38 L391.13 35.69 L391.27 37.01 L391.40 38.35 L391.53 39.68 L391.67 41.01 L391.80 42.32 L391.93 43.60 L392.07 44.84 L392.20 46.05 L392.33 47.21 L392.47 48.33 L392.60 49.39 L392.73 50.39 L392.87 51.33 L393.00 52.22 L393.13 53.05 L393.27 53.81 L393.40 54.52 L393.53 55.17 L393.67 55.77 L393.80 56.31 L393.93 56.81 L394.07 57.25 L394.20 57.65 L394.33 58.01 L394.47 58.33 L394.60 58.61 L394.73 58.86 L394.87 59.08 L395.00 59.27 L395.13 59.44 L395.27 59.59 L395.40 59.71 L395.53 59.82 L395.67 59.92 L395.80 60.00 L395.93 60.06 L396.07 60.12 L396.20 60.17 L396.33 60.21 L396.47 60.24 L396.60 60.27 L396.73 60.30 L396.87 60.32 L397.00 60.33 L397.00 60.40 L381.00 60.40 Z" fill="rgba(130,150,205,0.22)" stroke="none"/><path d="M381.00 60.29 L381.13 60.27 L381.27 60.25 L381.40 60.22 L381.53 60.18 L381.67 60.14 L381.80 60.09 L381.93 60.03 L382.07 59.96 L382.20 59.88 L382.33 59.79 L382.47 59.69 L382.60 59.57 L382.73 59.44 L382.87 59.28 L383.00 59.11 L383.13 58.91 L383.27 58.69 L383.40 58.44 L383.53 58.16 L383.67 57.85 L383.80 57.51 L383.93 57.13 L384.07 56.71 L384.20 56.25 L384.33 55.75 L384.47 55.20 L384.60 54.61 L384.73 53.97 L384.87 53.28 L385.00 52.54 L385.13 51.75 L385.27 50.91 L385.40 50.02 L385.53 49.08 L385.67 48.10 L385.80 47.07 L385.93 46.00 L386.07 44.89 L386.20 43.75 L386.33 42.58 L386.47 41.39 L386.60 40.18 L386.73 38.96 L386.87 37.74 L387.00 36.51 L387.13 35.31 L387.27 34.12 L387.40 32.96 L387.53 31.83 L387.67 30.75 L387.80 29.73 L387.93 28.77 L388.07 27.88 L388.20 27.06 L388.33 26.34 L388.47 25.70 L388.60 25.16 L388.73 24.72 L388.87 24.39 L389.00 24.17 L389.13 24.06 L389.27 24.06 L389.40 24.19 L389.53 24.46 L389.67 24.85 L389.80 25.37 L389.93 26.01 L390.07 26.76 L390.20 27.61 L390.33 28.56 L390.47 29.60 L390.60 30.71 L390.73 31.88 L390.87 33.11 L391.00 34.38 L391.13 35.69 L391.27 37.01 L391.40 38.35 L391.53 39.68 L391.67 41.01 L391.80 42.32 L391.93 43.60 L392.07 44.84 L392.20 46.05 L392.33 47.21 L392.47 48.33 L392.60 49.39 L392.73 50.39 L392.87 51.33 L393.00 52.22 L393.13 53.05 L393.27 53.81 L393.40 54.52 L393.53 55.17 L393.67 55.77 L393.80 56.31 L393.93 56.81 L394.07 57.25 L394.20 57.65 L394.33 58.01 L394.47 58.33 L394.60 58.61 L394.73 58.86 L394.87 59.08 L395.00 59.27 L395.13 59.44 L395.27 59.59 L395.40 59.71 L395.53 59.82 L395.67 59.92 L395.80 60.00 L395.93 60.06 L396.07 60.12 L396.20 60.17 L396.33 60.21 L396.47 60.24 L396.60 60.27 L396.73 60.30 L396.87 60.32 L397.00 60.33" fill="none" stroke="#5b80c2" stroke-width="1.00" stroke-linejoin="round"/><path d="M356.00 60.40 L356.71 60.35 L357.70 59.31 L358.43 57.36 L359.23 54.73 L360.00 50.85 L360.69 47.42 L361.34 42.45 L362.00 37.84 L362.69 34.48 L363.38 30.45 L364.00 27.67 L364.76 26.54 L365.40 25.99 L365.94 25.31 L366.50 25.56 L367.19 26.03 L368.00 28.01 L368.63 29.82 L369.31 32.27 L370.00 34.43 L370.67 36.53 L371.33 39.28 L372.00 41.65 L372.67 44.45 L373.33 46.70 L374.00 49.57 L374.65 51.69 L375.30 53.55 L376.00 55.41 L376.61 56.89 L377.28 58.27 L377.93 59.10 L378.50 59.66 L379.41 60.28 L380.00 60.40 L380.00 60.40 L356.00 60.40 Z" fill="rgba(90,95,90,0.12)" stroke="none"/><path d="M356.00 60.40 L356.71 60.35 L357.70 59.31 L358.43 57.36 L359.23 54.73 L360.00 50.85 L360.69 47.42 L361.34 42.45 L362.00 37.84 L362.69 34.48 L363.38 30.45 L364.00 27.67 L364.76 26.54 L365.40 25.99 L365.94 25.31 L366.50 25.56 L367.19 26.03 L368.00 28.01 L368.63 29.82 L369.31 32.27 L370.00 34.43 L370.67 36.53 L371.33 39.28 L372.00 41.65 L372.67 44.45 L373.33 46.70 L374.00 49.57 L374.65 51.69 L375.30 53.55 L376.00 55.41 L376.61 56.89 L377.28 58.27 L377.93 59.10 L378.50 59.66 L379.41 60.28 L380.00 60.40" fill="none" stroke="#5b8a6b" stroke-width="0.90" stroke-linejoin="round"/><path d="M359.00 60.40 L359.45 60.40 L360.10 60.36 L360.80 59.24 L361.51 56.83 L362.27 53.25 L363.00 49.44 L363.70 44.25 L364.38 38.87 L365.00 34.34 L365.82 29.69 L366.50 26.26 L366.98 25.23 L367.40 25.30 L367.91 25.05 L368.50 25.97 L369.19 28.74 L370.00 31.25 L370.63 33.71 L371.31 36.40 L372.00 39.01 L372.67 41.28 L373.33 43.91 L374.00 46.19 L374.67 48.57 L375.33 51.16 L376.00 52.82 L376.70 54.44 L377.39 55.94 L378.00 57.36 L378.61 58.84 L379.20 59.58 L379.82 59.75 L380.51 60.14 L381.00 60.40 L381.00 60.40 L359.00 60.40 Z" fill="rgba(205,90,70,0.2)" stroke="none"/><path d="M359.00 60.40 L359.45 60.40 L360.10 60.36 L360.80 59.24 L361.51 56.83 L362.27 53.25 L363.00 49.44 L363.70 44.25 L364.38 38.87 L365.00 34.34 L365.82 29.69 L366.50 26.26 L366.98 25.23 L367.40 25.30 L367.91 25.05 L368.50 25.97 L369.19 28.74 L370.00 31.25 L370.63 33.71 L371.31 36.40 L372.00 39.01 L372.67 41.28 L373.33 43.91 L374.00 46.19 L374.67 48.57 L375.33 51.16 L376.00 52.82 L376.70 54.44 L377.39 55.94 L378.00 57.36 L378.61 58.84 L379.20 59.58 L379.82 59.75 L380.51 60.14 L381.00 60.40" fill="none" stroke="#cc5533" stroke-width="1.00" stroke-linejoin="round"/><line x1="351.90" y1="24.20" x2="351.90" y2="60.40" stroke="#6a3468" stroke-width="1.10" stroke-dasharray="0.01 1.75" stroke-linecap="round"/><line x1="353.30" y1="24.20" x2="353.30" y2="60.40" stroke="#6a3468" stroke-width="1.10" stroke-dasharray="0.01 1.75" stroke-linecap="round"/><line x1="332.20" y1="21.00" x2="421.50" y2="21.00" stroke="#3a3a3a" stroke-width="1.40" /><line x1="421.50" y1="21.00" x2="421.50" y2="60.40" stroke="#1a1a1a" stroke-width="1.10" /><line x1="332.20" y1="20.50" x2="332.20" y2="60.90" stroke="#111" stroke-width="1.00" /><line x1="331.70" y1="60.40" x2="421.50" y2="60.40" stroke="#111" stroke-width="1.00" /><text x="337.20" y="72.00" font-size="6.50" text-anchor="middle" fill="#2e2e2e" textLength="9.67" lengthAdjust="spacingAndGlyphs">-10<tspan dy="-2.47" font-size="3.58">3</tspan></text><text x="352.10" y="72.00" font-size="6.50" text-anchor="middle" fill="#2e2e2e" textLength="3.07" lengthAdjust="spacingAndGlyphs">0</text><text x="366.60" y="72.00" font-size="6.50" text-anchor="middle" fill="#2e2e2e" textLength="7.83" lengthAdjust="spacingAndGlyphs">10<tspan dy="-2.47" font-size="3.58">3</tspan></text><text x="391.20" y="72.00" font-size="6.50" text-anchor="middle" fill="#2e2e2e" textLength="7.83" lengthAdjust="spacingAndGlyphs">10<tspan dy="-2.47" font-size="3.58">4</tspan></text><text x="412.20" y="72.00" font-size="6.50" text-anchor="middle" fill="#2e2e2e" textLength="7.83" lengthAdjust="spacingAndGlyphs">10<tspan dy="-2.47" font-size="3.58">5</tspan></text><text x="376.85" y="83.90" font-size="9.00" text-anchor="middle" fill="#2e2e2e" textLength="17.5" lengthAdjust="spacingAndGlyphs" >CD18</text><rect x="332.20" y="92.80" width="89.30" height="39.40" fill="#fff"/><path d="M351.00 132.20 L351.50 132.02 L352.23 131.71 L353.00 131.39 L353.76 129.78 L354.57 128.42 L355.40 126.81 L356.03 126.15 L356.66 126.35 L357.32 126.03 L358.00 124.65 L358.56 125.01 L359.14 124.73 L359.74 123.51 L360.36 123.86 L361.00 123.15 L361.58 123.39 L362.20 123.04 L362.84 123.48 L363.47 122.74 L364.06 122.25 L364.60 122.40 L365.50 121.40 L366.26 120.57 L367.00 120.32 L367.74 118.51 L368.47 117.65 L369.20 116.65 L369.95 115.13 L370.71 112.00 L371.50 110.42 L372.10 108.72 L372.71 107.16 L373.34 106.06 L374.00 104.62 L374.57 104.38 L375.18 103.08 L375.80 102.76 L376.41 101.48 L377.00 100.91 L377.72 101.09 L378.42 100.35 L379.10 99.72 L379.70 98.55 L380.36 99.30 L380.92 99.60 L381.50 100.86 L382.13 101.78 L382.79 103.43 L383.50 105.31 L384.09 106.69 L384.72 108.60 L385.36 110.21 L386.00 112.43 L386.62 114.04 L387.25 116.05 L387.88 117.78 L388.50 119.96 L389.14 122.31 L389.78 123.17 L390.41 124.61 L391.00 126.07 L391.72 127.99 L392.38 129.05 L393.00 130.67 L393.93 131.49 L394.60 132.20 L394.60 132.20 L351.00 132.20 Z" fill="rgba(215,147,55,0.25)" stroke="none"/><path d="M351.00 132.20 L351.50 132.02 L352.23 131.71 L353.00 131.39 L353.76 129.78 L354.57 128.42 L355.40 126.81 L356.03 126.15 L356.66 126.35 L357.32 126.03 L358.00 124.65 L358.56 125.01 L359.14 124.73 L359.74 123.51 L360.36 123.86 L361.00 123.15 L361.58 123.39 L362.20 123.04 L362.84 123.48 L363.47 122.74 L364.06 122.25 L364.60 122.40 L365.50 121.40 L366.26 120.57 L367.00 120.32 L367.74 118.51 L368.47 117.65 L369.20 116.65 L369.95 115.13 L370.71 112.00 L371.50 110.42 L372.10 108.72 L372.71 107.16 L373.34 106.06 L374.00 104.62 L374.57 104.38 L375.18 103.08 L375.80 102.76 L376.41 101.48 L377.00 100.91 L377.72 101.09 L378.42 100.35 L379.10 99.72 L379.70 98.55 L380.36 99.30 L380.92 99.60 L381.50 100.86 L382.13 101.78 L382.79 103.43 L383.50 105.31 L384.09 106.69 L384.72 108.60 L385.36 110.21 L386.00 112.43 L386.62 114.04 L387.25 116.05 L387.88 117.78 L388.50 119.96 L389.14 122.31 L389.78 123.17 L390.41 124.61 L391.00 126.07 L391.72 127.99 L392.38 129.05 L393.00 130.67 L393.93 131.49 L394.60 132.20" fill="none" stroke="#e39e3c" stroke-width="1.00" stroke-linejoin="round"/><path d="M350.50 132.20 L350.95 132.09 L351.60 131.89 L352.30 131.45 L352.99 130.48 L353.73 129.26 L354.50 128.08 L355.09 127.04 L355.70 126.34 L356.33 125.24 L357.00 125.62 L357.54 124.73 L358.09 123.91 L358.66 124.09 L359.29 123.64 L360.00 124.39 L360.59 123.82 L361.26 123.97 L361.97 123.49 L362.70 123.33 L363.40 123.85 L364.04 123.40 L364.60 123.07 L365.57 121.48 L366.30 120.63 L367.00 120.20 L367.74 118.24 L368.47 117.71 L369.20 115.51 L369.96 114.03 L370.73 111.81 L371.50 108.44 L372.24 106.91 L372.97 104.62 L373.80 101.92 L374.39 101.32 L375.05 101.47 L375.73 100.30 L376.36 100.61 L376.90 100.40 L377.75 101.70 L378.50 102.34 L379.22 103.85 L380.01 104.98 L380.80 106.91 L381.57 110.09 L382.32 112.86 L383.00 115.68 L383.78 118.71 L384.50 121.44 L385.30 123.70 L386.20 125.68 L386.92 127.91 L387.71 128.52 L388.50 130.14 L389.35 131.15 L390.20 131.68 L390.80 132.20 L390.80 132.20 L350.50 132.20 Z" fill="rgba(122,112,145,0.3)" stroke="none"/><path d="M350.50 132.20 L350.95 132.09 L351.60 131.89 L352.30 131.45 L352.99 130.48 L353.73 129.26 L354.50 128.08 L355.09 127.04 L355.70 126.34 L356.33 125.24 L357.00 125.62 L357.54 124.73 L358.09 123.91 L358.66 124.09 L359.29 123.64 L360.00 124.39 L360.59 123.82 L361.26 123.97 L361.97 123.49 L362.70 123.33 L363.40 123.85 L364.04 123.40 L364.60 123.07 L365.57 121.48 L366.30 120.63 L367.00 120.20 L367.74 118.24 L368.47 117.71 L369.20 115.51 L369.96 114.03 L370.73 111.81 L371.50 108.44 L372.24 106.91 L372.97 104.62 L373.80 101.92 L374.39 101.32 L375.05 101.47 L375.73 100.30 L376.36 100.61 L376.90 100.40 L377.75 101.70 L378.50 102.34 L379.22 103.85 L380.01 104.98 L380.80 106.91 L381.57 110.09 L382.32 112.86 L383.00 115.68 L383.78 118.71 L384.50 121.44 L385.30 123.70 L386.20 125.68 L386.92 127.91 L387.71 128.52 L388.50 130.14 L389.35 131.15 L390.20 131.68 L390.80 132.20" fill="none" stroke="#666675" stroke-width="0.90" stroke-linejoin="round"/><path d="M344.00 131.98 L344.14 131.94 L344.28 131.90 L344.43 131.84 L344.57 131.78 L344.71 131.70 L344.85 131.62 L344.99 131.52 L345.13 131.41 L345.27 131.28 L345.42 131.14 L345.56 130.97 L345.70 130.79 L345.84 130.58 L345.98 130.35 L346.12 130.09 L346.27 129.81 L346.41 129.49 L346.55 129.14 L346.69 128.75 L346.83 128.32 L346.98 127.86 L347.12 127.36 L347.26 126.81 L347.40 126.22 L347.54 125.58 L347.68 124.89 L347.82 124.16 L347.97 123.39 L348.11 122.56 L348.25 121.69 L348.39 120.78 L348.53 119.82 L348.68 118.83 L348.82 117.79 L348.96 116.73 L349.10 115.63 L349.24 114.50 L349.38 113.36 L349.52 112.20 L349.67 111.04 L349.81 109.87 L349.95 108.71 L350.09 107.56 L350.23 106.43 L350.38 105.33 L350.52 104.26 L350.66 103.24 L350.80 102.27 L350.94 101.36 L351.08 100.52 L351.23 99.75 L351.37 99.06 L351.51 98.46 L351.65 97.94 L351.79 97.53 L351.93 97.21 L352.07 96.99 L352.22 96.87 L352.36 96.86 L352.50 96.96 L352.64 97.16 L352.78 97.46 L352.93 97.86 L353.07 98.36 L353.21 98.95 L353.35 99.62 L353.49 100.38 L353.63 101.21 L353.77 102.11 L353.92 103.07 L354.06 104.08 L354.20 105.14 L354.34 106.23 L354.48 107.36 L354.62 108.50 L354.77 109.66 L354.91 110.83 L355.05 112.00 L355.19 113.16 L355.33 114.30 L355.48 115.43 L355.62 116.53 L355.76 117.61 L355.90 118.65 L356.04 119.65 L356.18 120.61 L356.32 121.54 L356.47 122.41 L356.61 123.24 L356.75 124.03 L356.89 124.77 L357.03 125.46 L357.18 126.11 L357.32 126.71 L357.46 127.26 L357.60 127.77 L357.74 128.25 L357.88 128.68 L358.02 129.07 L358.17 129.43 L358.31 129.75 L358.45 130.05 L358.59 130.31 L358.73 130.54 L358.88 130.76 L359.02 130.94 L359.16 131.11 L359.30 131.26 L359.44 131.39 L359.58 131.50 L359.73 131.60 L359.87 131.69 L360.01 131.76 L360.15 131.83 L360.29 131.89 L360.43 131.93 L360.57 131.98 L360.72 132.01 L360.86 132.04 L361.00 132.07" fill="none" stroke="#6a3468" stroke-width="1.20" stroke-linejoin="round" stroke-dasharray="0.01 1.75" stroke-linecap="round"/><line x1="332.20" y1="92.80" x2="421.50" y2="92.80" stroke="#3a3a3a" stroke-width="1.40" /><line x1="421.50" y1="92.80" x2="421.50" y2="132.20" stroke="#1a1a1a" stroke-width="1.10" /><line x1="332.20" y1="92.30" x2="332.20" y2="132.70" stroke="#111" stroke-width="1.00" /><line x1="331.70" y1="132.20" x2="421.50" y2="132.20" stroke="#111" stroke-width="1.00" /><text x="337.20" y="143.80" font-size="6.50" text-anchor="middle" fill="#2e2e2e" textLength="9.67" lengthAdjust="spacingAndGlyphs">-10<tspan dy="-2.47" font-size="3.58">3</tspan></text><text x="352.10" y="143.80" font-size="6.50" text-anchor="middle" fill="#2e2e2e" textLength="3.07" lengthAdjust="spacingAndGlyphs">0</text><text x="366.60" y="143.80" font-size="6.50" text-anchor="middle" fill="#2e2e2e" textLength="7.83" lengthAdjust="spacingAndGlyphs">10<tspan dy="-2.47" font-size="3.58">3</tspan></text><text x="391.20" y="143.80" font-size="6.50" text-anchor="middle" fill="#2e2e2e" textLength="7.83" lengthAdjust="spacingAndGlyphs">10<tspan dy="-2.47" font-size="3.58">4</tspan></text><text x="412.20" y="143.80" font-size="6.50" text-anchor="middle" fill="#2e2e2e" textLength="7.83" lengthAdjust="spacingAndGlyphs">10<tspan dy="-2.47" font-size="3.58">5</tspan></text><text x="376.85" y="155.20" font-size="9.00" text-anchor="middle" fill="#2e2e2e" textLength="17.5" lengthAdjust="spacingAndGlyphs" >CD18</text><line x1="106.90" y1="35.50" x2="102.72" y2="46.07" stroke="#111" stroke-width="1.00" /><polygon points="101.60,48.90 104.32,46.24 101.44,45.10" fill="#111"/><line x1="191.30" y1="40.40" x2="187.49" y2="50.26" stroke="#111" stroke-width="1.00" /><polygon points="186.40,53.10 189.09,50.42 186.20,49.31" fill="#111"/><line x1="311.90" y1="36.20" x2="307.77" y2="46.09" stroke="#111" stroke-width="1.00" /><polygon points="306.60,48.90 309.37,46.29 306.51,45.10" fill="#111"/><text transform="translate(11.90 203.70) rotate(-90)" x="0" y="3.31" font-size="9.20" text-anchor="middle" fill="#2e2e2e" textLength="77.5" lengthAdjust="spacingAndGlyphs">Normalized to mode</text><rect x="76.50" y="172.80" width="6.00" height="6.00" fill="#fff" stroke="#8a4a8a" stroke-width="0.9"/><text x="85.20" y="177.80" font-size="5.60" text-anchor="start" fill="#383838" textLength="10.2" lengthAdjust="spacingAndGlyphs" >FMO</text><rect x="106.60" y="172.80" width="6.00" height="6.00" fill="#f3ddd6" stroke="#cc5533" stroke-width="0.9"/><line x1="109.60" y1="173.60" x2="109.60" y2="178.00" stroke="#cc5533" stroke-width="0.30" opacity="0.45"/><line x1="107.40" y1="175.80" x2="111.80" y2="175.80" stroke="#cc5533" stroke-width="0.30" opacity="0.45"/><text x="115.30" y="177.80" font-size="5.60" text-anchor="start" fill="#383838" textLength="12.5" lengthAdjust="spacingAndGlyphs" >Fixed</text><rect x="135.50" y="172.80" width="6.00" height="6.00" fill="#d6dad6" stroke="#5b8a6b" stroke-width="0.9"/><text x="144.20" y="177.80" font-size="5.60" text-anchor="start" fill="#383838" textLength="41.0" lengthAdjust="spacingAndGlyphs" >Fixed after labeling</text><rect x="36.50" y="187.50" width="89.00" height="39.50" fill="#fff"/><path d="M83.00 227.00 L83.62 226.62 L84.50 225.51 L85.13 224.15 L85.81 222.41 L86.50 219.12 L87.17 215.85 L87.83 210.74 L88.50 205.80 L89.19 201.84 L89.89 197.00 L90.50 193.47 L91.20 191.25 L91.80 190.23 L92.39 190.39 L93.00 192.84 L93.73 197.66 L94.50 204.46 L95.27 211.33 L96.00 217.80 L96.61 221.58 L97.20 224.02 L97.93 226.03 L98.50 227.00 L98.50 227.00 L83.00 227.00 Z" fill="rgba(100,90,90,0.2)" stroke="none"/><path d="M83.00 227.00 L83.62 226.62 L84.50 225.51 L85.13 224.15 L85.81 222.41 L86.50 219.12 L87.17 215.85 L87.83 210.74 L88.50 205.80 L89.19 201.84 L89.89 197.00 L90.50 193.47 L91.20 191.25 L91.80 190.23 L92.39 190.39 L93.00 192.84 L93.73 197.66 L94.50 204.46 L95.27 211.33 L96.00 217.80 L96.61 221.58 L97.20 224.02 L97.93 226.03 L98.50 227.00" fill="none" stroke="#5b8a6b" stroke-width="0.90" stroke-linejoin="round"/><path d="M75.00 227.00 L75.45 226.88 L76.09 226.72 L76.82 226.41 L77.50 225.82 L78.14 225.12 L78.78 224.06 L79.41 223.05 L80.00 221.11 L80.70 218.44 L81.35 215.34 L82.00 212.01 L82.66 207.44 L83.33 202.78 L84.00 198.65 L84.72 194.72 L85.45 191.78 L86.10 190.80 L86.84 191.18 L87.50 194.64 L88.24 200.19 L89.00 206.23 L89.71 210.74 L90.50 214.87 L91.14 216.87 L91.86 218.64 L92.60 220.38 L93.16 220.82 L93.74 221.29 L94.35 221.76 L95.00 222.37 L95.56 222.98 L96.16 223.21 L96.77 223.27 L97.39 222.88 L98.00 223.32 L98.62 223.28 L99.25 222.89 L99.87 223.14 L100.46 222.88 L101.00 222.86 L101.74 222.94 L102.37 222.49 L103.00 222.23 L103.67 222.59 L104.33 222.54 L105.00 222.49 L105.69 222.88 L106.37 222.84 L107.00 223.01 L107.76 223.98 L108.50 225.08 L109.49 225.95 L110.30 227.00 L110.30 227.00 L75.00 227.00 Z" fill="rgba(205,90,70,0.2)" stroke="none"/><path d="M75.00 227.00 L75.45 226.88 L76.09 226.72 L76.82 226.41 L77.50 225.82 L78.14 225.12 L78.78 224.06 L79.41 223.05 L80.00 221.11 L80.70 218.44 L81.35 215.34 L82.00 212.01 L82.66 207.44 L83.33 202.78 L84.00 198.65 L84.72 194.72 L85.45 191.78 L86.10 190.80 L86.84 191.18 L87.50 194.64 L88.24 200.19 L89.00 206.23 L89.71 210.74 L90.50 214.87 L91.14 216.87 L91.86 218.64 L92.60 220.38 L93.16 220.82 L93.74 221.29 L94.35 221.76 L95.00 222.37 L95.56 222.98 L96.16 223.21 L96.77 223.27 L97.39 222.88 L98.00 223.32 L98.62 223.28 L99.25 222.89 L99.87 223.14 L100.46 222.88 L101.00 222.86 L101.74 222.94 L102.37 222.49 L103.00 222.23 L103.67 222.59 L104.33 222.54 L105.00 222.49 L105.69 222.88 L106.37 222.84 L107.00 223.01 L107.76 223.98 L108.50 225.08 L109.49 225.95 L110.30 227.00" fill="none" stroke="#cc5533" stroke-width="1.00" stroke-linejoin="round"/><path d="M54.00 226.72 L54.24 226.67 L54.48 226.62 L54.73 226.56 L54.97 226.49 L55.21 226.40 L55.45 226.31 L55.69 226.20 L55.93 226.08 L56.17 225.95 L56.42 225.80 L56.66 225.63 L56.90 225.44 L57.14 225.23 L57.38 225.00 L57.62 224.74 L57.87 224.45 L58.11 224.14 L58.35 223.79 L58.59 223.42 L58.83 223.01 L59.08 222.56 L59.32 222.08 L59.56 221.57 L59.80 221.01 L60.04 220.41 L60.28 219.77 L60.52 219.10 L60.77 218.38 L61.01 217.62 L61.25 216.82 L61.49 215.98 L61.73 215.11 L61.98 214.20 L62.22 213.25 L62.46 212.28 L62.70 211.27 L62.94 210.25 L63.18 209.20 L63.42 208.14 L63.67 207.07 L63.91 205.99 L64.15 204.91 L64.39 203.84 L64.63 202.78 L64.88 201.74 L65.12 200.72 L65.36 199.74 L65.60 198.79 L65.84 197.89 L66.08 197.04 L66.33 196.24 L66.57 195.51 L66.81 194.84 L67.05 194.25 L67.29 193.73 L67.53 193.30 L67.78 192.95 L68.02 192.69 L68.26 192.51 L68.50 192.43 L68.74 192.43 L68.98 192.52 L69.22 192.69 L69.47 192.94 L69.71 193.26 L69.95 193.66 L70.19 194.13 L70.43 194.67 L70.67 195.27 L70.92 195.94 L71.16 196.66 L71.40 197.44 L71.64 198.26 L71.88 199.13 L72.12 200.03 L72.37 200.96 L72.61 201.92 L72.85 202.90 L73.09 203.90 L73.33 204.91 L73.58 205.92 L73.82 206.93 L74.06 207.94 L74.30 208.94 L74.54 209.93 L74.78 210.90 L75.03 211.86 L75.27 212.78 L75.51 213.69 L75.75 214.56 L75.99 215.41 L76.23 216.22 L76.47 217.00 L76.72 217.74 L76.96 218.45 L77.20 219.12 L77.44 219.76 L77.68 220.36 L77.92 220.93 L78.17 221.46 L78.41 221.95 L78.65 222.41 L78.89 222.84 L79.13 223.24 L79.38 223.61 L79.62 223.95 L79.86 224.26 L80.10 224.54 L80.34 224.81 L80.58 225.04 L80.83 225.26 L81.07 225.46 L81.31 225.63 L81.55 225.79 L81.79 225.94 L82.03 226.06 L82.28 226.18 L82.52 226.28 L82.76 226.37 L83.00 226.45" fill="none" stroke="#6a3468" stroke-width="1.20" stroke-linejoin="round" stroke-dasharray="0.01 1.75" stroke-linecap="round"/><line x1="36.50" y1="187.50" x2="125.50" y2="187.50" stroke="#3a3a3a" stroke-width="1.40" /><line x1="125.50" y1="187.50" x2="125.50" y2="227.00" stroke="#1a1a1a" stroke-width="1.10" /><line x1="36.50" y1="187.00" x2="36.50" y2="227.50" stroke="#111" stroke-width="1.00" /><line x1="36.00" y1="227.00" x2="125.50" y2="227.00" stroke="#111" stroke-width="1.00" /><text x="30.90" y="229.10" font-size="6.20" text-anchor="end" fill="#2e2e2e" textLength="2.96" lengthAdjust="spacingAndGlyphs">0</text><text x="30.90" y="221.50" font-size="6.20" text-anchor="end" fill="#2e2e2e" textLength="5.93" lengthAdjust="spacingAndGlyphs">20</text><text x="30.90" y="213.90" font-size="6.20" text-anchor="end" fill="#2e2e2e" textLength="5.93" lengthAdjust="spacingAndGlyphs">40</text><text x="30.90" y="206.30" font-size="6.20" text-anchor="end" fill="#2e2e2e" textLength="5.93" lengthAdjust="spacingAndGlyphs">60</text><text x="30.90" y="198.70" font-size="6.20" text-anchor="end" fill="#2e2e2e" textLength="5.93" lengthAdjust="spacingAndGlyphs">80</text><text x="30.90" y="191.10" font-size="6.20" text-anchor="end" fill="#2e2e2e" textLength="8.89" lengthAdjust="spacingAndGlyphs">100</text><text x="41.50" y="239.00" font-size="6.50" text-anchor="middle" fill="#2e2e2e" textLength="9.67" lengthAdjust="spacingAndGlyphs">-10<tspan dy="-2.47" font-size="3.58">3</tspan></text><text x="56.50" y="239.00" font-size="6.50" text-anchor="middle" fill="#2e2e2e" textLength="3.07" lengthAdjust="spacingAndGlyphs">0</text><text x="73.30" y="239.00" font-size="6.50" text-anchor="middle" fill="#2e2e2e" textLength="7.83" lengthAdjust="spacingAndGlyphs">10<tspan dy="-2.47" font-size="3.58">3</tspan></text><text x="98.70" y="239.00" font-size="6.50" text-anchor="middle" fill="#2e2e2e" textLength="7.83" lengthAdjust="spacingAndGlyphs">10<tspan dy="-2.47" font-size="3.58">4</tspan></text><text x="119.00" y="239.00" font-size="6.50" text-anchor="middle" fill="#2e2e2e" textLength="7.83" lengthAdjust="spacingAndGlyphs">10<tspan dy="-2.47" font-size="3.58">5</tspan></text><text x="81.00" y="251.30" font-size="9.00" text-anchor="middle" fill="#2e2e2e" textLength="23.0" lengthAdjust="spacingAndGlyphs" >CD66a</text><rect x="134.80" y="187.50" width="90.20" height="39.50" fill="#fff"/><path d="M161.00 227.00 L161.59 227.00 L162.41 226.99 L163.20 226.62 L163.82 225.89 L164.40 224.86 L165.00 223.47 L165.64 220.87 L166.30 219.00 L167.00 215.60 L167.58 212.44 L168.19 209.74 L168.81 206.12 L169.40 203.35 L170.13 201.19 L170.82 199.00 L171.50 197.21 L172.15 196.26 L172.79 195.29 L173.50 194.96 L174.12 194.12 L174.81 193.36 L175.49 192.35 L176.10 191.72 L176.75 192.31 L177.32 193.06 L178.00 194.41 L178.67 194.90 L179.44 196.24 L180.21 197.08 L180.90 197.99 L181.65 199.95 L182.31 202.51 L183.00 205.27 L183.77 207.87 L184.56 210.81 L185.30 213.49 L185.97 215.59 L186.60 218.39 L187.20 219.87 L188.07 222.06 L188.90 224.30 L189.71 225.38 L190.50 226.24 L191.35 226.76 L192.00 227.00 L192.00 227.00 L161.00 227.00 Z" fill="rgba(100,90,90,0.2)" stroke="none"/><path d="M161.00 227.00 L161.59 227.00 L162.41 226.99 L163.20 226.62 L163.82 225.89 L164.40 224.86 L165.00 223.47 L165.64 220.87 L166.30 219.00 L167.00 215.60 L167.58 212.44 L168.19 209.74 L168.81 206.12 L169.40 203.35 L170.13 201.19 L170.82 199.00 L171.50 197.21 L172.15 196.26 L172.79 195.29 L173.50 194.96 L174.12 194.12 L174.81 193.36 L175.49 192.35 L176.10 191.72 L176.75 192.31 L177.32 193.06 L178.00 194.41 L178.67 194.90 L179.44 196.24 L180.21 197.08 L180.90 197.99 L181.65 199.95 L182.31 202.51 L183.00 205.27 L183.77 207.87 L184.56 210.81 L185.30 213.49 L185.97 215.59 L186.60 218.39 L187.20 219.87 L188.07 222.06 L188.90 224.30 L189.71 225.38 L190.50 226.24 L191.35 226.76 L192.00 227.00" fill="none" stroke="#5b8a6b" stroke-width="0.90" stroke-linejoin="round"/><path d="M150.00 227.00 L150.71 226.98 L151.70 226.62 L152.41 226.07 L153.20 225.40 L154.00 223.91 L154.61 222.57 L155.24 220.25 L155.87 217.97 L156.50 215.51 L157.14 212.72 L157.78 208.96 L158.41 205.52 L159.00 202.45 L159.71 198.53 L160.37 195.52 L161.00 193.84 L161.64 191.96 L162.25 191.46 L162.80 191.35 L163.42 191.89 L164.00 192.69 L164.73 193.68 L165.50 194.97 L166.25 197.81 L167.00 201.38 L167.75 204.11 L168.50 206.57 L169.22 207.83 L170.00 208.69 L170.63 209.29 L171.31 209.44 L172.00 209.74 L172.67 210.11 L173.33 211.61 L174.00 212.64 L174.66 213.25 L175.32 214.49 L176.00 215.19 L176.70 216.00 L177.41 216.93 L178.20 217.45 L178.88 218.09 L179.61 219.42 L180.34 220.29 L181.00 220.97 L181.71 222.07 L182.34 222.54 L183.00 223.01 L183.75 223.74 L184.53 224.36 L185.30 224.50 L186.01 225.02 L186.70 224.64 L187.50 224.42 L188.07 223.94 L188.71 223.78 L189.37 222.87 L190.01 222.77 L190.60 222.26 L191.24 221.35 L191.81 220.77 L192.37 220.61 L193.00 220.21 L193.57 220.01 L194.18 219.70 L194.81 219.23 L195.42 219.31 L196.00 219.25 L196.67 219.09 L197.32 219.44 L197.93 219.40 L198.50 219.58 L199.18 220.01 L199.80 220.66 L200.40 221.39 L201.31 222.79 L202.20 224.64 L203.16 225.73 L203.90 227.00 L203.90 227.00 L150.00 227.00 Z" fill="rgba(205,90,70,0.2)" stroke="none"/><path d="M150.00 227.00 L150.71 226.98 L151.70 226.62 L152.41 226.07 L153.20 225.40 L154.00 223.91 L154.61 222.57 L155.24 220.25 L155.87 217.97 L156.50 215.51 L157.14 212.72 L157.78 208.96 L158.41 205.52 L159.00 202.45 L159.71 198.53 L160.37 195.52 L161.00 193.84 L161.64 191.96 L162.25 191.46 L162.80 191.35 L163.42 191.89 L164.00 192.69 L164.73 193.68 L165.50 194.97 L166.25 197.81 L167.00 201.38 L167.75 204.11 L168.50 206.57 L169.22 207.83 L170.00 208.69 L170.63 209.29 L171.31 209.44 L172.00 209.74 L172.67 210.11 L173.33 211.61 L174.00 212.64 L174.66 213.25 L175.32 214.49 L176.00 215.19 L176.70 216.00 L177.41 216.93 L178.20 217.45 L178.88 218.09 L179.61 219.42 L180.34 220.29 L181.00 220.97 L181.71 222.07 L182.34 222.54 L183.00 223.01 L183.75 223.74 L184.53 224.36 L185.30 224.50 L186.01 225.02 L186.70 224.64 L187.50 224.42 L188.07 223.94 L188.71 223.78 L189.37 222.87 L190.01 222.77 L190.60 222.26 L191.24 221.35 L191.81 220.77 L192.37 220.61 L193.00 220.21 L193.57 220.01 L194.18 219.70 L194.81 219.23 L195.42 219.31 L196.00 219.25 L196.67 219.09 L197.32 219.44 L197.93 219.40 L198.50 219.58 L199.18 220.01 L199.80 220.66 L200.40 221.39 L201.31 222.79 L202.20 224.64 L203.16 225.73 L203.90 227.00" fill="none" stroke="#cc5533" stroke-width="1.00" stroke-linejoin="round"/><path d="M142.00 226.90 L142.28 226.88 L142.57 226.86 L142.85 226.83 L143.13 226.80 L143.42 226.76 L143.70 226.71 L143.98 226.66 L144.27 226.60 L144.55 226.53 L144.83 226.45 L145.12 226.36 L145.40 226.26 L145.68 226.14 L145.97 226.00 L146.25 225.85 L146.53 225.68 L146.82 225.48 L147.10 225.26 L147.38 225.02 L147.67 224.75 L147.95 224.46 L148.23 224.13 L148.52 223.76 L148.80 223.37 L149.08 222.93 L149.37 222.46 L149.65 221.95 L149.93 221.40 L150.22 220.80 L150.50 220.17 L150.78 219.49 L151.07 218.76 L151.35 218.00 L151.63 217.19 L151.92 216.34 L152.20 215.45 L152.48 214.52 L152.77 213.56 L153.05 212.57 L153.33 211.56 L153.62 210.51 L153.90 209.46 L154.18 208.38 L154.47 207.31 L154.75 206.23 L155.03 205.15 L155.32 204.09 L155.60 203.05 L155.88 202.04 L156.17 201.06 L156.45 200.12 L156.73 199.23 L157.02 198.39 L157.30 197.62 L157.58 196.92 L157.87 196.29 L158.15 195.74 L158.43 195.28 L158.72 194.90 L159.00 194.61 L159.28 194.42 L159.57 194.33 L159.85 194.33 L160.13 194.44 L160.42 194.65 L160.70 194.97 L160.98 195.38 L161.27 195.89 L161.55 196.48 L161.83 197.16 L162.12 197.92 L162.40 198.75 L162.68 199.65 L162.97 200.60 L163.25 201.60 L163.53 202.64 L163.82 203.71 L164.10 204.81 L164.38 205.92 L164.67 207.05 L164.95 208.17 L165.23 209.29 L165.52 210.39 L165.80 211.47 L166.08 212.53 L166.37 213.56 L166.65 214.56 L166.93 215.52 L167.22 216.44 L167.50 217.32 L167.78 218.15 L168.07 218.94 L168.35 219.68 L168.63 220.38 L168.92 221.02 L169.20 221.62 L169.48 222.18 L169.77 222.69 L170.05 223.16 L170.33 223.59 L170.62 223.99 L170.90 224.34 L171.18 224.66 L171.47 224.95 L171.75 225.21 L172.03 225.44 L172.32 225.65 L172.60 225.83 L172.88 225.99 L173.17 226.13 L173.45 226.26 L173.73 226.36 L174.02 226.46 L174.30 226.54 L174.58 226.61 L174.87 226.67 L175.15 226.72 L175.43 226.77 L175.72 226.81 L176.00 226.84" fill="none" stroke="#6a3468" stroke-width="1.20" stroke-linejoin="round" stroke-dasharray="0.01 1.75" stroke-linecap="round"/><line x1="134.80" y1="187.50" x2="225.00" y2="187.50" stroke="#3a3a3a" stroke-width="1.40" /><line x1="225.00" y1="187.50" x2="225.00" y2="227.00" stroke="#1a1a1a" stroke-width="1.10" /><line x1="134.80" y1="187.00" x2="134.80" y2="227.50" stroke="#111" stroke-width="1.00" /><line x1="134.30" y1="227.00" x2="225.00" y2="227.00" stroke="#111" stroke-width="1.00" /><text x="139.80" y="239.00" font-size="6.50" text-anchor="middle" fill="#2e2e2e" textLength="9.67" lengthAdjust="spacingAndGlyphs">-10<tspan dy="-2.47" font-size="3.58">3</tspan></text><text x="154.80" y="239.00" font-size="6.50" text-anchor="middle" fill="#2e2e2e" textLength="3.07" lengthAdjust="spacingAndGlyphs">0</text><text x="171.60" y="239.00" font-size="6.50" text-anchor="middle" fill="#2e2e2e" textLength="7.83" lengthAdjust="spacingAndGlyphs">10<tspan dy="-2.47" font-size="3.58">3</tspan></text><text x="197.00" y="239.00" font-size="6.50" text-anchor="middle" fill="#2e2e2e" textLength="7.83" lengthAdjust="spacingAndGlyphs">10<tspan dy="-2.47" font-size="3.58">4</tspan></text><text x="217.30" y="239.00" font-size="6.50" text-anchor="middle" fill="#2e2e2e" textLength="7.83" lengthAdjust="spacingAndGlyphs">10<tspan dy="-2.47" font-size="3.58">5</tspan></text><text x="179.90" y="251.30" font-size="9.00" text-anchor="middle" fill="#2e2e2e" textLength="21.5" lengthAdjust="spacingAndGlyphs" >CD11b</text><line x1="113.50" y1="204.40" x2="109.66" y2="214.75" stroke="#111" stroke-width="1.00" /><polygon points="108.60,217.60 111.26,214.89 108.35,213.81" fill="#111"/><line x1="205.90" y1="200.60" x2="202.34" y2="210.44" stroke="#111" stroke-width="1.00" /><polygon points="201.30,213.30 203.94,210.57 201.02,209.51" fill="#111"/><rect x="453.50" y="21.80" width="58.70" height="60.20" fill="#fff"/><defs><filter id="sb" x="-20%" y="-20%" width="140%" height="140%"><feGaussianBlur stdDeviation="0.35"/></filter><filter id="sb2" x="-50%" y="-50%" width="200%" height="200%"><feGaussianBlur stdDeviation="2.2"/></filter></defs><ellipse cx="478" cy="58" rx="12" ry="6" transform="rotate(-45 478 58)" fill="#c8dcf0" opacity="0.8" filter="url(#sb2)"/><ellipse cx="484" cy="49" rx="12" ry="4" transform="rotate(-40 484 49)" fill="#f6d6d4" opacity="0.8" filter="url(#sb2)"/><g filter="url(#sb)"><path d="M482.4 52.3h0.6v0.6h-0.6zM481.2 50.5h0.6v0.6h-0.6zM477.3 54.1h0.6v0.6h-0.6zM490.1 45.5h0.6v0.6h-0.6zM489.4 45.5h0.6v0.6h-0.6zM485.6 48.5h0.6v0.6h-0.6zM474.9 59.7h0.6v0.6h-0.6zM486.7 48.6h0.6v0.6h-0.6zM470.4 54.7h0.6v0.6h-0.6zM477.1 53.4h0.6v0.6h-0.6zM484.7 48.4h0.6v0.6h-0.6zM484.9 46.2h0.6v0.6h-0.6zM485.4 49.3h0.6v0.6h-0.6zM482.1 56.6h0.6v0.6h-0.6zM488.2 49.7h0.6v0.6h-0.6zM478.2 51.5h0.6v0.6h-0.6zM480.8 51.4h0.6v0.6h-0.6zM487.0 47.4h0.6v0.6h-0.6zM478.8 50.3h0.6v0.6h-0.6zM482.0 54.9h0.6v0.6h-0.6zM478.8 54.4h0.6v0.6h-0.6zM483.0 45.0h0.6v0.6h-0.6zM485.5 52.4h0.6v0.6h-0.6zM470.9 59.1h0.6v0.6h-0.6zM481.0 48.9h0.6v0.6h-0.6zM485.8 47.5h0.6v0.6h-0.6zM476.0 58.7h0.6v0.6h-0.6zM488.4 48.7h0.6v0.6h-0.6zM491.9 43.8h0.6v0.6h-0.6zM481.5 46.8h0.6v0.6h-0.6zM485.5 45.8h0.6v0.6h-0.6zM478.3 49.7h0.6v0.6h-0.6zM476.6 53.6h0.6v0.6h-0.6zM487.0 39.7h0.6v0.6h-0.6zM475.0 57.5h0.6v0.6h-0.6zM492.3 44.2h0.6v0.6h-0.6zM467.9 54.1h0.6v0.6h-0.6zM483.8 46.8h0.6v0.6h-0.6zM478.2 57.3h0.6v0.6h-0.6zM489.6 45.0h0.6v0.6h-0.6zM485.1 49.7h0.6v0.6h-0.6zM493.2 43.5h0.6v0.6h-0.6zM486.9 48.6h0.6v0.6h-0.6zM476.1 60.1h0.6v0.6h-0.6zM489.4 46.5h0.6v0.6h-0.6zM470.6 58.3h0.6v0.6h-0.6zM484.8 42.3h0.6v0.6h-0.6zM483.6 52.9h0.6v0.6h-0.6zM478.2 59.5h0.6v0.6h-0.6zM485.9 47.0h0.6v0.6h-0.6zM486.0 49.7h0.6v0.6h-0.6zM485.6 51.7h0.6v0.6h-0.6zM478.5 52.4h0.6v0.6h-0.6zM489.0 45.0h0.6v0.6h-0.6zM479.5 56.1h0.6v0.6h-0.6zM490.7 42.0h0.6v0.6h-0.6zM474.8 56.4h0.6v0.6h-0.6zM481.6 50.1h0.6v0.6h-0.6zM489.4 41.2h0.6v0.6h-0.6zM488.1 41.4h0.6v0.6h-0.6zM479.5 55.1h0.6v0.6h-0.6zM490.9 46.3h0.6v0.6h-0.6zM485.2 48.6h0.6v0.6h-0.6zM484.8 50.4h0.6v0.6h-0.6zM482.5 51.4h0.6v0.6h-0.6zM486.3 47.2h0.6v0.6h-0.6zM488.3 47.4h0.6v0.6h-0.6zM495.1 41.0h0.6v0.6h-0.6zM479.9 51.3h0.6v0.6h-0.6zM484.5 51.9h0.6v0.6h-0.6zM481.7 52.4h0.6v0.6h-0.6zM489.3 36.0h0.6v0.6h-0.6zM477.0 55.9h0.6v0.6h-0.6zM485.7 48.6h0.6v0.6h-0.6zM481.6 53.4h0.6v0.6h-0.6zM483.7 47.6h0.6v0.6h-0.6zM497.6 39.0h0.6v0.6h-0.6zM479.6 52.5h0.6v0.6h-0.6zM481.6 51.0h0.6v0.6h-0.6zM466.5 62.2h0.6v0.6h-0.6zM486.8 42.8h0.6v0.6h-0.6zM484.2 52.2h0.6v0.6h-0.6zM490.4 48.8h0.6v0.6h-0.6zM472.6 57.5h0.6v0.6h-0.6zM482.1 52.9h0.6v0.6h-0.6zM484.8 39.4h0.6v0.6h-0.6zM486.8 41.9h0.6v0.6h-0.6zM484.4 43.7h0.6v0.6h-0.6zM486.0 51.5h0.6v0.6h-0.6zM482.5 51.1h0.6v0.6h-0.6z" fill="#e8807a" opacity="0.60"/><path d="M481.1 55.4h0.6v0.6h-0.6zM481.0 63.6h0.6v0.6h-0.6zM481.0 52.9h0.6v0.6h-0.6zM486.3 43.5h0.6v0.6h-0.6zM480.4 53.6h0.6v0.6h-0.6zM479.6 59.9h0.6v0.6h-0.6zM479.9 59.3h0.6v0.6h-0.6zM465.6 58.7h0.6v0.6h-0.6zM477.0 52.3h0.6v0.6h-0.6zM468.0 56.9h0.6v0.6h-0.6zM485.0 55.7h0.6v0.6h-0.6zM481.1 49.1h0.6v0.6h-0.6zM473.7 54.1h0.6v0.6h-0.6zM485.1 60.5h0.6v0.6h-0.6zM477.4 66.8h0.6v0.6h-0.6zM481.0 53.6h0.6v0.6h-0.6zM472.0 70.5h0.6v0.6h-0.6zM474.8 56.3h0.6v0.6h-0.6zM480.0 57.9h0.6v0.6h-0.6zM480.9 48.7h0.6v0.6h-0.6zM486.5 58.7h0.6v0.6h-0.6zM483.2 51.8h0.6v0.6h-0.6zM476.5 64.4h0.6v0.6h-0.6zM477.9 58.0h0.6v0.6h-0.6zM482.8 51.6h0.6v0.6h-0.6zM465.3 65.5h0.6v0.6h-0.6zM470.8 68.0h0.6v0.6h-0.6zM476.7 54.7h0.6v0.6h-0.6zM479.4 60.9h0.6v0.6h-0.6zM481.2 62.3h0.6v0.6h-0.6zM479.7 61.8h0.6v0.6h-0.6zM488.5 57.8h0.6v0.6h-0.6zM476.5 63.6h0.6v0.6h-0.6zM465.2 61.5h0.6v0.6h-0.6zM471.1 69.3h0.6v0.6h-0.6zM471.3 62.7h0.6v0.6h-0.6zM476.0 58.6h0.6v0.6h-0.6zM475.0 61.1h0.6v0.6h-0.6zM485.4 51.2h0.6v0.6h-0.6zM482.3 59.4h0.6v0.6h-0.6zM472.4 54.4h0.6v0.6h-0.6zM477.6 63.8h0.6v0.6h-0.6zM467.7 62.3h0.6v0.6h-0.6zM483.9 56.8h0.6v0.6h-0.6zM479.4 60.7h0.6v0.6h-0.6zM474.4 53.3h0.6v0.6h-0.6zM468.0 61.8h0.6v0.6h-0.6zM479.6 52.5h0.6v0.6h-0.6zM470.6 58.8h0.6v0.6h-0.6zM469.6 63.5h0.6v0.6h-0.6zM472.6 63.8h0.6v0.6h-0.6zM467.1 68.2h0.6v0.6h-0.6zM468.4 53.8h0.6v0.6h-0.6zM479.5 54.3h0.6v0.6h-0.6zM464.2 63.6h0.6v0.6h-0.6zM477.0 55.3h0.6v0.6h-0.6zM482.7 57.6h0.6v0.6h-0.6zM481.0 56.6h0.6v0.6h-0.6zM485.0 55.1h0.6v0.6h-0.6zM473.0 49.1h0.6v0.6h-0.6zM484.9 59.1h0.6v0.6h-0.6zM474.3 57.5h0.6v0.6h-0.6zM480.8 44.5h0.6v0.6h-0.6zM486.2 64.5h0.6v0.6h-0.6zM474.7 64.0h0.6v0.6h-0.6zM485.3 50.3h0.6v0.6h-0.6zM482.2 58.9h0.6v0.6h-0.6zM472.6 61.2h0.6v0.6h-0.6zM480.7 59.7h0.6v0.6h-0.6zM476.3 57.5h0.6v0.6h-0.6zM471.3 60.7h0.6v0.6h-0.6zM481.4 54.9h0.6v0.6h-0.6zM470.6 58.4h0.6v0.6h-0.6zM492.6 51.6h0.6v0.6h-0.6zM472.4 46.6h0.6v0.6h-0.6zM481.2 57.3h0.6v0.6h-0.6zM486.0 53.0h0.6v0.6h-0.6zM478.2 60.1h0.6v0.6h-0.6zM471.1 69.1h0.6v0.6h-0.6zM476.5 54.3h0.6v0.6h-0.6zM488.3 59.1h0.6v0.6h-0.6zM468.6 61.1h0.6v0.6h-0.6zM478.9 57.5h0.6v0.6h-0.6zM472.4 56.2h0.6v0.6h-0.6zM489.7 53.4h0.6v0.6h-0.6zM467.6 58.0h0.6v0.6h-0.6zM487.7 54.8h0.6v0.6h-0.6zM487.7 53.8h0.6v0.6h-0.6zM473.7 62.3h0.6v0.6h-0.6zM464.9 63.8h0.6v0.6h-0.6z" fill="#9cc0e2" opacity="0.60"/><ellipse cx="477.2" cy="61.0" rx="5.4" ry="4.0" transform="rotate(-45 477.2 61.0)" fill="#3f80c4" opacity="0.8"/><path d="M477.9 61.8h0.8v0.8h-0.8zM475.2 62.3h0.8v0.8h-0.8zM478.9 60.3h0.8v0.8h-0.8zM479.1 59.6h0.8v0.8h-0.8zM477.8 62.9h0.8v0.8h-0.8zM475.9 59.3h0.8v0.8h-0.8zM475.7 62.3h0.8v0.8h-0.8zM477.2 61.3h0.8v0.8h-0.8zM477.5 61.1h0.8v0.8h-0.8zM474.7 59.0h0.8v0.8h-0.8zM480.0 61.6h0.8v0.8h-0.8zM477.9 59.4h0.8v0.8h-0.8zM476.6 58.1h0.8v0.8h-0.8zM472.7 65.5h0.8v0.8h-0.8zM476.2 64.3h0.8v0.8h-0.8zM470.1 58.9h0.8v0.8h-0.8zM477.4 66.0h0.8v0.8h-0.8zM474.0 59.4h0.8v0.8h-0.8zM476.2 63.5h0.8v0.8h-0.8zM478.7 59.9h0.8v0.8h-0.8zM482.0 58.4h0.8v0.8h-0.8zM478.2 61.9h0.8v0.8h-0.8zM482.8 58.5h0.8v0.8h-0.8zM477.8 56.5h0.8v0.8h-0.8zM478.1 62.4h0.8v0.8h-0.8zM478.3 63.3h0.8v0.8h-0.8zM480.2 60.9h0.8v0.8h-0.8zM481.0 65.6h0.8v0.8h-0.8zM479.8 57.5h0.8v0.8h-0.8zM481.8 65.0h0.8v0.8h-0.8zM477.9 63.1h0.8v0.8h-0.8zM479.6 58.5h0.8v0.8h-0.8zM474.7 63.9h0.8v0.8h-0.8zM480.0 61.9h0.8v0.8h-0.8zM479.1 59.0h0.8v0.8h-0.8zM480.2 59.7h0.8v0.8h-0.8zM477.8 60.4h0.8v0.8h-0.8zM477.8 62.5h0.8v0.8h-0.8zM473.6 62.3h0.8v0.8h-0.8zM474.7 58.3h0.8v0.8h-0.8zM472.7 58.4h0.8v0.8h-0.8zM476.5 63.4h0.8v0.8h-0.8zM478.5 59.3h0.8v0.8h-0.8zM474.2 59.0h0.8v0.8h-0.8zM482.5 57.3h0.8v0.8h-0.8zM478.3 56.7h0.8v0.8h-0.8zM473.7 58.2h0.8v0.8h-0.8zM480.7 60.5h0.8v0.8h-0.8zM472.5 65.3h0.8v0.8h-0.8zM475.7 56.3h0.8v0.8h-0.8zM471.0 63.4h0.8v0.8h-0.8zM473.3 59.9h0.8v0.8h-0.8zM477.7 61.1h0.8v0.8h-0.8zM479.9 60.5h0.8v0.8h-0.8zM482.8 59.2h0.8v0.8h-0.8zM473.2 63.1h0.8v0.8h-0.8zM472.8 61.5h0.8v0.8h-0.8zM477.0 61.0h0.8v0.8h-0.8zM475.7 56.9h0.8v0.8h-0.8zM474.2 63.7h0.8v0.8h-0.8zM476.2 60.8h0.8v0.8h-0.8zM475.8 59.7h0.8v0.8h-0.8zM479.5 59.7h0.8v0.8h-0.8zM475.8 59.9h0.8v0.8h-0.8zM472.2 56.6h0.8v0.8h-0.8zM474.9 63.2h0.8v0.8h-0.8zM473.9 64.8h0.8v0.8h-0.8zM475.2 58.1h0.8v0.8h-0.8zM476.1 60.9h0.8v0.8h-0.8zM479.3 60.7h0.8v0.8h-0.8zM475.7 59.4h0.8v0.8h-0.8zM476.7 61.0h0.8v0.8h-0.8zM479.5 59.5h0.8v0.8h-0.8zM473.2 60.2h0.8v0.8h-0.8zM475.0 60.4h0.8v0.8h-0.8zM474.3 63.3h0.8v0.8h-0.8zM476.2 62.2h0.8v0.8h-0.8zM477.8 58.8h0.8v0.8h-0.8zM482.2 54.7h0.8v0.8h-0.8zM480.1 58.4h0.8v0.8h-0.8zM475.9 54.1h0.8v0.8h-0.8zM475.8 63.0h0.8v0.8h-0.8zM482.6 63.3h0.8v0.8h-0.8zM480.1 62.2h0.8v0.8h-0.8zM480.7 60.6h0.8v0.8h-0.8zM478.2 59.3h0.8v0.8h-0.8zM476.6 57.7h0.8v0.8h-0.8zM478.3 56.2h0.8v0.8h-0.8zM481.4 63.8h0.8v0.8h-0.8zM476.7 61.4h0.8v0.8h-0.8zM480.0 58.0h0.8v0.8h-0.8zM475.7 63.2h0.8v0.8h-0.8zM479.8 60.6h0.8v0.8h-0.8zM478.3 65.6h0.8v0.8h-0.8zM481.2 56.8h0.8v0.8h-0.8zM477.1 59.4h0.8v0.8h-0.8zM479.4 56.2h0.8v0.8h-0.8zM478.0 58.4h0.8v0.8h-0.8zM476.8 63.7h0.8v0.8h-0.8zM480.4 57.6h0.8v0.8h-0.8zM476.9 63.8h0.8v0.8h-0.8zM477.6 61.4h0.8v0.8h-0.8zM482.8 59.1h0.8v0.8h-0.8zM479.8 65.9h0.8v0.8h-0.8zM478.5 62.1h0.8v0.8h-0.8zM475.6 62.3h0.8v0.8h-0.8zM476.0 68.0h0.8v0.8h-0.8zM478.4 55.5h0.8v0.8h-0.8zM470.8 61.7h0.8v0.8h-0.8zM479.2 57.2h0.8v0.8h-0.8zM476.5 60.4h0.8v0.8h-0.8zM475.1 59.2h0.8v0.8h-0.8zM474.8 58.3h0.8v0.8h-0.8zM477.6 61.5h0.8v0.8h-0.8zM477.9 59.3h0.8v0.8h-0.8zM475.3 63.2h0.8v0.8h-0.8zM478.7 64.6h0.8v0.8h-0.8zM478.9 58.8h0.8v0.8h-0.8zM474.9 60.7h0.8v0.8h-0.8zM474.3 62.5h0.8v0.8h-0.8zM478.8 61.0h0.8v0.8h-0.8zM482.1 63.0h0.8v0.8h-0.8zM475.5 62.5h0.8v0.8h-0.8zM480.8 50.9h0.8v0.8h-0.8zM476.2 62.3h0.8v0.8h-0.8zM478.3 61.1h0.8v0.8h-0.8zM477.2 62.0h0.8v0.8h-0.8zM478.6 62.0h0.8v0.8h-0.8zM471.1 63.8h0.8v0.8h-0.8zM475.4 59.1h0.8v0.8h-0.8zM475.8 64.4h0.8v0.8h-0.8zM476.7 63.4h0.8v0.8h-0.8zM479.5 59.5h0.8v0.8h-0.8zM478.2 59.4h0.8v0.8h-0.8zM473.8 64.1h0.8v0.8h-0.8zM477.4 58.8h0.8v0.8h-0.8zM478.2 62.3h0.8v0.8h-0.8zM476.2 64.0h0.8v0.8h-0.8zM480.7 55.4h0.8v0.8h-0.8zM477.3 60.2h0.8v0.8h-0.8zM481.4 57.6h0.8v0.8h-0.8zM478.2 57.5h0.8v0.8h-0.8zM477.1 60.8h0.8v0.8h-0.8zM475.4 67.5h0.8v0.8h-0.8zM476.4 55.7h0.8v0.8h-0.8zM478.8 58.8h0.8v0.8h-0.8zM478.9 60.3h0.8v0.8h-0.8zM473.2 64.0h0.8v0.8h-0.8zM479.8 56.2h0.8v0.8h-0.8zM472.4 61.0h0.8v0.8h-0.8zM474.8 64.3h0.8v0.8h-0.8zM482.0 57.5h0.8v0.8h-0.8zM481.6 64.0h0.8v0.8h-0.8zM474.8 60.9h0.8v0.8h-0.8zM479.4 60.5h0.8v0.8h-0.8zM472.8 61.3h0.8v0.8h-0.8zM478.3 60.5h0.8v0.8h-0.8zM473.7 63.6h0.8v0.8h-0.8zM476.7 62.9h0.8v0.8h-0.8zM476.8 60.9h0.8v0.8h-0.8zM478.1 63.4h0.8v0.8h-0.8zM479.9 56.8h0.8v0.8h-0.8zM477.9 57.5h0.8v0.8h-0.8zM478.6 61.9h0.8v0.8h-0.8zM480.2 56.5h0.8v0.8h-0.8zM477.4 61.3h0.8v0.8h-0.8zM473.6 64.4h0.8v0.8h-0.8zM476.2 63.1h0.8v0.8h-0.8zM471.1 60.2h0.8v0.8h-0.8zM477.7 61.2h0.8v0.8h-0.8zM477.4 63.6h0.8v0.8h-0.8zM475.5 60.4h0.8v0.8h-0.8zM475.7 57.0h0.8v0.8h-0.8zM475.5 62.4h0.8v0.8h-0.8zM479.0 58.5h0.8v0.8h-0.8zM476.8 58.9h0.8v0.8h-0.8zM480.7 62.9h0.8v0.8h-0.8zM479.6 66.5h0.8v0.8h-0.8zM475.7 62.4h0.8v0.8h-0.8zM479.4 62.1h0.8v0.8h-0.8zM470.7 60.2h0.8v0.8h-0.8zM480.0 60.7h0.8v0.8h-0.8zM483.2 63.8h0.8v0.8h-0.8zM478.1 60.7h0.8v0.8h-0.8zM480.1 59.2h0.8v0.8h-0.8zM479.1 54.7h0.8v0.8h-0.8zM470.5 55.9h0.8v0.8h-0.8zM478.5 58.2h0.8v0.8h-0.8zM483.1 62.2h0.8v0.8h-0.8zM476.8 60.4h0.8v0.8h-0.8zM474.6 60.6h0.8v0.8h-0.8zM476.8 63.4h0.8v0.8h-0.8zM477.4 60.8h0.8v0.8h-0.8zM478.3 62.8h0.8v0.8h-0.8zM478.1 59.4h0.8v0.8h-0.8zM478.5 58.9h0.8v0.8h-0.8zM476.9 66.0h0.8v0.8h-0.8zM476.7 58.1h0.8v0.8h-0.8zM480.4 58.8h0.8v0.8h-0.8zM476.2 67.3h0.8v0.8h-0.8zM479.5 61.5h0.8v0.8h-0.8zM477.4 60.1h0.8v0.8h-0.8zM475.1 66.2h0.8v0.8h-0.8zM476.8 60.2h0.8v0.8h-0.8zM478.2 60.1h0.8v0.8h-0.8zM478.2 58.5h0.8v0.8h-0.8zM473.5 57.3h0.8v0.8h-0.8zM477.3 63.0h0.8v0.8h-0.8zM479.8 57.0h0.8v0.8h-0.8zM479.6 63.8h0.8v0.8h-0.8zM477.7 62.8h0.8v0.8h-0.8zM481.3 56.8h0.8v0.8h-0.8zM478.9 56.6h0.8v0.8h-0.8zM477.6 60.2h0.8v0.8h-0.8zM479.4 62.4h0.8v0.8h-0.8zM481.8 53.9h0.8v0.8h-0.8zM476.7 63.0h0.8v0.8h-0.8zM475.5 64.2h0.8v0.8h-0.8zM478.1 59.0h0.8v0.8h-0.8zM475.8 56.9h0.8v0.8h-0.8zM476.4 56.4h0.8v0.8h-0.8zM474.6 61.5h0.8v0.8h-0.8zM477.7 63.2h0.8v0.8h-0.8zM476.7 59.9h0.8v0.8h-0.8zM481.2 62.2h0.8v0.8h-0.8zM477.8 61.4h0.8v0.8h-0.8zM480.6 58.3h0.8v0.8h-0.8zM478.3 68.1h0.8v0.8h-0.8zM479.1 52.1h0.8v0.8h-0.8zM477.8 61.6h0.8v0.8h-0.8zM480.7 59.6h0.8v0.8h-0.8zM474.8 59.7h0.8v0.8h-0.8zM479.2 62.3h0.8v0.8h-0.8zM472.8 61.7h0.8v0.8h-0.8zM473.9 57.6h0.8v0.8h-0.8zM475.8 60.7h0.8v0.8h-0.8zM477.1 58.5h0.8v0.8h-0.8zM474.4 62.3h0.8v0.8h-0.8zM476.0 59.8h0.8v0.8h-0.8zM478.5 62.0h0.8v0.8h-0.8zM482.9 60.8h0.8v0.8h-0.8zM474.6 62.0h0.8v0.8h-0.8zM474.5 70.0h0.8v0.8h-0.8zM475.4 62.5h0.8v0.8h-0.8zM476.2 57.2h0.8v0.8h-0.8zM478.3 59.6h0.8v0.8h-0.8zM473.3 65.7h0.8v0.8h-0.8zM476.9 54.8h0.8v0.8h-0.8zM479.5 59.2h0.8v0.8h-0.8zM479.1 60.4h0.8v0.8h-0.8zM480.0 57.3h0.8v0.8h-0.8zM478.6 58.0h0.8v0.8h-0.8zM477.6 57.7h0.8v0.8h-0.8zM479.9 64.0h0.8v0.8h-0.8zM478.0 59.5h0.8v0.8h-0.8zM473.1 62.2h0.8v0.8h-0.8zM479.3 61.9h0.8v0.8h-0.8zM479.1 60.7h0.8v0.8h-0.8zM479.4 63.2h0.8v0.8h-0.8zM475.3 60.8h0.8v0.8h-0.8zM479.4 58.8h0.8v0.8h-0.8zM475.6 60.5h0.8v0.8h-0.8zM477.6 62.5h0.8v0.8h-0.8zM476.0 57.9h0.8v0.8h-0.8zM478.5 60.1h0.8v0.8h-0.8zM476.1 64.5h0.8v0.8h-0.8zM476.0 60.9h0.8v0.8h-0.8zM481.4 61.1h0.8v0.8h-0.8zM476.3 63.2h0.8v0.8h-0.8zM479.0 66.8h0.8v0.8h-0.8zM478.0 64.0h0.8v0.8h-0.8zM477.0 63.7h0.8v0.8h-0.8zM478.2 51.2h0.8v0.8h-0.8zM477.0 62.7h0.8v0.8h-0.8zM475.8 59.9h0.8v0.8h-0.8zM482.5 55.8h0.8v0.8h-0.8zM474.7 66.2h0.8v0.8h-0.8zM475.0 66.9h0.8v0.8h-0.8zM476.1 62.4h0.8v0.8h-0.8zM480.4 58.0h0.8v0.8h-0.8zM471.0 61.3h0.8v0.8h-0.8zM481.3 59.2h0.8v0.8h-0.8zM476.7 64.2h0.8v0.8h-0.8zM479.5 60.7h0.8v0.8h-0.8zM471.3 65.7h0.8v0.8h-0.8zM480.6 59.9h0.8v0.8h-0.8zM475.1 54.5h0.8v0.8h-0.8zM478.4 61.2h0.8v0.8h-0.8zM481.7 53.0h0.8v0.8h-0.8zM476.5 61.7h0.8v0.8h-0.8zM478.6 57.9h0.8v0.8h-0.8zM478.6 56.7h0.8v0.8h-0.8zM476.9 59.3h0.8v0.8h-0.8zM476.4 59.2h0.8v0.8h-0.8zM475.2 66.5h0.8v0.8h-0.8zM477.0 59.1h0.8v0.8h-0.8zM479.4 62.0h0.8v0.8h-0.8zM474.7 63.0h0.8v0.8h-0.8zM479.4 60.4h0.8v0.8h-0.8zM472.8 58.0h0.8v0.8h-0.8z" fill="#3b7cc0" opacity="1.00"/><path d="M480.1 58.1h0.8v0.8h-0.8zM477.7 59.2h0.8v0.8h-0.8zM477.9 58.7h0.8v0.8h-0.8zM475.8 60.2h0.8v0.8h-0.8zM476.5 59.7h0.8v0.8h-0.8zM477.0 61.8h0.8v0.8h-0.8zM476.8 62.1h0.8v0.8h-0.8zM476.9 61.3h0.8v0.8h-0.8zM480.2 57.8h0.8v0.8h-0.8zM477.0 60.6h0.8v0.8h-0.8zM476.4 57.5h0.8v0.8h-0.8zM477.3 60.5h0.8v0.8h-0.8zM477.4 60.2h0.8v0.8h-0.8zM479.9 59.3h0.8v0.8h-0.8zM479.9 58.8h0.8v0.8h-0.8zM477.6 59.9h0.8v0.8h-0.8zM477.3 59.6h0.8v0.8h-0.8zM475.9 57.9h0.8v0.8h-0.8zM477.5 59.9h0.8v0.8h-0.8zM476.6 60.9h0.8v0.8h-0.8zM478.6 58.6h0.8v0.8h-0.8zM478.2 53.8h0.8v0.8h-0.8zM475.8 57.9h0.8v0.8h-0.8zM482.2 60.9h0.8v0.8h-0.8zM474.6 63.2h0.8v0.8h-0.8zM478.4 58.4h0.8v0.8h-0.8zM476.4 56.3h0.8v0.8h-0.8zM479.6 58.7h0.8v0.8h-0.8zM477.4 58.8h0.8v0.8h-0.8zM478.4 58.1h0.8v0.8h-0.8zM477.8 58.6h0.8v0.8h-0.8zM474.8 62.6h0.8v0.8h-0.8zM479.1 60.0h0.8v0.8h-0.8zM476.7 60.7h0.8v0.8h-0.8zM479.0 58.8h0.8v0.8h-0.8zM481.9 59.9h0.8v0.8h-0.8zM474.7 58.7h0.8v0.8h-0.8zM480.8 59.9h0.8v0.8h-0.8zM480.2 59.1h0.8v0.8h-0.8zM476.4 59.6h0.8v0.8h-0.8zM478.3 57.3h0.8v0.8h-0.8zM474.4 61.0h0.8v0.8h-0.8zM483.6 58.0h0.8v0.8h-0.8zM476.3 59.7h0.8v0.8h-0.8zM477.5 58.4h0.8v0.8h-0.8zM479.8 57.6h0.8v0.8h-0.8zM477.9 62.4h0.8v0.8h-0.8zM477.4 60.6h0.8v0.8h-0.8zM477.6 59.2h0.8v0.8h-0.8zM477.7 58.3h0.8v0.8h-0.8zM473.0 59.8h0.8v0.8h-0.8zM475.4 60.5h0.8v0.8h-0.8zM478.0 59.6h0.8v0.8h-0.8zM478.9 58.8h0.8v0.8h-0.8zM476.1 59.9h0.8v0.8h-0.8zM474.8 62.3h0.8v0.8h-0.8zM479.2 59.4h0.8v0.8h-0.8zM477.6 59.5h0.8v0.8h-0.8zM479.3 58.2h0.8v0.8h-0.8zM479.7 59.1h0.8v0.8h-0.8z" fill="#2d6db5" opacity="1.00"/><ellipse cx="495.4" cy="39" rx="7.2" ry="1.8" transform="rotate(-40 495.4 39)" fill="#e8473c" opacity="0.85"/><path d="M496.9 39.6h0.8v0.8h-0.8zM493.6 40.0h0.8v0.8h-0.8zM492.6 40.2h0.8v0.8h-0.8zM500.9 36.9h0.8v0.8h-0.8zM495.9 39.4h0.8v0.8h-0.8zM499.2 37.0h0.8v0.8h-0.8zM497.8 35.1h0.8v0.8h-0.8zM494.0 40.9h0.8v0.8h-0.8zM499.4 35.8h0.8v0.8h-0.8zM492.8 40.7h0.8v0.8h-0.8zM493.0 39.8h0.8v0.8h-0.8zM499.1 35.0h0.8v0.8h-0.8zM497.0 40.8h0.8v0.8h-0.8zM498.9 36.5h0.8v0.8h-0.8zM494.0 40.8h0.8v0.8h-0.8zM500.3 35.8h0.8v0.8h-0.8zM498.9 36.2h0.8v0.8h-0.8zM496.7 37.6h0.8v0.8h-0.8zM497.5 39.1h0.8v0.8h-0.8zM491.4 42.3h0.8v0.8h-0.8zM495.7 38.0h0.8v0.8h-0.8zM495.1 40.4h0.8v0.8h-0.8zM501.4 34.9h0.8v0.8h-0.8zM495.2 36.9h0.8v0.8h-0.8zM500.8 34.6h0.8v0.8h-0.8zM494.5 38.1h0.8v0.8h-0.8zM494.5 38.2h0.8v0.8h-0.8zM495.9 39.2h0.8v0.8h-0.8zM495.7 39.2h0.8v0.8h-0.8zM494.1 42.2h0.8v0.8h-0.8zM492.3 39.0h0.8v0.8h-0.8zM494.3 38.8h0.8v0.8h-0.8zM492.4 41.0h0.8v0.8h-0.8zM495.4 37.3h0.8v0.8h-0.8zM496.0 40.5h0.8v0.8h-0.8zM497.2 37.3h0.8v0.8h-0.8zM495.7 38.6h0.8v0.8h-0.8zM495.8 39.7h0.8v0.8h-0.8zM493.4 37.2h0.8v0.8h-0.8zM494.7 38.3h0.8v0.8h-0.8zM496.8 37.0h0.8v0.8h-0.8zM497.3 40.5h0.8v0.8h-0.8zM491.7 40.5h0.8v0.8h-0.8zM489.8 40.2h0.8v0.8h-0.8zM490.5 43.7h0.8v0.8h-0.8zM492.3 38.9h0.8v0.8h-0.8zM491.7 43.0h0.8v0.8h-0.8zM493.0 40.5h0.8v0.8h-0.8zM497.3 39.4h0.8v0.8h-0.8zM501.5 35.4h0.8v0.8h-0.8zM495.9 38.8h0.8v0.8h-0.8zM501.4 36.0h0.8v0.8h-0.8zM494.9 40.1h0.8v0.8h-0.8zM496.2 38.4h0.8v0.8h-0.8zM493.1 39.0h0.8v0.8h-0.8zM492.8 38.9h0.8v0.8h-0.8zM499.2 36.6h0.8v0.8h-0.8zM493.1 43.0h0.8v0.8h-0.8zM496.5 35.3h0.8v0.8h-0.8zM501.1 35.4h0.8v0.8h-0.8zM500.2 33.2h0.8v0.8h-0.8zM497.2 38.1h0.8v0.8h-0.8zM496.1 38.7h0.8v0.8h-0.8zM497.2 35.3h0.8v0.8h-0.8zM491.0 40.7h0.8v0.8h-0.8zM493.4 39.8h0.8v0.8h-0.8zM496.6 38.4h0.8v0.8h-0.8zM495.0 38.4h0.8v0.8h-0.8zM494.9 40.8h0.8v0.8h-0.8zM497.6 37.3h0.8v0.8h-0.8zM495.6 41.1h0.8v0.8h-0.8zM494.2 40.9h0.8v0.8h-0.8zM498.4 36.1h0.8v0.8h-0.8zM496.9 36.1h0.8v0.8h-0.8zM498.3 36.8h0.8v0.8h-0.8zM491.5 43.2h0.8v0.8h-0.8zM493.8 42.1h0.8v0.8h-0.8zM493.4 40.4h0.8v0.8h-0.8zM495.9 38.1h0.8v0.8h-0.8zM495.7 37.9h0.8v0.8h-0.8zM497.3 37.4h0.8v0.8h-0.8zM494.0 36.2h0.8v0.8h-0.8zM498.6 36.3h0.8v0.8h-0.8zM490.6 43.2h0.8v0.8h-0.8zM497.4 38.8h0.8v0.8h-0.8zM493.5 42.8h0.8v0.8h-0.8zM496.7 41.4h0.8v0.8h-0.8zM495.5 39.9h0.8v0.8h-0.8zM493.6 38.9h0.8v0.8h-0.8zM499.1 37.2h0.8v0.8h-0.8zM500.2 36.2h0.8v0.8h-0.8zM492.6 38.9h0.8v0.8h-0.8zM493.1 39.9h0.8v0.8h-0.8zM493.6 41.4h0.8v0.8h-0.8zM496.1 38.0h0.8v0.8h-0.8zM495.8 38.5h0.8v0.8h-0.8zM496.5 39.1h0.8v0.8h-0.8zM497.6 36.2h0.8v0.8h-0.8zM492.3 43.7h0.8v0.8h-0.8zM496.5 39.7h0.8v0.8h-0.8zM490.6 42.5h0.8v0.8h-0.8zM494.5 37.7h0.8v0.8h-0.8zM494.5 40.8h0.8v0.8h-0.8zM499.5 37.8h0.8v0.8h-0.8zM492.0 39.8h0.8v0.8h-0.8zM497.5 38.6h0.8v0.8h-0.8zM495.0 37.5h0.8v0.8h-0.8zM498.1 37.9h0.8v0.8h-0.8zM496.6 37.3h0.8v0.8h-0.8zM496.8 39.0h0.8v0.8h-0.8zM492.6 38.7h0.8v0.8h-0.8zM496.6 38.6h0.8v0.8h-0.8zM496.1 39.7h0.8v0.8h-0.8zM493.7 40.3h0.8v0.8h-0.8zM495.0 40.2h0.8v0.8h-0.8zM499.6 35.1h0.8v0.8h-0.8zM502.1 35.5h0.8v0.8h-0.8zM498.0 37.7h0.8v0.8h-0.8zM500.2 34.8h0.8v0.8h-0.8zM494.3 38.4h0.8v0.8h-0.8zM497.7 39.0h0.8v0.8h-0.8zM497.2 38.1h0.8v0.8h-0.8zM495.0 39.6h0.8v0.8h-0.8zM492.2 43.2h0.8v0.8h-0.8zM493.5 39.0h0.8v0.8h-0.8zM492.7 40.0h0.8v0.8h-0.8zM498.5 37.9h0.8v0.8h-0.8zM492.3 42.9h0.8v0.8h-0.8zM497.4 36.5h0.8v0.8h-0.8zM490.8 41.8h0.8v0.8h-0.8zM493.9 40.8h0.8v0.8h-0.8zM493.0 38.1h0.8v0.8h-0.8zM495.0 37.2h0.8v0.8h-0.8zM497.0 35.9h0.8v0.8h-0.8zM492.9 39.9h0.8v0.8h-0.8zM494.8 41.3h0.8v0.8h-0.8zM498.2 37.5h0.8v0.8h-0.8zM495.2 37.0h0.8v0.8h-0.8zM493.6 39.7h0.8v0.8h-0.8zM493.1 41.7h0.8v0.8h-0.8zM492.9 40.1h0.8v0.8h-0.8zM491.1 39.7h0.8v0.8h-0.8zM498.0 38.7h0.8v0.8h-0.8zM495.2 37.8h0.8v0.8h-0.8zM488.1 45.4h0.8v0.8h-0.8zM499.0 36.4h0.8v0.8h-0.8zM499.0 38.1h0.8v0.8h-0.8zM498.2 36.0h0.8v0.8h-0.8zM498.9 37.2h0.8v0.8h-0.8zM490.9 42.2h0.8v0.8h-0.8zM491.4 42.2h0.8v0.8h-0.8zM496.2 36.8h0.8v0.8h-0.8zM490.6 44.9h0.8v0.8h-0.8zM497.5 39.4h0.8v0.8h-0.8zM492.5 43.0h0.8v0.8h-0.8zM502.5 35.9h0.8v0.8h-0.8zM495.0 39.7h0.8v0.8h-0.8zM495.7 40.2h0.8v0.8h-0.8zM498.3 36.7h0.8v0.8h-0.8zM492.2 42.8h0.8v0.8h-0.8zM494.5 40.6h0.8v0.8h-0.8zM497.3 39.8h0.8v0.8h-0.8zM498.2 36.0h0.8v0.8h-0.8zM497.6 39.7h0.8v0.8h-0.8zM494.2 40.6h0.8v0.8h-0.8zM499.6 37.3h0.8v0.8h-0.8zM495.9 36.7h0.8v0.8h-0.8zM492.1 42.1h0.8v0.8h-0.8zM498.3 40.3h0.8v0.8h-0.8zM493.8 42.0h0.8v0.8h-0.8zM496.3 35.8h0.8v0.8h-0.8zM493.3 41.0h0.8v0.8h-0.8zM493.9 40.0h0.8v0.8h-0.8zM496.1 37.2h0.8v0.8h-0.8zM496.2 37.4h0.8v0.8h-0.8zM494.3 40.7h0.8v0.8h-0.8zM494.0 40.6h0.8v0.8h-0.8zM499.8 35.3h0.8v0.8h-0.8zM495.5 40.0h0.8v0.8h-0.8zM495.2 40.8h0.8v0.8h-0.8zM492.3 42.5h0.8v0.8h-0.8zM493.4 39.5h0.8v0.8h-0.8zM499.7 34.2h0.8v0.8h-0.8zM500.7 35.5h0.8v0.8h-0.8zM498.7 34.8h0.8v0.8h-0.8zM499.7 37.5h0.8v0.8h-0.8zM495.0 39.2h0.8v0.8h-0.8zM502.3 33.5h0.8v0.8h-0.8zM493.8 39.4h0.8v0.8h-0.8zM496.9 38.2h0.8v0.8h-0.8zM497.1 40.0h0.8v0.8h-0.8zM494.8 40.2h0.8v0.8h-0.8zM498.7 34.8h0.8v0.8h-0.8zM499.6 38.1h0.8v0.8h-0.8zM490.9 41.2h0.8v0.8h-0.8zM491.2 39.8h0.8v0.8h-0.8zM495.3 36.4h0.8v0.8h-0.8zM497.8 39.1h0.8v0.8h-0.8zM490.7 42.5h0.8v0.8h-0.8zM490.7 44.1h0.8v0.8h-0.8z" fill="#e4403a" opacity="1.00"/><ellipse cx="473.8" cy="66.3" rx="4.6" ry="2.9" fill="#e4403a"/><path d="M471.9 66.1h0.8v0.8h-0.8zM473.8 66.7h0.8v0.8h-0.8zM472.9 66.3h0.8v0.8h-0.8zM472.4 66.4h0.8v0.8h-0.8zM471.1 66.6h0.8v0.8h-0.8zM469.3 66.3h0.8v0.8h-0.8zM477.8 65.5h0.8v0.8h-0.8zM470.9 66.9h0.8v0.8h-0.8zM471.1 64.5h0.8v0.8h-0.8zM472.2 67.3h0.8v0.8h-0.8zM474.4 65.8h0.8v0.8h-0.8zM471.4 65.2h0.8v0.8h-0.8zM476.6 65.9h0.8v0.8h-0.8zM471.1 64.0h0.8v0.8h-0.8zM471.1 69.5h0.8v0.8h-0.8zM471.1 66.4h0.8v0.8h-0.8zM474.0 65.8h0.8v0.8h-0.8zM472.7 64.6h0.8v0.8h-0.8zM471.7 68.5h0.8v0.8h-0.8zM472.1 67.4h0.8v0.8h-0.8zM469.9 66.4h0.8v0.8h-0.8zM474.4 67.2h0.8v0.8h-0.8zM471.3 67.2h0.8v0.8h-0.8zM474.3 65.1h0.8v0.8h-0.8zM474.4 64.9h0.8v0.8h-0.8zM471.9 66.4h0.8v0.8h-0.8zM467.7 67.0h0.8v0.8h-0.8zM471.1 64.8h0.8v0.8h-0.8zM472.8 67.2h0.8v0.8h-0.8zM473.0 67.8h0.8v0.8h-0.8zM470.8 65.0h0.8v0.8h-0.8zM477.0 66.0h0.8v0.8h-0.8zM475.5 64.8h0.8v0.8h-0.8zM475.4 66.1h0.8v0.8h-0.8zM475.0 65.9h0.8v0.8h-0.8zM476.1 64.9h0.8v0.8h-0.8zM471.2 64.7h0.8v0.8h-0.8zM476.0 64.8h0.8v0.8h-0.8zM471.1 65.4h0.8v0.8h-0.8zM472.4 64.8h0.8v0.8h-0.8zM472.8 65.5h0.8v0.8h-0.8zM472.2 65.2h0.8v0.8h-0.8zM473.6 65.5h0.8v0.8h-0.8zM473.9 66.4h0.8v0.8h-0.8zM473.9 63.4h0.8v0.8h-0.8zM472.3 65.4h0.8v0.8h-0.8zM474.9 63.9h0.8v0.8h-0.8zM472.0 66.0h0.8v0.8h-0.8zM473.1 67.4h0.8v0.8h-0.8zM472.8 67.4h0.8v0.8h-0.8zM470.0 64.5h0.8v0.8h-0.8zM476.3 66.1h0.8v0.8h-0.8zM474.7 66.1h0.8v0.8h-0.8zM474.4 64.5h0.8v0.8h-0.8zM475.5 65.1h0.8v0.8h-0.8zM475.8 65.8h0.8v0.8h-0.8zM469.1 65.3h0.8v0.8h-0.8zM476.0 65.5h0.8v0.8h-0.8zM472.8 66.5h0.8v0.8h-0.8zM472.6 65.6h0.8v0.8h-0.8zM473.9 66.2h0.8v0.8h-0.8zM476.9 65.6h0.8v0.8h-0.8zM478.0 67.5h0.8v0.8h-0.8zM477.5 66.7h0.8v0.8h-0.8zM473.9 66.2h0.8v0.8h-0.8zM473.1 65.3h0.8v0.8h-0.8zM473.3 65.4h0.8v0.8h-0.8zM477.3 66.1h0.8v0.8h-0.8zM472.2 64.0h0.8v0.8h-0.8zM473.4 65.6h0.8v0.8h-0.8zM471.0 65.2h0.8v0.8h-0.8zM468.8 67.6h0.8v0.8h-0.8zM474.0 69.2h0.8v0.8h-0.8zM473.5 65.9h0.8v0.8h-0.8zM476.8 65.7h0.8v0.8h-0.8zM473.9 65.6h0.8v0.8h-0.8zM472.6 68.1h0.8v0.8h-0.8zM476.1 67.7h0.8v0.8h-0.8zM472.8 66.3h0.8v0.8h-0.8zM471.9 67.6h0.8v0.8h-0.8zM470.7 67.3h0.8v0.8h-0.8zM476.3 67.3h0.8v0.8h-0.8zM471.8 67.7h0.8v0.8h-0.8zM471.9 65.5h0.8v0.8h-0.8zM471.0 68.0h0.8v0.8h-0.8zM477.0 64.8h0.8v0.8h-0.8zM471.9 66.0h0.8v0.8h-0.8zM479.2 66.3h0.8v0.8h-0.8zM472.1 64.2h0.8v0.8h-0.8zM472.4 67.8h0.8v0.8h-0.8zM477.6 65.1h0.8v0.8h-0.8zM472.0 65.8h0.8v0.8h-0.8zM469.7 67.9h0.8v0.8h-0.8zM471.5 67.8h0.8v0.8h-0.8zM469.6 65.3h0.8v0.8h-0.8zM474.1 65.1h0.8v0.8h-0.8zM475.3 65.8h0.8v0.8h-0.8zM471.2 67.3h0.8v0.8h-0.8zM475.0 63.5h0.8v0.8h-0.8zM477.7 66.0h0.8v0.8h-0.8zM474.9 63.6h0.8v0.8h-0.8zM472.0 66.0h0.8v0.8h-0.8zM475.6 64.0h0.8v0.8h-0.8zM471.3 64.0h0.8v0.8h-0.8zM473.1 66.6h0.8v0.8h-0.8zM469.8 66.0h0.8v0.8h-0.8zM475.0 67.8h0.8v0.8h-0.8zM475.0 65.5h0.8v0.8h-0.8zM470.9 65.4h0.8v0.8h-0.8zM472.2 66.5h0.8v0.8h-0.8zM473.8 68.1h0.8v0.8h-0.8zM474.0 64.7h0.8v0.8h-0.8zM477.1 66.6h0.8v0.8h-0.8zM473.7 65.2h0.8v0.8h-0.8zM469.3 65.6h0.8v0.8h-0.8zM475.4 64.8h0.8v0.8h-0.8zM470.8 66.8h0.8v0.8h-0.8zM474.3 66.7h0.8v0.8h-0.8zM475.3 67.5h0.8v0.8h-0.8zM472.0 67.6h0.8v0.8h-0.8zM471.6 67.3h0.8v0.8h-0.8zM474.0 66.3h0.8v0.8h-0.8zM475.7 65.7h0.8v0.8h-0.8zM476.2 66.7h0.8v0.8h-0.8zM473.8 65.4h0.8v0.8h-0.8zM471.9 65.8h0.8v0.8h-0.8zM473.2 66.1h0.8v0.8h-0.8zM480.2 65.7h0.8v0.8h-0.8zM475.1 64.8h0.8v0.8h-0.8zM472.0 66.0h0.8v0.8h-0.8zM473.8 64.8h0.8v0.8h-0.8zM477.0 64.8h0.8v0.8h-0.8zM475.4 62.9h0.8v0.8h-0.8zM473.6 66.4h0.8v0.8h-0.8zM474.1 66.7h0.8v0.8h-0.8zM474.2 66.2h0.8v0.8h-0.8zM469.4 66.0h0.8v0.8h-0.8zM468.7 67.7h0.8v0.8h-0.8zM474.2 65.8h0.8v0.8h-0.8zM471.7 65.7h0.8v0.8h-0.8zM478.0 67.4h0.8v0.8h-0.8zM473.7 67.6h0.8v0.8h-0.8zM469.8 64.4h0.8v0.8h-0.8zM472.4 65.3h0.8v0.8h-0.8zM472.4 66.5h0.8v0.8h-0.8zM480.0 64.2h0.8v0.8h-0.8zM473.8 66.4h0.8v0.8h-0.8zM473.7 67.2h0.8v0.8h-0.8zM477.2 64.0h0.8v0.8h-0.8zM473.9 65.7h0.8v0.8h-0.8zM474.1 64.2h0.8v0.8h-0.8zM469.3 64.0h0.8v0.8h-0.8zM474.8 66.1h0.8v0.8h-0.8zM473.3 63.3h0.8v0.8h-0.8zM472.6 65.4h0.8v0.8h-0.8zM470.3 65.6h0.8v0.8h-0.8zM475.2 66.5h0.8v0.8h-0.8zM473.7 66.7h0.8v0.8h-0.8zM472.3 66.4h0.8v0.8h-0.8zM473.8 66.7h0.8v0.8h-0.8z" fill="#e4403a" opacity="1.00"/></g><polygon points="486.7,38.6 494.5,29.9 499.4,28.5 504.4,31.2 503.9,34.5 496.3,43.5 489.1,48.9 487.3,45.3" fill="none" stroke="#333" stroke-width="0.6"/><line x1="453.50" y1="21.80" x2="512.20" y2="21.80" stroke="#3a3a3a" stroke-width="1.40" /><line x1="512.20" y1="21.80" x2="512.20" y2="82.00" stroke="#1a1a1a" stroke-width="1.10" /><line x1="453.50" y1="21.30" x2="453.50" y2="82.50" stroke="#111" stroke-width="1.00" /><line x1="453.00" y1="82.00" x2="512.20" y2="82.00" stroke="#111" stroke-width="1.00" /><text x="451.20" y="28.40" font-size="6.00" text-anchor="end" fill="#2e2e2e" textLength="6.81" lengthAdjust="spacingAndGlyphs">10<tspan dy="-2.28" font-size="3.30">5</tspan></text><text x="451.20" y="43.90" font-size="6.00" text-anchor="end" fill="#2e2e2e" textLength="6.81" lengthAdjust="spacingAndGlyphs">10<tspan dy="-2.28" font-size="3.30">4</tspan></text><text x="451.20" y="61.40" font-size="6.00" text-anchor="end" fill="#2e2e2e" textLength="6.81" lengthAdjust="spacingAndGlyphs">10<tspan dy="-2.28" font-size="3.30">3</tspan></text><text x="451.20" y="70.80" font-size="6.00" text-anchor="end" fill="#2e2e2e" textLength="2.67" lengthAdjust="spacingAndGlyphs">0</text><text x="451.20" y="80.70" font-size="6.00" text-anchor="end" fill="#2e2e2e" textLength="8.40" lengthAdjust="spacingAndGlyphs">-10<tspan dy="-2.28" font-size="3.30">3</tspan></text><text x="456.90" y="94.20" font-size="6.00" text-anchor="middle" fill="#2e2e2e" textLength="8.40" lengthAdjust="spacingAndGlyphs">-10<tspan dy="-2.28" font-size="3.30">3</tspan></text><text x="466.20" y="94.20" font-size="6.00" text-anchor="middle" fill="#2e2e2e" textLength="2.67" lengthAdjust="spacingAndGlyphs">0</text><text x="476.20" y="94.20" font-size="6.00" text-anchor="middle" fill="#2e2e2e" textLength="6.81" lengthAdjust="spacingAndGlyphs">10<tspan dy="-2.28" font-size="3.30">3</tspan></text><text x="494.40" y="94.20" font-size="6.00" text-anchor="middle" fill="#2e2e2e" textLength="6.81" lengthAdjust="spacingAndGlyphs">10<tspan dy="-2.28" font-size="3.30">4</tspan></text><text x="506.90" y="94.20" font-size="6.00" text-anchor="middle" fill="#2e2e2e" textLength="6.81" lengthAdjust="spacingAndGlyphs">10<tspan dy="-2.28" font-size="3.30">5</tspan></text><text x="483.10" y="105.40" font-size="8.20" text-anchor="middle" fill="#2e2e2e" textLength="22.5" lengthAdjust="spacingAndGlyphs" >CD66a</text><text transform="translate(434.00 50.50) rotate(-90)" x="0" y="3.10" font-size="8.60" text-anchor="middle" fill="#2e2e2e" textLength="17.8" lengthAdjust="spacingAndGlyphs">CD63</text><rect x="442.40" y="113.30" width="6.20" height="6.20" fill="#f6e4de" stroke="#cc5533" stroke-width="0.9"/><line x1="445.50" y1="114.10" x2="445.50" y2="118.70" stroke="#cc5533" stroke-width="0.30" opacity="0.45"/><line x1="443.20" y1="116.40" x2="447.80" y2="116.40" stroke="#cc5533" stroke-width="0.30" opacity="0.45"/><text x="451.00" y="118.90" font-size="5.60" text-anchor="start" fill="#383838" textLength="24.6" lengthAdjust="spacingAndGlyphs" >Blood fixed</text><rect x="442.40" y="126.60" width="6.20" height="6.20" fill="#e8edf6" stroke="#5b80c2" stroke-width="0.9"/><line x1="445.50" y1="127.40" x2="445.50" y2="132.00" stroke="#5b80c2" stroke-width="0.30" opacity="0.45"/><line x1="443.20" y1="129.70" x2="447.80" y2="129.70" stroke="#5b80c2" stroke-width="0.30" opacity="0.45"/><text x="451.00" y="131.20" font-size="5.60" text-anchor="start" fill="#383838" textLength="57.2" lengthAdjust="spacingAndGlyphs" >Blood fixed After RBC lysis</text><rect x="258.70" y="175.50" width="51.90" height="52.50" fill="#fff"/><rect x="319.20" y="175.50" width="51.60" height="52.50" fill="#fff"/><rect x="379.70" y="175.50" width="51.60" height="52.50" fill="#fff"/><rect x="440.00" y="175.50" width="52.00" height="52.50" fill="#fff"/><text x="368.80" y="251.20" font-size="8.20" text-anchor="middle" fill="#2e2e2e" textLength="22.5" lengthAdjust="spacingAndGlyphs" >CD66a</text><text transform="translate(237.30 202.10) rotate(-90)" x="0" y="3.02" font-size="8.40" text-anchor="middle" fill="#2e2e2e" textLength="18.6" lengthAdjust="spacingAndGlyphs">CD63</text><polygon points="286.7,195.7 288.6,185.6 294.0,181.0 303.2,180.5 303.2,184.7 296.8,195.7" fill="none" stroke="#3a3a3a" stroke-width="0.60"/><ellipse cx="293.40" cy="187.90" rx="4.50" ry="2.60" transform="rotate(-35.0 293.40 187.90)" fill="none" stroke="#999" stroke-width="0.35"/><ellipse cx="293.40" cy="187.90" rx="2.70" ry="1.56" transform="rotate(-35.0 293.40 187.90)" fill="none" stroke="#999" stroke-width="0.35"/><path d="M279.6 203.1 C282.6 203.6 283.8 207 283.7 210.5 C283.6 214.8 281 217.5 277.8 217.5 C274.4 217.5 272 215 272 211.5 C272 206.8 275.5 202.6 279.6 203.1 Z" fill="#cdcdcd" stroke="#a0a0a0" stroke-width="0.4"/><path d="M279 205 C281.3 205.5 282.2 208 282.1 210.8 C282 214 280 215.8 277.6 215.8 C275.2 215.8 273.6 214 273.6 211.5 C273.6 207.8 276.2 204.6 279 205 Z" fill="#8c8c8c" stroke="#707070" stroke-width="0.4"/><ellipse cx="277.30" cy="211.40" rx="2.90" ry="3.60" transform="rotate(10.0 277.30 211.40)" fill="#3a3a3a" stroke="#333" stroke-width="0.35"/><ellipse cx="277.30" cy="211.40" rx="2.03" ry="2.52" transform="rotate(10.0 277.30 211.40)" fill="#1c1c1c" stroke="#333" stroke-width="0.35"/><ellipse cx="277.30" cy="211.40" rx="1.30" ry="1.62" transform="rotate(10.0 277.30 211.40)" fill="#151515" stroke="#333" stroke-width="0.35"/><ellipse cx="277.3" cy="211.8" rx="0.8" ry="0.8" fill="#9a9a9a"/><polygon points="347.4,195.7 347.4,189.0 349.9,184.2 355.0,180.5 363.5,179.6 363.8,185.6 360.9,190.6 355.8,195.7" fill="none" stroke="#3a3a3a" stroke-width="0.60"/><ellipse cx="344.00" cy="210.80" rx="5.00" ry="4.00" transform="rotate(0.0 344.00 210.80)" fill="#e2e2e2" stroke="#bbb" stroke-width="0.35"/><ellipse cx="344.00" cy="210.80" rx="3.50" ry="2.80" transform="rotate(0.0 344.00 210.80)" fill="#c8c8c8" stroke="#bbb" stroke-width="0.35"/><ellipse cx="344.00" cy="213.20" rx="7.60" ry="4.50" transform="rotate(0.0 344.00 213.20)" fill="#bdbdbd" stroke="#555" stroke-width="0.35"/><ellipse cx="344.00" cy="213.20" rx="6.08" ry="3.60" transform="rotate(0.0 344.00 213.20)" fill="#8a8a8a" stroke="#555" stroke-width="0.35"/><ellipse cx="344.00" cy="213.20" rx="4.56" ry="2.70" transform="rotate(0.0 344.00 213.20)" fill="#4a4a4a" stroke="#555" stroke-width="0.35"/><ellipse cx="344.00" cy="213.20" rx="3.19" ry="1.89" transform="rotate(0.0 344.00 213.20)" fill="#222" stroke="#555" stroke-width="0.35"/><ellipse cx="344.00" cy="213.20" rx="1.67" ry="0.99" transform="rotate(0.0 344.00 213.20)" fill="#111" stroke="#555" stroke-width="0.35"/><ellipse cx="344.6" cy="213.6" rx="1.0" ry="0.6" fill="#ccc"/><polygon points="407.9,195.7 407.9,189.0 410.4,184.2 415.5,180.5 424.0,179.6 424.3,185.6 421.4,190.6 416.3,195.7" fill="none" stroke="#3a3a3a" stroke-width="0.60"/><path d="M405.7 203.2 C403 206 398.5 209 398.5 213 C398.5 217.5 402 219.2 405.7 219.2 C409.5 219.2 413.2 217.5 413.2 213 C413.2 209 408.5 206 405.7 203.2 Z" fill="#d8d8d8" stroke="#aaa" stroke-width="0.35"/><ellipse cx="405.70" cy="213.30" rx="6.60" ry="5.20" transform="rotate(0.0 405.70 213.30)" fill="#a8a8a8" stroke="#555" stroke-width="0.35"/><ellipse cx="405.70" cy="213.30" rx="5.15" ry="4.06" transform="rotate(0.0 405.70 213.30)" fill="#6a6a6a" stroke="#555" stroke-width="0.35"/><ellipse cx="405.70" cy="213.30" rx="3.83" ry="3.02" transform="rotate(0.0 405.70 213.30)" fill="#333" stroke="#555" stroke-width="0.35"/><ellipse cx="405.70" cy="213.30" rx="2.51" ry="1.98" transform="rotate(0.0 405.70 213.30)" fill="#1a1a1a" stroke="#555" stroke-width="0.35"/><ellipse cx="406.2" cy="213.8" rx="1.0" ry="0.7" fill="#ccc"/><polygon points="461.7,203.4 460.4,198.1 461.3,191.9 472.8,181.0 485.8,178.0 486.8,184.2 471.2,202.8" fill="none" stroke="#3a3a3a" stroke-width="0.60"/><ellipse cx="474.30" cy="190.00" rx="15.60" ry="3.90" transform="rotate(-42.7 474.30 190.00)" fill="#e8e8e8" stroke="#8a8a8a" stroke-width="0.35"/><ellipse cx="474.90" cy="189.40" rx="13.40" ry="3.10" transform="rotate(-42.7 474.90 189.40)" fill="#cfcfcf" stroke="#6a6a6a" stroke-width="0.35"/><ellipse cx="475.80" cy="188.50" rx="10.60" ry="2.50" transform="rotate(-42.7 475.80 188.50)" fill="#9a9a9a" stroke="#555" stroke-width="0.35"/><ellipse cx="476.60" cy="187.80" rx="7.80" ry="1.90" transform="rotate(-42.7 476.60 187.80)" fill="#6a6a6a" stroke="#3a3a3a" stroke-width="0.35"/><ellipse cx="477.20" cy="187.20" rx="5.00" ry="1.10" transform="rotate(-42.7 477.20 187.20)" fill="#2e2e2e" stroke="#222" stroke-width="0.35"/><line x1="258.70" y1="175.50" x2="310.60" y2="175.50" stroke="#3a3a3a" stroke-width="1.40" /><line x1="310.60" y1="175.50" x2="310.60" y2="228.00" stroke="#1a1a1a" stroke-width="1.10" /><line x1="258.70" y1="175.00" x2="258.70" y2="228.50" stroke="#111" stroke-width="1.00" /><line x1="258.20" y1="228.00" x2="310.60" y2="228.00" stroke="#111" stroke-width="1.00" /><text x="255.30" y="182.50" font-size="6.00" text-anchor="end" fill="#2e2e2e" textLength="6.81" lengthAdjust="spacingAndGlyphs">10<tspan dy="-2.28" font-size="3.30">5</tspan></text><text x="255.30" y="195.60" font-size="6.00" text-anchor="end" fill="#2e2e2e" textLength="6.81" lengthAdjust="spacingAndGlyphs">10<tspan dy="-2.28" font-size="3.30">4</tspan></text><text x="255.30" y="209.60" font-size="6.00" text-anchor="end" fill="#2e2e2e" textLength="6.81" lengthAdjust="spacingAndGlyphs">10<tspan dy="-2.28" font-size="3.30">3</tspan></text><text x="255.30" y="217.90" font-size="6.00" text-anchor="end" fill="#2e2e2e" textLength="2.67" lengthAdjust="spacingAndGlyphs">0</text><text x="255.30" y="227.30" font-size="6.00" text-anchor="end" fill="#2e2e2e" textLength="8.40" lengthAdjust="spacingAndGlyphs">-10<tspan dy="-2.28" font-size="3.30">3</tspan></text><text x="261.40" y="239.40" font-size="6.00" text-anchor="middle" fill="#2e2e2e" textLength="8.40" lengthAdjust="spacingAndGlyphs">-10<tspan dy="-2.28" font-size="3.30">3</tspan></text><text x="270.70" y="239.40" font-size="6.00" text-anchor="middle" fill="#2e2e2e" textLength="2.67" lengthAdjust="spacingAndGlyphs">0</text><text x="278.60" y="239.40" font-size="6.00" text-anchor="middle" fill="#2e2e2e" textLength="6.81" lengthAdjust="spacingAndGlyphs">10<tspan dy="-2.28" font-size="3.30">3</tspan></text><text x="293.00" y="239.40" font-size="6.00" text-anchor="middle" fill="#2e2e2e" textLength="6.81" lengthAdjust="spacingAndGlyphs">10<tspan dy="-2.28" font-size="3.30">4</tspan></text><text x="305.10" y="239.40" font-size="6.00" text-anchor="middle" fill="#2e2e2e" textLength="6.81" lengthAdjust="spacingAndGlyphs">10<tspan dy="-2.28" font-size="3.30">5</tspan></text><text x="284.00" y="170.30" font-size="7.60" text-anchor="middle" fill="#2e2e2e" textLength="19.3" lengthAdjust="spacingAndGlyphs" >Blood</text><text x="265.70" y="188.90" font-size="6.40" text-anchor="start" fill="#2e2e2e" textLength="15.4" lengthAdjust="spacingAndGlyphs" >5.2%</text><line x1="319.20" y1="175.50" x2="370.80" y2="175.50" stroke="#3a3a3a" stroke-width="1.40" /><line x1="370.80" y1="175.50" x2="370.80" y2="228.00" stroke="#1a1a1a" stroke-width="1.10" /><line x1="319.20" y1="175.00" x2="319.20" y2="228.50" stroke="#111" stroke-width="1.00" /><line x1="318.70" y1="228.00" x2="370.80" y2="228.00" stroke="#111" stroke-width="1.00" /><text x="321.90" y="239.40" font-size="6.00" text-anchor="middle" fill="#2e2e2e" textLength="8.40" lengthAdjust="spacingAndGlyphs">-10<tspan dy="-2.28" font-size="3.30">3</tspan></text><text x="331.20" y="239.40" font-size="6.00" text-anchor="middle" fill="#2e2e2e" textLength="2.67" lengthAdjust="spacingAndGlyphs">0</text><text x="339.10" y="239.40" font-size="6.00" text-anchor="middle" fill="#2e2e2e" textLength="6.81" lengthAdjust="spacingAndGlyphs">10<tspan dy="-2.28" font-size="3.30">3</tspan></text><text x="353.50" y="239.40" font-size="6.00" text-anchor="middle" fill="#2e2e2e" textLength="6.81" lengthAdjust="spacingAndGlyphs">10<tspan dy="-2.28" font-size="3.30">4</tspan></text><text x="365.60" y="239.40" font-size="6.00" text-anchor="middle" fill="#2e2e2e" textLength="6.81" lengthAdjust="spacingAndGlyphs">10<tspan dy="-2.28" font-size="3.30">5</tspan></text><text x="344.80" y="170.30" font-size="7.60" text-anchor="middle" fill="#2e2e2e" textLength="10.5" lengthAdjust="spacingAndGlyphs" >HD</text><text x="323.60" y="188.90" font-size="6.40" text-anchor="start" fill="#2e2e2e" textLength="18.2" lengthAdjust="spacingAndGlyphs" >0.03%</text><line x1="379.70" y1="175.50" x2="431.30" y2="175.50" stroke="#3a3a3a" stroke-width="1.40" /><line x1="431.30" y1="175.50" x2="431.30" y2="228.00" stroke="#1a1a1a" stroke-width="1.10" /><line x1="379.70" y1="175.00" x2="379.70" y2="228.50" stroke="#111" stroke-width="1.00" /><line x1="379.20" y1="228.00" x2="431.30" y2="228.00" stroke="#111" stroke-width="1.00" /><text x="382.40" y="239.40" font-size="6.00" text-anchor="middle" fill="#2e2e2e" textLength="8.40" lengthAdjust="spacingAndGlyphs">-10<tspan dy="-2.28" font-size="3.30">3</tspan></text><text x="391.70" y="239.40" font-size="6.00" text-anchor="middle" fill="#2e2e2e" textLength="2.67" lengthAdjust="spacingAndGlyphs">0</text><text x="399.60" y="239.40" font-size="6.00" text-anchor="middle" fill="#2e2e2e" textLength="6.81" lengthAdjust="spacingAndGlyphs">10<tspan dy="-2.28" font-size="3.30">3</tspan></text><text x="414.00" y="239.40" font-size="6.00" text-anchor="middle" fill="#2e2e2e" textLength="6.81" lengthAdjust="spacingAndGlyphs">10<tspan dy="-2.28" font-size="3.30">4</tspan></text><text x="426.10" y="239.40" font-size="6.00" text-anchor="middle" fill="#2e2e2e" textLength="6.81" lengthAdjust="spacingAndGlyphs">10<tspan dy="-2.28" font-size="3.30">5</tspan></text><text x="406.00" y="170.30" font-size="7.60" text-anchor="middle" fill="#2e2e2e" textLength="9.6" lengthAdjust="spacingAndGlyphs" >LD</text><text x="383.60" y="188.90" font-size="6.40" text-anchor="start" fill="#2e2e2e" textLength="18.2" lengthAdjust="spacingAndGlyphs" >0.08%</text><line x1="440.00" y1="175.50" x2="492.00" y2="175.50" stroke="#3a3a3a" stroke-width="1.40" /><line x1="492.00" y1="175.50" x2="492.00" y2="228.00" stroke="#1a1a1a" stroke-width="1.10" /><line x1="440.00" y1="175.00" x2="440.00" y2="228.50" stroke="#111" stroke-width="1.00" /><line x1="439.50" y1="228.00" x2="492.00" y2="228.00" stroke="#111" stroke-width="1.00" /><text x="442.70" y="239.40" font-size="6.00" text-anchor="middle" fill="#2e2e2e" textLength="8.40" lengthAdjust="spacingAndGlyphs">-10<tspan dy="-2.28" font-size="3.30">3</tspan></text><text x="452.00" y="239.40" font-size="6.00" text-anchor="middle" fill="#2e2e2e" textLength="2.67" lengthAdjust="spacingAndGlyphs">0</text><text x="459.90" y="239.40" font-size="6.00" text-anchor="middle" fill="#2e2e2e" textLength="6.81" lengthAdjust="spacingAndGlyphs">10<tspan dy="-2.28" font-size="3.30">3</tspan></text><text x="474.30" y="239.40" font-size="6.00" text-anchor="middle" fill="#2e2e2e" textLength="6.81" lengthAdjust="spacingAndGlyphs">10<tspan dy="-2.28" font-size="3.30">4</tspan></text><text x="486.40" y="239.40" font-size="6.00" text-anchor="middle" fill="#2e2e2e" textLength="6.81" lengthAdjust="spacingAndGlyphs">10<tspan dy="-2.28" font-size="3.30">5</tspan></text><text x="466.60" y="170.30" font-size="7.60" text-anchor="middle" fill="#2e2e2e" textLength="22.0" lengthAdjust="spacingAndGlyphs" >Tissue</text><text x="443.00" y="188.90" font-size="6.40" text-anchor="start" fill="#2e2e2e" textLength="17.9" lengthAdjust="spacingAndGlyphs" >97.4%</text><rect x="36.30" y="274.70" width="48.80" height="48.90" fill="#fff"/><rect x="95.80" y="274.70" width="49.30" height="48.90" fill="#fff"/><rect x="155.50" y="274.70" width="49.60" height="48.90" fill="#fff"/><polygon points="64.5,294.9 63.0,291.8 66.0,286.5 71.4,281.5 76.0,280.4 79.5,283.4 74.4,291.8 67.6,294.9" fill="none" stroke="#3a3a3a" stroke-width="0.60"/><ellipse cx="72.90" cy="286.60" rx="1.60" ry="1.10" transform="rotate(-20.0 72.90 286.60)" fill="none" stroke="#888" stroke-width="0.35"/><ellipse cx="56.00" cy="310.00" rx="6.20" ry="5.60" transform="rotate(0.0 56.00 310.00)" fill="#dedede" stroke="#999" stroke-width="0.35"/><ellipse cx="56.00" cy="310.00" rx="5.08" ry="4.59" transform="rotate(0.0 56.00 310.00)" fill="#c4c4c4" stroke="#999" stroke-width="0.35"/><ellipse cx="56.00" cy="310.00" rx="3.97" ry="3.58" transform="rotate(0.0 56.00 310.00)" fill="#9a9a9a" stroke="#999" stroke-width="0.35"/><ellipse cx="56.00" cy="310.00" rx="2.85" ry="2.58" transform="rotate(0.0 56.00 310.00)" fill="#6e6e6e" stroke="#999" stroke-width="0.35"/><ellipse cx="56.00" cy="310.00" rx="1.86" ry="1.68" transform="rotate(0.0 56.00 310.00)" fill="#8e8e8e" stroke="#999" stroke-width="0.35"/><ellipse cx="56.00" cy="310.00" rx="0.93" ry="0.84" transform="rotate(0.0 56.00 310.00)" fill="#bdbdbd" stroke="#999" stroke-width="0.35"/><polygon points="124.5,294.9 123.0,291.8 126.0,285.7 130.6,281.5 136.0,280.4 139.5,283.9 134.4,291.1 127.6,295.6" fill="none" stroke="#3a3a3a" stroke-width="0.60"/><path d="M122.6 299.2 C124.2 299.8 123.4 303.5 121.6 306.5 L120.2 309.2 L113.6 309.2 C115.5 306 119 301 122.6 299.2 Z" fill="#dcdcdc" stroke="#a8a8a8" stroke-width="0.4"/><path d="M121.9 301.2 C122.8 302 121.8 304.5 120.5 307 L118 308.5 L116.6 308.5 C117.5 306 119.8 302.5 121.9 301.2 Z" fill="#c8c8c8" stroke="#b0b0b0" stroke-width="0.3"/><ellipse cx="116.90" cy="310.80" rx="5.50" ry="3.90" transform="rotate(0.0 116.90 310.80)" fill="#d6d6d6" stroke="#999" stroke-width="0.35"/><ellipse cx="116.90" cy="310.80" rx="4.40" ry="3.12" transform="rotate(0.0 116.90 310.80)" fill="#b6b6b6" stroke="#999" stroke-width="0.35"/><ellipse cx="116.90" cy="310.80" rx="3.30" ry="2.34" transform="rotate(0.0 116.90 310.80)" fill="#8a8a8a" stroke="#999" stroke-width="0.35"/><ellipse cx="116.90" cy="310.80" rx="2.31" ry="1.64" transform="rotate(0.0 116.90 310.80)" fill="#6a6a6a" stroke="#999" stroke-width="0.35"/><ellipse cx="116.90" cy="310.80" rx="1.32" ry="0.94" transform="rotate(0.0 116.90 310.80)" fill="#9a9a9a" stroke="#999" stroke-width="0.35"/><ellipse cx="116.90" cy="310.80" rx="0.66" ry="0.47" transform="rotate(0.0 116.90 310.80)" fill="#c4c4c4" stroke="#999" stroke-width="0.35"/><polygon points="182.6,295.0 183.8,287.9 189.2,282.5 195.1,281.3 199.3,284.6 193.9,292.6 190.3,295.0" fill="none" stroke="#3a3a3a" stroke-width="0.60"/><ellipse cx="182.00" cy="288.50" rx="2.60" ry="2.60" transform="rotate(0.0 182.00 288.50)" fill="#e2e2e2" stroke="#d0d0d0" stroke-width="0.35"/><ellipse cx="182.00" cy="288.50" rx="1.56" ry="1.56" transform="rotate(0.0 182.00 288.50)" fill="#d2d2d2" stroke="#d0d0d0" stroke-width="0.35"/><ellipse cx="190.90" cy="287.30" rx="5.40" ry="2.50" transform="rotate(-45.0 190.90 287.30)" fill="#cfcfcf" stroke="#777" stroke-width="0.35"/><ellipse cx="190.90" cy="287.30" rx="4.32" ry="2.00" transform="rotate(-45.0 190.90 287.30)" fill="#a0a0a0" stroke="#777" stroke-width="0.35"/><ellipse cx="190.90" cy="287.30" rx="3.24" ry="1.50" transform="rotate(-45.0 190.90 287.30)" fill="#6a6a6a" stroke="#777" stroke-width="0.35"/><ellipse cx="190.90" cy="287.30" rx="2.27" ry="1.05" transform="rotate(-45.0 190.90 287.30)" fill="#3a3a3a" stroke="#777" stroke-width="0.35"/><ellipse cx="190.90" cy="287.30" rx="1.30" ry="0.60" transform="rotate(-45.0 190.90 287.30)" fill="#222" stroke="#777" stroke-width="0.35"/><path d="M176.9 301.4 C180.2 302.4 182.1 305 182.1 308.2 C182.1 311.6 179.6 313.5 176.7 313.5 C173.6 313.5 171.3 311.6 171.3 308.6 C171.3 305 173.4 302.2 176.9 301.4 Z" fill="#d8d8d8" stroke="#999" stroke-width="0.4"/><ellipse cx="176.70" cy="308.20" rx="4.30" ry="4.40" transform="rotate(0.0 176.70 308.20)" fill="#b8b8b8" stroke="#777" stroke-width="0.35"/><ellipse cx="176.70" cy="308.20" rx="3.27" ry="3.34" transform="rotate(0.0 176.70 308.20)" fill="#8a8a8a" stroke="#777" stroke-width="0.35"/><ellipse cx="176.70" cy="308.20" rx="2.24" ry="2.29" transform="rotate(0.0 176.70 308.20)" fill="#6c6c6c" stroke="#777" stroke-width="0.35"/><ellipse cx="176.70" cy="308.20" rx="1.29" ry="1.32" transform="rotate(0.0 176.70 308.20)" fill="#a8a8a8" stroke="#777" stroke-width="0.35"/><ellipse cx="176.70" cy="308.20" rx="0.64" ry="0.66" transform="rotate(0.0 176.70 308.20)" fill="#d8d8d8" stroke="#777" stroke-width="0.35"/><line x1="36.30" y1="274.70" x2="85.10" y2="274.70" stroke="#3a3a3a" stroke-width="1.40" /><line x1="85.10" y1="274.70" x2="85.10" y2="323.60" stroke="#1a1a1a" stroke-width="1.10" /><line x1="36.30" y1="274.20" x2="36.30" y2="324.10" stroke="#111" stroke-width="1.00" /><line x1="35.80" y1="323.60" x2="85.10" y2="323.60" stroke="#111" stroke-width="1.00" /><text x="33.40" y="281.70" font-size="6.00" text-anchor="end" fill="#2e2e2e" textLength="6.81" lengthAdjust="spacingAndGlyphs">10<tspan dy="-2.28" font-size="3.30">5</tspan></text><text x="33.40" y="291.10" font-size="6.00" text-anchor="end" fill="#2e2e2e" textLength="6.81" lengthAdjust="spacingAndGlyphs">10<tspan dy="-2.28" font-size="3.30">4</tspan></text><text x="33.40" y="306.00" font-size="6.00" text-anchor="end" fill="#2e2e2e" textLength="6.81" lengthAdjust="spacingAndGlyphs">10<tspan dy="-2.28" font-size="3.30">3</tspan></text><text x="33.40" y="314.40" font-size="6.00" text-anchor="end" fill="#2e2e2e" textLength="2.67" lengthAdjust="spacingAndGlyphs">0</text><text x="33.40" y="322.70" font-size="6.00" text-anchor="end" fill="#2e2e2e" textLength="8.40" lengthAdjust="spacingAndGlyphs">-10<tspan dy="-2.28" font-size="3.30">3</tspan></text><text x="38.90" y="335.50" font-size="6.00" text-anchor="middle" fill="#2e2e2e" textLength="8.40" lengthAdjust="spacingAndGlyphs">-10<tspan dy="-2.28" font-size="3.30">3</tspan></text><text x="47.80" y="335.50" font-size="6.00" text-anchor="middle" fill="#2e2e2e" textLength="2.67" lengthAdjust="spacingAndGlyphs">0</text><text x="56.80" y="335.50" font-size="6.00" text-anchor="middle" fill="#2e2e2e" textLength="6.81" lengthAdjust="spacingAndGlyphs">10<tspan dy="-2.28" font-size="3.30">3</tspan></text><text x="71.20" y="335.50" font-size="6.00" text-anchor="middle" fill="#2e2e2e" textLength="6.81" lengthAdjust="spacingAndGlyphs">10<tspan dy="-2.28" font-size="3.30">4</tspan></text><text x="83.00" y="335.50" font-size="6.00" text-anchor="middle" fill="#2e2e2e" textLength="6.81" lengthAdjust="spacingAndGlyphs">10<tspan dy="-2.28" font-size="3.30">5</tspan></text><text x="61.50" y="268.90" font-size="8.00" text-anchor="middle" fill="#2e2e2e" textLength="11.4" lengthAdjust="spacingAndGlyphs" >WB</text><text x="48.00" y="286.80" font-size="6.40" text-anchor="start" fill="#2e2e2e" textLength="14.2" lengthAdjust="spacingAndGlyphs" >5.2%</text><line x1="95.80" y1="274.70" x2="145.10" y2="274.70" stroke="#3a3a3a" stroke-width="1.40" /><line x1="145.10" y1="274.70" x2="145.10" y2="323.60" stroke="#1a1a1a" stroke-width="1.10" /><line x1="95.80" y1="274.20" x2="95.80" y2="324.10" stroke="#111" stroke-width="1.00" /><line x1="95.30" y1="323.60" x2="145.10" y2="323.60" stroke="#111" stroke-width="1.00" /><text x="98.40" y="335.50" font-size="6.00" text-anchor="middle" fill="#2e2e2e" textLength="8.40" lengthAdjust="spacingAndGlyphs">-10<tspan dy="-2.28" font-size="3.30">3</tspan></text><text x="107.30" y="335.50" font-size="6.00" text-anchor="middle" fill="#2e2e2e" textLength="2.67" lengthAdjust="spacingAndGlyphs">0</text><text x="116.30" y="335.50" font-size="6.00" text-anchor="middle" fill="#2e2e2e" textLength="6.81" lengthAdjust="spacingAndGlyphs">10<tspan dy="-2.28" font-size="3.30">3</tspan></text><text x="130.70" y="335.50" font-size="6.00" text-anchor="middle" fill="#2e2e2e" textLength="6.81" lengthAdjust="spacingAndGlyphs">10<tspan dy="-2.28" font-size="3.30">4</tspan></text><text x="142.50" y="335.50" font-size="6.00" text-anchor="middle" fill="#2e2e2e" textLength="6.81" lengthAdjust="spacingAndGlyphs">10<tspan dy="-2.28" font-size="3.30">5</tspan></text><text x="121.40" y="268.90" font-size="8.00" text-anchor="middle" fill="#2e2e2e" textLength="10.3" lengthAdjust="spacingAndGlyphs" >-ve</text><text x="106.50" y="286.80" font-size="6.40" text-anchor="start" fill="#2e2e2e" textLength="14.7" lengthAdjust="spacingAndGlyphs" >0.6%</text><line x1="155.50" y1="274.70" x2="205.10" y2="274.70" stroke="#3a3a3a" stroke-width="1.40" /><line x1="205.10" y1="274.70" x2="205.10" y2="323.60" stroke="#1a1a1a" stroke-width="1.10" /><line x1="155.50" y1="274.20" x2="155.50" y2="324.10" stroke="#111" stroke-width="1.00" /><line x1="155.00" y1="323.60" x2="205.10" y2="323.60" stroke="#111" stroke-width="1.00" /><text x="158.10" y="335.50" font-size="6.00" text-anchor="middle" fill="#2e2e2e" textLength="8.40" lengthAdjust="spacingAndGlyphs">-10<tspan dy="-2.28" font-size="3.30">3</tspan></text><text x="167.00" y="335.50" font-size="6.00" text-anchor="middle" fill="#2e2e2e" textLength="2.67" lengthAdjust="spacingAndGlyphs">0</text><text x="176.00" y="335.50" font-size="6.00" text-anchor="middle" fill="#2e2e2e" textLength="6.81" lengthAdjust="spacingAndGlyphs">10<tspan dy="-2.28" font-size="3.30">3</tspan></text><text x="190.40" y="335.50" font-size="6.00" text-anchor="middle" fill="#2e2e2e" textLength="6.81" lengthAdjust="spacingAndGlyphs">10<tspan dy="-2.28" font-size="3.30">4</tspan></text><text x="202.20" y="335.50" font-size="6.00" text-anchor="middle" fill="#2e2e2e" textLength="6.81" lengthAdjust="spacingAndGlyphs">10<tspan dy="-2.28" font-size="3.30">5</tspan></text><text x="181.50" y="268.90" font-size="8.00" text-anchor="middle" fill="#2e2e2e" textLength="11.8" lengthAdjust="spacingAndGlyphs" >+ve</text><text x="163.90" y="286.80" font-size="6.40" text-anchor="start" fill="#2e2e2e" textLength="13.0" lengthAdjust="spacingAndGlyphs" >31%</text><text x="120.30" y="347.00" font-size="8.20" text-anchor="middle" fill="#2e2e2e" textLength="22.5" lengthAdjust="spacingAndGlyphs" >CD66a</text><text transform="translate(14.00 298.30) rotate(-90)" x="0" y="3.02" font-size="8.40" text-anchor="middle" fill="#2e2e2e" textLength="19.5" lengthAdjust="spacingAndGlyphs">CD63</text><defs><filter id="bl" x="-50%" y="-50%" width="200%" height="200%"><feGaussianBlur stdDeviation="0.5"/></filter><filter id="bl2" x="-50%" y="-50%" width="200%" height="200%"><feGaussianBlur stdDeviation="1.2"/></filter></defs><rect x="242.4" y="272.4" width="72.6" height="53.7" fill="#e9e6de"/><rect x="316.9" y="272.4" width="71.3" height="53.7" fill="#e8e7e3"/><circle cx="249.0" cy="278.0" r="1.6" fill="#c8c4c0" filter="url(#bl2)"/><circle cx="281.0" cy="283.0" r="2.2" fill="#dcd8d0" filter="url(#bl2)"/><circle cx="296.0" cy="294.0" r="1.4" fill="#d4d0c8" filter="url(#bl2)"/><circle cx="301.0" cy="312.0" r="1.5" fill="#d8d4cc" filter="url(#bl2)"/><circle cx="252.0" cy="300.0" r="3.0" fill="#e2ddd0" filter="url(#bl2)"/><circle cx="368.0" cy="298.0" r="3.0" fill="#d6d6d6" filter="url(#bl2)"/><circle cx="379.0" cy="316.0" r="2.5" fill="#dcdcdc" filter="url(#bl2)"/><circle cx="330.0" cy="300.0" r="2.5" fill="#e0dfd8" filter="url(#bl2)"/><ellipse cx="265.8" cy="284.2" rx="3.3" ry="2.9" transform="rotate(20 265.8 284.2)" fill="#dcdce6" filter="url(#bl)"/><ellipse cx="269.6" cy="287.4" rx="3.1" ry="2.7" transform="rotate(20 269.6 287.4)" fill="#dcdce6" filter="url(#bl)"/><ellipse cx="265.8" cy="284.2" rx="2.6" ry="2.2" transform="rotate(20 265.8 284.2)" fill="#5553a6" filter="url(#bl)"/><ellipse cx="269.6" cy="287.4" rx="2.4" ry="2.0" transform="rotate(20 269.6 287.4)" fill="#5553a6" filter="url(#bl)"/><ellipse cx="266.3" cy="284.6" rx="0.7" ry="0.6" fill="#7c79bc" filter="url(#bl)"/><ellipse cx="269.2" cy="287.2" rx="0.6" ry="0.5" fill="#7c79bc" filter="url(#bl)"/><ellipse cx="273.3" cy="295.6" rx="2.6" ry="3.3" transform="rotate(25 273.3 295.6)" fill="#dcdce6" filter="url(#bl)"/><ellipse cx="275.4" cy="297.4" rx="2.7" ry="2.3" transform="rotate(0 275.4 297.4)" fill="#dcdce6" filter="url(#bl)"/><ellipse cx="273.3" cy="295.6" rx="1.9" ry="2.6" transform="rotate(25 273.3 295.6)" fill="#5a58aa" filter="url(#bl)"/><ellipse cx="275.4" cy="297.4" rx="2.0" ry="1.6" transform="rotate(0 275.4 297.4)" fill="#5a58aa" filter="url(#bl)"/><ellipse cx="274.4" cy="296.4" rx="0.5" ry="0.5" fill="#7c79bc" filter="url(#bl)"/><ellipse cx="282.1" cy="305.0" rx="3.6" ry="3.4" transform="rotate(0 282.1 305.0)" fill="#dcdce6" filter="url(#bl)"/><ellipse cx="282.1" cy="305.0" rx="2.9" ry="2.7" transform="rotate(0 282.1 305.0)" fill="#5856a8" filter="url(#bl)"/><ellipse cx="282.3" cy="305.2" rx="0.9" ry="0.7" fill="#7c79bc" filter="url(#bl)"/><ellipse cx="284.8" cy="314.0" rx="3.7" ry="3.5" transform="rotate(0 284.8 314.0)" fill="#dcdce6" filter="url(#bl)"/><ellipse cx="284.8" cy="314.0" rx="3.0" ry="2.8" transform="rotate(0 284.8 314.0)" fill="#5856a8" filter="url(#bl)"/><ellipse cx="285.0" cy="314.0" rx="0.9" ry="0.7" fill="#7c79bc" filter="url(#bl)"/><rect x="305.0" y="322.0" width="6.6" height="2.2" fill="#111"/><rect x="299.8" y="275.5" width="11.5" height="7" fill="#efeeea" opacity="0.6" filter="url(#bl)"/><text x="300.90" y="281.00" font-size="7.60" text-anchor="start" fill="#222" textLength="9.3" lengthAdjust="spacingAndGlyphs" >-ve</text><ellipse cx="327.2" cy="278.6" rx="4.0" ry="3.3" fill="#9d99d6" filter="url(#bl)"/><ellipse cx="327.0" cy="283.4" rx="2.4" ry="3.0" fill="#9d99d6" filter="url(#bl)"/><ellipse cx="325.8" cy="279.2" rx="1.6" ry="1.6" fill="#8580c8" filter="url(#bl)"/><circle cx="322.4" cy="277.9" r="1.0" fill="#3a3020" opacity="0.85"/><circle cx="331.4" cy="282.5" r="0.8" fill="#3a3020" opacity="0.85"/><circle cx="328.9" cy="274.0" r="0.6" fill="#3a3020" opacity="0.85"/><circle cx="323.8" cy="287.0" r="0.6" fill="#3a3020" opacity="0.85"/><circle cx="328.0" cy="286.4" r="0.5" fill="#3a3020" opacity="0.85"/><circle cx="350.6" cy="295.1" r="0.8" fill="#3a3020" opacity="0.85"/><circle cx="342.3" cy="320.5" r="0.9" fill="#3a3020" opacity="0.85"/><circle cx="350.2" cy="275.6" r="0.7" fill="#3a3020" opacity="0.85"/><circle cx="356.2" cy="277.5" r="0.5" fill="#3a3020" opacity="0.85"/><circle cx="377.5" cy="293.5" r="0.5" fill="#3a3020" opacity="0.85"/><circle cx="333.0" cy="289.0" r="0.5" fill="#3a3020" opacity="0.85"/><circle cx="337.0" cy="285.5" r="0.5" fill="#3a3020" opacity="0.85"/><circle cx="352.0" cy="303.8" r="0.5" fill="#3a3020" opacity="0.85"/><circle cx="346.5" cy="310.0" r="0.5" fill="#3a3020" opacity="0.85"/><circle cx="368.5" cy="277.0" r="0.5" fill="#3a3020" opacity="0.85"/><circle cx="341.0" cy="296.0" r="0.4" fill="#3a3020" opacity="0.85"/><ellipse cx="342.7" cy="281.6" rx="2.7" ry="3.1" transform="rotate(0 342.7 281.6)" fill="#dcdce6" filter="url(#bl)"/><ellipse cx="345.6" cy="280.4" rx="2.5" ry="2.9" transform="rotate(0 345.6 280.4)" fill="#dcdce6" filter="url(#bl)"/><ellipse cx="342.7" cy="281.6" rx="2.0" ry="2.4" transform="rotate(0 342.7 281.6)" fill="#4f4ca2" filter="url(#bl)"/><ellipse cx="345.6" cy="280.4" rx="1.8" ry="2.2" transform="rotate(0 345.6 280.4)" fill="#4f4ca2" filter="url(#bl)"/><ellipse cx="374.7" cy="285.5" rx="3.4" ry="3.3" transform="rotate(0 374.7 285.5)" fill="#dcdce6" filter="url(#bl)"/><ellipse cx="374.7" cy="285.5" rx="2.7" ry="2.6" transform="rotate(0 374.7 285.5)" fill="#4a489e" filter="url(#bl)"/><ellipse cx="348.2" cy="306.2" rx="2.9" ry="2.9" transform="rotate(0 348.2 306.2)" fill="#dcdce6" filter="url(#bl)"/><ellipse cx="350.4" cy="308.3" rx="2.7" ry="2.7" transform="rotate(0 350.4 308.3)" fill="#dcdce6" filter="url(#bl)"/><ellipse cx="347.6" cy="309.0" rx="2.3" ry="2.2" transform="rotate(0 347.6 309.0)" fill="#dcdce6" filter="url(#bl)"/><ellipse cx="348.2" cy="306.2" rx="2.2" ry="2.2" transform="rotate(0 348.2 306.2)" fill="#5c58aa" filter="url(#bl)"/><ellipse cx="350.4" cy="308.3" rx="2.0" ry="2.0" transform="rotate(0 350.4 308.3)" fill="#5c58aa" filter="url(#bl)"/><ellipse cx="347.6" cy="309.0" rx="1.6" ry="1.5" transform="rotate(0 347.6 309.0)" fill="#5c58aa" filter="url(#bl)"/><ellipse cx="348.8" cy="307.4" rx="0.6" ry="0.6" fill="#7c79bc" filter="url(#bl)"/><ellipse cx="360.4" cy="312.0" rx="3.1" ry="3.2" transform="rotate(0 360.4 312.0)" fill="#dcdce6" filter="url(#bl)"/><ellipse cx="363.6" cy="313.4" rx="3.1" ry="3.1" transform="rotate(0 363.6 313.4)" fill="#dcdce6" filter="url(#bl)"/><ellipse cx="361.5" cy="314.8" rx="2.5" ry="2.1" transform="rotate(0 361.5 314.8)" fill="#dcdce6" filter="url(#bl)"/><ellipse cx="360.4" cy="312.0" rx="2.4" ry="2.5" transform="rotate(0 360.4 312.0)" fill="#5c58aa" filter="url(#bl)"/><ellipse cx="363.6" cy="313.4" rx="2.4" ry="2.4" transform="rotate(0 363.6 313.4)" fill="#5c58aa" filter="url(#bl)"/><ellipse cx="361.5" cy="314.8" rx="1.8" ry="1.4" transform="rotate(0 361.5 314.8)" fill="#5c58aa" filter="url(#bl)"/><ellipse cx="361.8" cy="312.8" rx="0.7" ry="0.6" fill="#7c79bc" filter="url(#bl)"/><path d="M342.2 307.8 L340.0 311.5 L337.0 316.8 L334.6 321.2 L333.4 325.4 L335.8 325.6 L338.0 321.5 L340.4 317.5 L342.4 313 L343.4 308.4 Z" fill="#8e8ac8" filter="url(#bl)"/><path d="M340.6 311 L338.5 315 L339.4 315.4 L341.2 311.6 Z" fill="#6a66b4" filter="url(#bl)"/><rect x="370.4" y="275.5" width="13.6" height="7" fill="#ededea" opacity="0.6" filter="url(#bl)"/><text x="371.50" y="281.00" font-size="7.60" text-anchor="start" fill="#222" textLength="11.4" lengthAdjust="spacingAndGlyphs" >+ve</text><path d="M34.10 60.40L36.50 60.40M35.20 58.55L36.50 58.55M35.20 56.69L36.50 56.69M35.20 54.84L36.50 54.84M34.10 52.98L36.50 52.98M35.20 51.12L36.50 51.12M35.20 49.27L36.50 49.27M35.20 47.41L36.50 47.41M34.10 45.56L36.50 45.56M35.20 43.70L36.50 43.70M35.20 41.85L36.50 41.85M35.20 40.00L36.50 40.00M34.10 38.14L36.50 38.14M35.20 36.29L36.50 36.29M35.20 34.43L36.50 34.43M35.20 32.58L36.50 32.58M34.10 30.72L36.50 30.72M35.20 28.87L36.50 28.87M35.20 27.01L36.50 27.01M35.20 25.16L36.50 25.16M34.10 23.30L36.50 23.30M45.14 60.40L45.14 61.90M59.18 60.40L59.18 61.90M47.98 60.40L47.98 61.90M61.86 60.40L61.86 61.90M50.82 60.40L50.82 61.90M64.54 60.40L64.54 61.90M53.66 60.40L53.66 61.90M67.22 60.40L67.22 61.90M77.18 60.40L77.18 61.90M81.45 60.40L81.45 61.90M84.47 60.40L84.47 61.90M86.82 60.40L86.82 61.90M88.73 60.40L88.73 61.90M90.35 60.40L90.35 61.90M91.75 60.40L91.75 61.90M92.99 60.40L92.99 61.90M100.42 60.40L100.42 61.90M104.12 60.40L104.12 61.90M106.74 60.40L106.74 61.90M108.78 60.40L108.78 61.90M110.44 60.40L110.44 61.90M111.85 60.40L111.85 61.90M113.06 60.40L113.06 61.90M114.14 60.40L114.14 61.90M39.46 60.40L39.46 61.90M36.62 60.40L36.62 61.90M34.10 132.20L36.50 132.20M35.20 130.32L36.50 130.32M35.20 128.44L36.50 128.44M35.20 126.56L36.50 126.56M34.10 124.68L36.50 124.68M35.20 122.80L36.50 122.80M35.20 120.92L36.50 120.92M35.20 119.04L36.50 119.04M34.10 117.16L36.50 117.16M35.20 115.28L36.50 115.28M35.20 113.40L36.50 113.40M35.20 111.52L36.50 111.52M34.10 109.64L36.50 109.64M35.20 107.76L36.50 107.76M35.20 105.88L36.50 105.88M35.20 104.00L36.50 104.00M34.10 102.12L36.50 102.12M35.20 100.24L36.50 100.24M35.20 98.36L36.50 98.36M35.20 96.48L36.50 96.48M34.10 94.60L36.50 94.60M45.14 132.20L45.14 133.70M59.18 132.20L59.18 133.70M47.98 132.20L47.98 133.70M61.86 132.20L61.86 133.70M50.82 132.20L50.82 133.70M64.54 132.20L64.54 133.70M53.66 132.20L53.66 133.70M67.22 132.20L67.22 133.70M77.18 132.20L77.18 133.70M81.45 132.20L81.45 133.70M84.47 132.20L84.47 133.70M86.82 132.20L86.82 133.70M88.73 132.20L88.73 133.70M90.35 132.20L90.35 133.70M91.75 132.20L91.75 133.70M92.99 132.20L92.99 133.70M100.42 132.20L100.42 133.70M104.12 132.20L104.12 133.70M106.74 132.20L106.74 133.70M108.78 132.20L108.78 133.70M110.44 132.20L110.44 133.70M111.85 132.20L111.85 133.70M113.06 132.20L113.06 133.70M114.14 132.20L114.14 133.70M39.46 132.20L39.46 133.70M36.62 132.20L36.62 133.70M132.10 60.40L134.50 60.40M133.20 58.55L134.50 58.55M133.20 56.69L134.50 56.69M133.20 54.84L134.50 54.84M132.10 52.98L134.50 52.98M133.20 51.12L134.50 51.12M133.20 49.27L134.50 49.27M133.20 47.41L134.50 47.41M132.10 45.56L134.50 45.56M133.20 43.70L134.50 43.70M133.20 41.85L134.50 41.85M133.20 40.00L134.50 40.00M132.10 38.14L134.50 38.14M133.20 36.29L134.50 36.29M133.20 34.43L134.50 34.43M133.20 32.58L134.50 32.58M132.10 30.72L134.50 30.72M133.20 28.87L134.50 28.87M133.20 27.01L134.50 27.01M133.20 25.16L134.50 25.16M132.10 23.30L134.50 23.30M143.14 60.40L143.14 61.90M157.18 60.40L157.18 61.90M145.98 60.40L145.98 61.90M159.86 60.40L159.86 61.90M148.82 60.40L148.82 61.90M162.54 60.40L162.54 61.90M151.66 60.40L151.66 61.90M165.22 60.40L165.22 61.90M175.18 60.40L175.18 61.90M179.45 60.40L179.45 61.90M182.47 60.40L182.47 61.90M184.82 60.40L184.82 61.90M186.73 60.40L186.73 61.90M188.35 60.40L188.35 61.90M189.75 60.40L189.75 61.90M190.99 60.40L190.99 61.90M198.42 60.40L198.42 61.90M202.12 60.40L202.12 61.90M204.74 60.40L204.74 61.90M206.78 60.40L206.78 61.90M208.44 60.40L208.44 61.90M209.85 60.40L209.85 61.90M211.06 60.40L211.06 61.90M212.14 60.40L212.14 61.90M137.46 60.40L137.46 61.90M134.62 60.40L134.62 61.90M132.10 132.20L134.50 132.20M133.20 130.32L134.50 130.32M133.20 128.44L134.50 128.44M133.20 126.56L134.50 126.56M132.10 124.68L134.50 124.68M133.20 122.80L134.50 122.80M133.20 120.92L134.50 120.92M133.20 119.04L134.50 119.04M132.10 117.16L134.50 117.16M133.20 115.28L134.50 115.28M133.20 113.40L134.50 113.40M133.20 111.52L134.50 111.52M132.10 109.64L134.50 109.64M133.20 107.76L134.50 107.76M133.20 105.88L134.50 105.88M133.20 104.00L134.50 104.00M132.10 102.12L134.50 102.12M133.20 100.24L134.50 100.24M133.20 98.36L134.50 98.36M133.20 96.48L134.50 96.48M132.10 94.60L134.50 94.60M143.14 132.20L143.14 133.70M157.18 132.20L157.18 133.70M145.98 132.20L145.98 133.70M159.86 132.20L159.86 133.70M148.82 132.20L148.82 133.70M162.54 132.20L162.54 133.70M151.66 132.20L151.66 133.70M165.22 132.20L165.22 133.70M175.18 132.20L175.18 133.70M179.45 132.20L179.45 133.70M182.47 132.20L182.47 133.70M184.82 132.20L184.82 133.70M186.73 132.20L186.73 133.70M188.35 132.20L188.35 133.70M189.75 132.20L189.75 133.70M190.99 132.20L190.99 133.70M198.42 132.20L198.42 133.70M202.12 132.20L202.12 133.70M204.74 132.20L204.74 133.70M206.78 132.20L206.78 133.70M208.44 132.20L208.44 133.70M209.85 132.20L209.85 133.70M211.06 132.20L211.06 133.70M212.14 132.20L212.14 133.70M137.46 132.20L137.46 133.70M134.62 132.20L134.62 133.70M230.90 60.40L233.30 60.40M232.00 58.55L233.30 58.55M232.00 56.69L233.30 56.69M232.00 54.84L233.30 54.84M230.90 52.98L233.30 52.98M232.00 51.12L233.30 51.12M232.00 49.27L233.30 49.27M232.00 47.41L233.30 47.41M230.90 45.56L233.30 45.56M232.00 43.70L233.30 43.70M232.00 41.85L233.30 41.85M232.00 40.00L233.30 40.00M230.90 38.14L233.30 38.14M232.00 36.29L233.30 36.29M232.00 34.43L233.30 34.43M232.00 32.58L233.30 32.58M230.90 30.72L233.30 30.72M232.00 28.87L233.30 28.87M232.00 27.01L233.30 27.01M232.00 25.16L233.30 25.16M230.90 23.30L233.30 23.30M241.94 60.40L241.94 61.90M255.98 60.40L255.98 61.90M244.78 60.40L244.78 61.90M258.66 60.40L258.66 61.90M247.62 60.40L247.62 61.90M261.34 60.40L261.34 61.90M250.46 60.40L250.46 61.90M264.02 60.40L264.02 61.90M273.98 60.40L273.98 61.90M278.25 60.40L278.25 61.90M281.27 60.40L281.27 61.90M283.62 60.40L283.62 61.90M285.53 60.40L285.53 61.90M287.15 60.40L287.15 61.90M288.55 60.40L288.55 61.90M289.79 60.40L289.79 61.90M297.22 60.40L297.22 61.90M300.92 60.40L300.92 61.90M303.54 60.40L303.54 61.90M305.58 60.40L305.58 61.90M307.24 60.40L307.24 61.90M308.65 60.40L308.65 61.90M309.86 60.40L309.86 61.90M310.94 60.40L310.94 61.90M236.26 60.40L236.26 61.90M233.42 60.40L233.42 61.90M230.90 132.20L233.30 132.20M232.00 130.32L233.30 130.32M232.00 128.44L233.30 128.44M232.00 126.56L233.30 126.56M230.90 124.68L233.30 124.68M232.00 122.80L233.30 122.80M232.00 120.92L233.30 120.92M232.00 119.04L233.30 119.04M230.90 117.16L233.30 117.16M232.00 115.28L233.30 115.28M232.00 113.40L233.30 113.40M232.00 111.52L233.30 111.52M230.90 109.64L233.30 109.64M232.00 107.76L233.30 107.76M232.00 105.88L233.30 105.88M232.00 104.00L233.30 104.00M230.90 102.12L233.30 102.12M232.00 100.24L233.30 100.24M232.00 98.36L233.30 98.36M232.00 96.48L233.30 96.48M230.90 94.60L233.30 94.60M241.94 132.20L241.94 133.70M255.98 132.20L255.98 133.70M244.78 132.20L244.78 133.70M258.66 132.20L258.66 133.70M247.62 132.20L247.62 133.70M261.34 132.20L261.34 133.70M250.46 132.20L250.46 133.70M264.02 132.20L264.02 133.70M273.98 132.20L273.98 133.70M278.25 132.20L278.25 133.70M281.27 132.20L281.27 133.70M283.62 132.20L283.62 133.70M285.53 132.20L285.53 133.70M287.15 132.20L287.15 133.70M288.55 132.20L288.55 133.70M289.79 132.20L289.79 133.70M297.22 132.20L297.22 133.70M300.92 132.20L300.92 133.70M303.54 132.20L303.54 133.70M305.58 132.20L305.58 133.70M307.24 132.20L307.24 133.70M308.65 132.20L308.65 133.70M309.86 132.20L309.86 133.70M310.94 132.20L310.94 133.70M236.26 132.20L236.26 133.70M233.42 132.20L233.42 133.70M329.80 60.40L332.20 60.40M330.90 58.55L332.20 58.55M330.90 56.69L332.20 56.69M330.90 54.84L332.20 54.84M329.80 52.98L332.20 52.98M330.90 51.12L332.20 51.12M330.90 49.27L332.20 49.27M330.90 47.41L332.20 47.41M329.80 45.56L332.20 45.56M330.90 43.70L332.20 43.70M330.90 41.85L332.20 41.85M330.90 40.00L332.20 40.00M329.80 38.14L332.20 38.14M330.90 36.29L332.20 36.29M330.90 34.43L332.20 34.43M330.90 32.58L332.20 32.58M329.80 30.72L332.20 30.72M330.90 28.87L332.20 28.87M330.90 27.01L332.20 27.01M330.90 25.16L332.20 25.16M329.80 23.30L332.20 23.30M340.84 60.40L340.84 61.90M354.88 60.40L354.88 61.90M343.68 60.40L343.68 61.90M357.56 60.40L357.56 61.90M346.52 60.40L346.52 61.90M360.24 60.40L360.24 61.90M349.36 60.40L349.36 61.90M362.92 60.40L362.92 61.90M372.88 60.40L372.88 61.90M377.15 60.40L377.15 61.90M380.17 60.40L380.17 61.90M382.52 60.40L382.52 61.90M384.43 60.40L384.43 61.90M386.05 60.40L386.05 61.90M387.45 60.40L387.45 61.90M388.69 60.40L388.69 61.90M396.12 60.40L396.12 61.90M399.82 60.40L399.82 61.90M402.44 60.40L402.44 61.90M404.48 60.40L404.48 61.90M406.14 60.40L406.14 61.90M407.55 60.40L407.55 61.90M408.76 60.40L408.76 61.90M409.84 60.40L409.84 61.90M335.16 60.40L335.16 61.90M332.32 60.40L332.32 61.90M329.80 132.20L332.20 132.20M330.90 130.32L332.20 130.32M330.90 128.44L332.20 128.44M330.90 126.56L332.20 126.56M329.80 124.68L332.20 124.68M330.90 122.80L332.20 122.80M330.90 120.92L332.20 120.92M330.90 119.04L332.20 119.04M329.80 117.16L332.20 117.16M330.90 115.28L332.20 115.28M330.90 113.40L332.20 113.40M330.90 111.52L332.20 111.52M329.80 109.64L332.20 109.64M330.90 107.76L332.20 107.76M330.90 105.88L332.20 105.88M330.90 104.00L332.20 104.00M329.80 102.12L332.20 102.12M330.90 100.24L332.20 100.24M330.90 98.36L332.20 98.36M330.90 96.48L332.20 96.48M329.80 94.60L332.20 94.60M340.84 132.20L340.84 133.70M354.88 132.20L354.88 133.70M343.68 132.20L343.68 133.70M357.56 132.20L357.56 133.70M346.52 132.20L346.52 133.70M360.24 132.20L360.24 133.70M349.36 132.20L349.36 133.70M362.92 132.20L362.92 133.70M372.88 132.20L372.88 133.70M377.15 132.20L377.15 133.70M380.17 132.20L380.17 133.70M382.52 132.20L382.52 133.70M384.43 132.20L384.43 133.70M386.05 132.20L386.05 133.70M387.45 132.20L387.45 133.70M388.69 132.20L388.69 133.70M396.12 132.20L396.12 133.70M399.82 132.20L399.82 133.70M402.44 132.20L402.44 133.70M404.48 132.20L404.48 133.70M406.14 132.20L406.14 133.70M407.55 132.20L407.55 133.70M408.76 132.20L408.76 133.70M409.84 132.20L409.84 133.70M335.16 132.20L335.16 133.70M332.32 132.20L332.32 133.70M34.10 227.00L36.50 227.00M35.20 225.10L36.50 225.10M35.20 223.20L36.50 223.20M35.20 221.30L36.50 221.30M34.10 219.40L36.50 219.40M35.20 217.50L36.50 217.50M35.20 215.60L36.50 215.60M35.20 213.70L36.50 213.70M34.10 211.80L36.50 211.80M35.20 209.90L36.50 209.90M35.20 208.00L36.50 208.00M35.20 206.10L36.50 206.10M34.10 204.20L36.50 204.20M35.20 202.30L36.50 202.30M35.20 200.40L36.50 200.40M35.20 198.50L36.50 198.50M34.10 196.60L36.50 196.60M35.20 194.70L36.50 194.70M35.20 192.80L36.50 192.80M35.20 190.90L36.50 190.90M34.10 189.00L36.50 189.00M45.14 227.00L45.14 228.50M59.66 227.00L59.66 228.50M47.98 227.00L47.98 228.50M62.82 227.00L62.82 228.50M50.82 227.00L50.82 228.50M65.98 227.00L65.98 228.50M53.66 227.00L53.66 228.50M69.14 227.00L69.14 228.50M79.83 227.00L79.83 228.50M84.23 227.00L84.23 228.50M87.35 227.00L87.35 228.50M89.77 227.00L89.77 228.50M91.75 227.00L91.75 228.50M93.43 227.00L93.43 228.50M94.88 227.00L94.88 228.50M96.16 227.00L96.16 228.50M103.38 227.00L103.38 228.50M106.94 227.00L106.94 228.50M109.46 227.00L109.46 228.50M111.42 227.00L111.42 228.50M113.02 227.00L113.02 228.50M114.37 227.00L114.37 228.50M115.54 227.00L115.54 228.50M116.58 227.00L116.58 228.50M39.46 227.00L39.46 228.50M36.62 227.00L36.62 228.50M132.40 227.00L134.80 227.00M133.50 225.10L134.80 225.10M133.50 223.20L134.80 223.20M133.50 221.30L134.80 221.30M132.40 219.40L134.80 219.40M133.50 217.50L134.80 217.50M133.50 215.60L134.80 215.60M133.50 213.70L134.80 213.70M132.40 211.80L134.80 211.80M133.50 209.90L134.80 209.90M133.50 208.00L134.80 208.00M133.50 206.10L134.80 206.10M132.40 204.20L134.80 204.20M133.50 202.30L134.80 202.30M133.50 200.40L134.80 200.40M133.50 198.50L134.80 198.50M132.40 196.60L134.80 196.60M133.50 194.70L134.80 194.70M133.50 192.80L134.80 192.80M133.50 190.90L134.80 190.90M132.40 189.00L134.80 189.00M143.44 227.00L143.44 228.50M157.96 227.00L157.96 228.50M146.28 227.00L146.28 228.50M161.12 227.00L161.12 228.50M149.12 227.00L149.12 228.50M164.28 227.00L164.28 228.50M151.96 227.00L151.96 228.50M167.44 227.00L167.44 228.50M178.13 227.00L178.13 228.50M182.53 227.00L182.53 228.50M185.65 227.00L185.65 228.50M188.07 227.00L188.07 228.50M190.05 227.00L190.05 228.50M191.73 227.00L191.73 228.50M193.18 227.00L193.18 228.50M194.46 227.00L194.46 228.50M201.68 227.00L201.68 228.50M205.24 227.00L205.24 228.50M207.76 227.00L207.76 228.50M209.72 227.00L209.72 228.50M211.32 227.00L211.32 228.50M212.67 227.00L212.67 228.50M213.84 227.00L213.84 228.50M214.88 227.00L214.88 228.50M137.76 227.00L137.76 228.50M134.92 227.00L134.92 228.50" stroke="#111" stroke-width="0.60" fill="none"/><path d="M42.30 60.40L42.30 63.00M56.50 60.40L56.50 63.00M69.90 60.40L69.90 63.00M94.10 60.40L94.10 63.00M115.10 60.40L115.10 63.00M42.30 132.20L42.30 134.80M56.50 132.20L56.50 134.80M69.90 132.20L69.90 134.80M94.10 132.20L94.10 134.80M115.10 132.20L115.10 134.80M140.30 60.40L140.30 63.00M154.50 60.40L154.50 63.00M167.90 60.40L167.90 63.00M192.10 60.40L192.10 63.00M213.10 60.40L213.10 63.00M140.30 132.20L140.30 134.80M154.50 132.20L154.50 134.80M167.90 132.20L167.90 134.80M192.10 132.20L192.10 134.80M213.10 132.20L213.10 134.80M239.10 60.40L239.10 63.00M253.30 60.40L253.30 63.00M266.70 60.40L266.70 63.00M290.90 60.40L290.90 63.00M311.90 60.40L311.90 63.00M239.10 132.20L239.10 134.80M253.30 132.20L253.30 134.80M266.70 132.20L266.70 134.80M290.90 132.20L290.90 134.80M311.90 132.20L311.90 134.80M338.00 60.40L338.00 63.00M352.20 60.40L352.20 63.00M365.60 60.40L365.60 63.00M389.80 60.40L389.80 63.00M410.80 60.40L410.80 63.00M338.00 132.20L338.00 134.80M352.20 132.20L352.20 134.80M365.60 132.20L365.60 134.80M389.80 132.20L389.80 134.80M410.80 132.20L410.80 134.80M42.30 227.00L42.30 229.60M56.50 227.00L56.50 229.60M72.30 227.00L72.30 229.60M97.30 227.00L97.30 229.60M117.50 227.00L117.50 229.60M140.60 227.00L140.60 229.60M154.80 227.00L154.80 229.60M170.60 227.00L170.60 229.60M195.60 227.00L195.60 229.60M215.80 227.00L215.80 229.60" stroke="#111" stroke-width="0.80" fill="none"/><path d="M52.50 60.40L52.50 61.85M53.02 60.40L53.02 62.84M53.50 60.40L53.50 61.97M54.04 60.40L54.04 61.29M54.54 60.40L54.54 62.22M55.16 60.40L55.16 61.10M55.57 60.40L55.57 61.09M56.20 60.40L56.20 62.36M56.49 60.40L56.49 62.96M57.20 60.40L57.20 62.27M57.74 60.40L57.74 61.23M58.02 60.40L58.02 62.01M58.32 60.40L58.32 61.30M52.50 132.20L52.50 133.22M52.86 132.20L52.86 134.25M53.55 132.20L53.55 133.11M54.25 132.20L54.25 134.55M54.79 132.20L54.79 133.59M55.10 132.20L55.10 132.78M55.81 132.20L55.81 133.20M56.39 132.20L56.39 133.24M57.04 132.20L57.04 133.95M57.44 132.20L57.44 133.07M58.03 132.20L58.03 132.84M58.40 132.20L58.40 133.87M150.50 60.40L150.50 61.83M151.17 60.40L151.17 61.59M151.74 60.40L151.74 61.32M152.20 60.40L152.20 62.59M152.89 60.40L152.89 62.75M153.33 60.40L153.33 62.12M153.74 60.40L153.74 61.19M154.24 60.40L154.24 62.66M154.89 60.40L154.89 62.39M155.58 60.40L155.58 61.48M155.93 60.40L155.93 61.85M156.32 60.40L156.32 61.35M150.50 132.20L150.50 133.40M151.12 132.20L151.12 133.00M151.46 132.20L151.46 133.78M152.06 132.20L152.06 134.46M152.64 132.20L152.64 134.69M153.13 132.20L153.13 134.69M153.44 132.20L153.44 133.16M153.94 132.20L153.94 133.31M154.54 132.20L154.54 134.04M155.05 132.20L155.05 134.47M155.57 132.20L155.57 133.35M156.01 132.20L156.01 134.48M249.30 60.40L249.30 62.93M249.62 60.40L249.62 61.96M250.23 60.40L250.23 61.96M250.81 60.40L250.81 61.30M251.11 60.40L251.11 61.12M251.40 60.40L251.40 62.06M251.90 60.40L251.90 62.09M252.24 60.40L252.24 61.29M252.60 60.40L252.60 62.66M253.32 60.40L253.32 62.85M253.63 60.40L253.63 61.03M254.33 60.40L254.33 61.87M254.94 60.40L254.94 61.59M249.30 132.20L249.30 133.06M249.79 132.20L249.79 133.98M250.09 132.20L250.09 134.69M250.55 132.20L250.55 133.81M251.09 132.20L251.09 133.47M251.49 132.20L251.49 134.08M252.01 132.20L252.01 133.30M252.60 132.20L252.60 133.32M252.88 132.20L252.88 133.21M253.17 132.20L253.17 133.03M253.78 132.20L253.78 133.52M254.45 132.20L254.45 134.27M254.74 132.20L254.74 134.78M348.20 60.40L348.20 61.10M348.86 60.40L348.86 61.06M349.17 60.40L349.17 62.08M349.66 60.40L349.66 62.34M350.06 60.40L350.06 62.53M350.37 60.40L350.37 61.35M350.94 60.40L350.94 61.07M351.34 60.40L351.34 62.42M351.93 60.40L351.93 61.49M352.26 60.40L352.26 61.65M352.86 60.40L352.86 61.67M353.18 60.40L353.18 62.39M353.71 60.40L353.71 62.83M348.20 132.20L348.20 132.82M348.61 132.20L348.61 132.94M349.17 132.20L349.17 134.33M349.52 132.20L349.52 132.83M350.00 132.20L350.00 133.93M350.68 132.20L350.68 132.78M351.00 132.20L351.00 133.09M351.36 132.20L351.36 133.19M351.96 132.20L351.96 133.95M352.33 132.20L352.33 133.09M352.72 132.20L352.72 133.06M353.33 132.20L353.33 133.35M353.85 132.20L353.85 134.42M52.50 227.00L52.50 227.52M53.22 227.00L53.22 229.18M53.58 227.00L53.58 228.79M53.98 227.00L53.98 228.29M54.49 227.00L54.49 228.13M54.91 227.00L54.91 228.32M55.48 227.00L55.48 228.04M55.84 227.00L55.84 229.04M56.26 227.00L56.26 229.48M56.79 227.00L56.79 229.02M57.21 227.00L57.21 229.24M57.52 227.00L57.52 227.80M57.83 227.00L57.83 228.92M58.42 227.00L58.42 227.88M150.80 227.00L150.80 228.65M151.10 227.00L151.10 227.57M151.46 227.00L151.46 229.57M152.15 227.00L152.15 228.88M152.56 227.00L152.56 228.91M153.16 227.00L153.16 228.30M153.69 227.00L153.69 229.19M153.97 227.00L153.97 227.92M154.45 227.00L154.45 227.80M154.90 227.00L154.90 228.70M155.24 227.00L155.24 228.59M155.63 227.00L155.63 228.69M156.05 227.00L156.05 228.85M156.34 227.00L156.34 228.91M156.68 227.00L156.68 229.51" stroke="#151515" stroke-width="0.70" fill="none"/><path d="M42.50 60.40L42.50 60.62M43.78 60.40L43.78 60.95M45.51 60.40L45.51 61.02M47.00 60.40L47.00 61.00M48.51 60.40L48.51 60.97M49.56 60.40L49.56 61.40M51.48 60.40L51.48 61.27M53.05 60.40L53.05 60.85M54.04 60.40L54.04 60.83M54.85 60.40L54.85 61.21M56.05 60.40L56.05 61.28M57.23 60.40L57.23 61.37M58.97 60.40L58.97 60.60M59.94 60.40L59.94 61.33M61.23 60.40L61.23 61.38M62.42 60.40L62.42 60.66M63.90 60.40L63.90 61.22M64.94 60.40L64.94 60.67M66.06 60.40L66.06 61.37M67.69 60.40L67.69 60.69M68.71 60.40L68.71 60.68M69.50 60.40L69.50 61.24M70.43 60.40L70.43 61.05M71.69 60.40L71.69 60.75M73.29 60.40L73.29 60.70M74.78 60.40L74.78 60.69M76.00 60.40L76.00 60.77M77.05 60.40L77.05 61.38M78.73 60.40L78.73 60.84M80.51 60.40L80.51 60.77M81.71 60.40L81.71 61.28M83.20 60.40L83.20 60.68M85.10 60.40L85.10 60.77M86.13 60.40L86.13 61.22M87.25 60.40L87.25 60.84M88.06 60.40L88.06 60.67M89.48 60.40L89.48 60.79M90.92 60.40L90.92 60.90M92.18 60.40L92.18 61.37M93.48 60.40L93.48 61.06M95.24 60.40L95.24 60.75M96.15 60.40L96.15 61.33M42.50 132.20L42.50 132.89M43.56 132.20L43.56 133.13M44.52 132.20L44.52 132.41M45.56 132.20L45.56 132.76M46.36 132.20L46.36 132.54M47.52 132.20L47.52 132.86M48.40 132.20L48.40 132.69M50.19 132.20L50.19 133.18M51.69 132.20L51.69 132.95M53.12 132.20L53.12 132.51M53.88 132.20L53.88 132.41M55.69 132.20L55.69 132.96M57.57 132.20L57.57 132.42M59.05 132.20L59.05 132.79M60.65 132.20L60.65 132.66M62.56 132.20L62.56 132.46M63.94 132.20L63.94 132.99M65.74 132.20L65.74 132.99M67.30 132.20L67.30 133.03M69.12 132.20L69.12 132.68M70.66 132.20L70.66 133.12M72.43 132.20L72.43 132.73M74.10 132.20L74.10 133.09M75.51 132.20L75.51 132.90M76.69 132.20L76.69 132.87M78.14 132.20L78.14 132.46M79.62 132.20L79.62 133.19M81.40 132.20L81.40 132.98M82.58 132.20L82.58 132.99M84.00 132.20L84.00 132.75M85.73 132.20L85.73 132.47M87.35 132.20L87.35 132.42M88.79 132.20L88.79 132.78M89.79 132.20L89.79 132.96M91.10 132.20L91.10 132.89M92.93 132.20L92.93 132.60M93.66 132.20L93.66 132.64M95.19 132.20L95.19 132.56M96.12 132.20L96.12 133.12M140.50 60.40L140.50 61.10M141.81 60.40L141.81 60.85M143.54 60.40L143.54 61.39M144.80 60.40L144.80 60.66M145.56 60.40L145.56 61.30M146.33 60.40L146.33 61.17M147.73 60.40L147.73 60.85M149.40 60.40L149.40 60.62M150.29 60.40L150.29 60.96M151.04 60.40L151.04 61.26M152.04 60.40L152.04 60.71M152.82 60.40L152.82 61.10M154.07 60.40L154.07 61.10M155.58 60.40L155.58 61.25M157.45 60.40L157.45 61.15M158.41 60.40L158.41 60.98M159.34 60.40L159.34 60.61M160.63 60.40L160.63 61.17M161.57 60.40L161.57 60.82M162.70 60.40L162.70 61.16M164.05 60.40L164.05 61.09M165.67 60.40L165.67 60.91M167.34 60.40L167.34 61.32M168.17 60.40L168.17 61.35M169.75 60.40L169.75 60.70M171.02 60.40L171.02 61.10M172.83 60.40L172.83 60.90M174.23 60.40L174.23 61.30M175.91 60.40L175.91 61.36M177.19 60.40L177.19 61.12M178.15 60.40L178.15 61.18M179.85 60.40L179.85 61.11M181.43 60.40L181.43 60.77M183.23 60.40L183.23 61.38M185.13 60.40L185.13 61.03M186.80 60.40L186.80 60.86M188.61 60.40L188.61 61.28M189.75 60.40L189.75 60.67M191.00 60.40L191.00 61.04M192.64 60.40L192.64 60.99M193.39 60.40L193.39 61.25M194.19 60.40L194.19 61.24M140.50 132.20L140.50 132.57M142.24 132.20L142.24 133.17M143.59 132.20L143.59 132.86M144.55 132.20L144.55 132.83M145.87 132.20L145.87 132.88M146.63 132.20L146.63 133.18M147.97 132.20L147.97 132.72M149.65 132.20L149.65 132.85M150.96 132.20L150.96 132.95M151.76 132.20L151.76 132.83M152.97 132.20L152.97 133.17M154.80 132.20L154.80 132.62M156.09 132.20L156.09 132.50M157.33 132.20L157.33 133.05M159.13 132.20L159.13 132.78M160.23 132.20L160.23 132.55M161.69 132.20L161.69 133.14M162.57 132.20L162.57 133.02M163.32 132.20L163.32 132.56M164.31 132.20L164.31 132.95M165.41 132.20L165.41 132.68M166.88 132.20L166.88 132.48M168.48 132.20L168.48 132.50M169.81 132.20L169.81 132.60M170.77 132.20L170.77 132.82M172.01 132.20L172.01 132.70M173.23 132.20L173.23 132.82M174.14 132.20L174.14 132.56M175.61 132.20L175.61 132.91M176.97 132.20L176.97 133.08M178.42 132.20L178.42 133.09M179.42 132.20L179.42 132.99M181.12 132.20L181.12 133.12M182.22 132.20L182.22 132.65M184.04 132.20L184.04 132.57M185.96 132.20L185.96 133.11M186.84 132.20L186.84 132.59M188.43 132.20L188.43 132.61M189.27 132.20L189.27 133.07M190.50 132.20L190.50 133.03M191.37 132.20L191.37 132.72M192.91 132.20L192.91 132.41M193.87 132.20L193.87 132.95M239.30 60.40L239.30 61.01M240.54 60.40L240.54 61.08M241.27 60.40L241.27 61.16M243.01 60.40L243.01 60.75M244.27 60.40L244.27 61.19M245.48 60.40L245.48 60.76M246.39 60.40L246.39 61.01M247.13 60.40L247.13 61.31M248.81 60.40L248.81 61.16M250.57 60.40L250.57 61.10M251.77 60.40L251.77 61.08M253.10 60.40L253.10 61.39M254.78 60.40L254.78 60.81M256.60 60.40L256.60 61.20M258.25 60.40L258.25 61.25M259.46 60.40L259.46 61.32M261.23 60.40L261.23 61.16M262.87 60.40L262.87 61.21M264.08 60.40L264.08 61.18M264.89 60.40L264.89 60.87M266.17 60.40L266.17 60.61M267.32 60.40L267.32 61.11M268.78 60.40L268.78 60.79M270.64 60.40L270.64 61.13M271.76 60.40L271.76 61.13M273.17 60.40L273.17 61.03M274.35 60.40L274.35 61.40M275.84 60.40L275.84 61.16M277.48 60.40L277.48 61.38M278.23 60.40L278.23 61.09M279.83 60.40L279.83 60.81M281.03 60.40L281.03 60.64M281.99 60.40L281.99 60.90M282.83 60.40L282.83 60.80M284.63 60.40L284.63 61.04M285.96 60.40L285.96 61.37M287.37 60.40L287.37 61.40M288.85 60.40L288.85 61.25M289.66 60.40L289.66 61.08M291.29 60.40L291.29 60.64M293.13 60.40L293.13 60.73M239.30 132.20L239.30 132.46M241.11 132.20L241.11 132.74M242.40 132.20L242.40 133.18M243.41 132.20L243.41 132.82M245.26 132.20L245.26 132.98M246.54 132.20L246.54 133.18M248.24 132.20L248.24 132.88M249.10 132.20L249.10 132.90M250.36 132.20L250.36 132.56M251.15 132.20L251.15 132.82M252.02 132.20L252.02 132.75M253.54 132.20L253.54 132.76M254.57 132.20L254.57 132.87M255.80 132.20L255.80 133.02M257.15 132.20L257.15 133.20M259.02 132.20L259.02 132.99M260.02 132.20L260.02 132.49M261.81 132.20L261.81 133.03M263.28 132.20L263.28 132.69M264.33 132.20L264.33 132.95M265.73 132.20L265.73 132.87M267.21 132.20L267.21 133.00M268.15 132.20L268.15 132.60M270.05 132.20L270.05 133.13M271.82 132.20L271.82 132.43M272.62 132.20L272.62 132.62M273.85 132.20L273.85 132.90M274.69 132.20L274.69 132.83M275.50 132.20L275.50 132.47M277.03 132.20L277.03 132.84M278.51 132.20L278.51 132.70M279.80 132.20L279.80 132.57M280.93 132.20L280.93 133.00M282.66 132.20L282.66 132.46M283.52 132.20L283.52 133.05M284.99 132.20L284.99 133.02M285.97 132.20L285.97 132.74M287.00 132.20L287.00 133.05M288.16 132.20L288.16 132.92M290.07 132.20L290.07 132.66M291.44 132.20L291.44 133.00M293.27 132.20L293.27 132.74M338.20 60.40L338.20 61.33M339.45 60.40L339.45 61.24M340.53 60.40L340.53 60.85M341.73 60.40L341.73 61.35M343.52 60.40L343.52 60.80M344.68 60.40L344.68 60.89M345.83 60.40L345.83 60.92M347.02 60.40L347.02 60.76M348.42 60.40L348.42 61.24M349.78 60.40L349.78 61.27M351.18 60.40L351.18 60.74M352.81 60.40L352.81 61.30M353.87 60.40L353.87 60.62M355.21 60.40L355.21 61.04M356.61 60.40L356.61 61.37M358.11 60.40L358.11 61.24M358.91 60.40L358.91 61.04M360.57 60.40L360.57 60.67M361.39 60.40L361.39 61.19M363.19 60.40L363.19 60.67M364.67 60.40L364.67 60.72M366.29 60.40L366.29 61.12M367.30 60.40L367.30 60.78M368.94 60.40L368.94 61.02M370.58 60.40L370.58 60.92M371.70 60.40L371.70 61.37M373.23 60.40L373.23 60.99M374.59 60.40L374.59 61.18M376.16 60.40L376.16 61.33M377.38 60.40L377.38 61.26M378.90 60.40L378.90 61.28M380.58 60.40L380.58 61.27M382.37 60.40L382.37 61.37M383.86 60.40L383.86 61.02M385.43 60.40L385.43 61.24M386.66 60.40L386.66 60.94M387.55 60.40L387.55 61.19M389.46 60.40L389.46 60.90M390.38 60.40L390.38 60.76M391.61 60.40L391.61 60.83M338.20 132.20L338.20 132.61M339.98 132.20L339.98 133.13M341.12 132.20L341.12 132.84M342.98 132.20L342.98 132.79M343.97 132.20L343.97 132.44M345.83 132.20L345.83 133.04M347.01 132.20L347.01 132.82M348.35 132.20L348.35 132.62M350.26 132.20L350.26 132.93M351.26 132.20L351.26 132.41M352.55 132.20L352.55 132.70M354.22 132.20L354.22 132.97M355.67 132.20L355.67 132.53M356.58 132.20L356.58 132.66M357.61 132.20L357.61 133.10M358.95 132.20L358.95 132.91M360.86 132.20L360.86 132.61M362.22 132.20L362.22 132.52M363.87 132.20L363.87 132.40M365.57 132.20L365.57 133.08M367.28 132.20L367.28 132.47M368.32 132.20L368.32 132.97M369.16 132.20L369.16 132.78M370.44 132.20L370.44 133.16M371.87 132.20L371.87 133.09M372.95 132.20L372.95 133.03M374.17 132.20L374.17 133.13M375.00 132.20L375.00 133.06M375.97 132.20L375.97 132.83M377.32 132.20L377.32 132.53M379.04 132.20L379.04 132.65M380.13 132.20L380.13 132.46M381.22 132.20L381.22 132.77M382.80 132.20L382.80 132.69M384.34 132.20L384.34 132.48M385.54 132.20L385.54 132.77M387.42 132.20L387.42 133.06M388.92 132.20L388.92 132.41M390.09 132.20L390.09 132.97M391.10 132.20L391.10 132.85M42.50 227.00L42.50 227.87M43.93 227.00L43.93 227.27M44.92 227.00L44.92 227.33M45.79 227.00L45.79 227.53M46.60 227.00L46.60 227.94M47.83 227.00L47.83 227.61M49.33 227.00L49.33 227.81M51.03 227.00L51.03 227.51M52.15 227.00L52.15 227.53M52.89 227.00L52.89 227.52M54.45 227.00L54.45 227.99M56.12 227.00L56.12 227.73M57.57 227.00L57.57 227.21M58.68 227.00L58.68 227.47M60.19 227.00L60.19 227.29M61.36 227.00L61.36 227.61M63.03 227.00L63.03 227.86M64.48 227.00L64.48 227.33M66.12 227.00L66.12 227.92M67.50 227.00L67.50 227.48M68.82 227.00L68.82 227.31M70.39 227.00L70.39 227.99M71.73 227.00L71.73 227.77M73.46 227.00L73.46 227.36M75.31 227.00L75.31 227.70M76.27 227.00L76.27 227.27M77.28 227.00L77.28 227.66M78.84 227.00L78.84 227.46M80.67 227.00L80.67 227.49M81.95 227.00L81.95 227.30M83.84 227.00L83.84 227.31M85.64 227.00L85.64 227.63M87.03 227.00L87.03 227.65M88.07 227.00L88.07 227.93M89.98 227.00L89.98 227.85M91.42 227.00L91.42 227.30M93.13 227.00L93.13 227.43M94.93 227.00L94.93 227.39M96.34 227.00L96.34 227.86M140.80 227.00L140.80 227.58M142.01 227.00L142.01 227.70M143.56 227.00L143.56 227.81M145.18 227.00L145.18 227.59M147.10 227.00L147.10 227.87M148.84 227.00L148.84 227.53M150.08 227.00L150.08 227.65M151.89 227.00L151.89 227.62M153.24 227.00L153.24 227.55M155.04 227.00L155.04 227.46M155.83 227.00L155.83 227.78M157.63 227.00L157.63 227.79M159.07 227.00L159.07 227.80M160.15 227.00L160.15 227.67M160.96 227.00L160.96 227.30M162.21 227.00L162.21 227.60M163.41 227.00L163.41 227.24M164.96 227.00L164.96 227.62M165.97 227.00L165.97 227.45M167.16 227.00L167.16 227.39M167.97 227.00L167.97 227.93M169.85 227.00L169.85 227.73M171.61 227.00L171.61 227.54M173.29 227.00L173.29 227.38M174.91 227.00L174.91 227.65M176.71 227.00L176.71 227.28M178.38 227.00L178.38 227.30M179.75 227.00L179.75 227.96M180.47 227.00L180.47 227.40M181.55 227.00L181.55 227.46M182.34 227.00L182.34 227.92M184.04 227.00L184.04 227.52M185.19 227.00L185.19 227.67M185.97 227.00L185.97 227.22M187.76 227.00L187.76 227.45M189.08 227.00L189.08 227.95M190.97 227.00L190.97 227.58M191.94 227.00L191.94 227.44M193.77 227.00L193.77 227.92M194.72 227.00L194.72 227.87" stroke="#151515" stroke-width="0.50" fill="none"/><path d="M451.10 26.30L453.50 26.30M451.10 41.80L453.50 41.80M451.10 59.30L453.50 59.30M451.10 68.70L453.50 68.70M451.10 78.60L453.50 78.60M458.20 82.00L458.20 84.40M466.60 82.00L466.60 84.40M475.00 82.00L475.00 84.40M491.80 82.00L491.80 84.40M504.00 82.00L504.00 84.40M256.30 180.40L258.70 180.40M256.30 193.50L258.70 193.50M256.30 207.50L258.70 207.50M256.30 215.80L258.70 215.80M256.30 225.20L258.70 225.20M262.60 228.00L262.60 230.40M270.70 228.00L270.70 230.40M277.80 228.00L277.80 230.40M292.20 228.00L292.20 230.40M304.30 228.00L304.30 230.40M316.80 180.40L319.20 180.40M316.80 193.50L319.20 193.50M316.80 207.50L319.20 207.50M316.80 215.80L319.20 215.80M316.80 225.20L319.20 225.20M323.10 228.00L323.10 230.40M331.20 228.00L331.20 230.40M338.30 228.00L338.30 230.40M352.70 228.00L352.70 230.40M364.80 228.00L364.80 230.40M377.30 180.40L379.70 180.40M377.30 193.50L379.70 193.50M377.30 207.50L379.70 207.50M377.30 215.80L379.70 215.80M377.30 225.20L379.70 225.20M383.60 228.00L383.60 230.40M391.70 228.00L391.70 230.40M398.80 228.00L398.80 230.40M413.20 228.00L413.20 230.40M425.30 228.00L425.30 230.40M437.60 180.40L440.00 180.40M437.60 193.50L440.00 193.50M437.60 207.50L440.00 207.50M437.60 215.80L440.00 215.80M437.60 225.20L440.00 225.20M443.90 228.00L443.90 230.40M452.00 228.00L452.00 230.40M459.10 228.00L459.10 230.40M473.50 228.00L473.50 230.40M485.60 228.00L485.60 230.40M33.90 279.60L36.30 279.60M33.90 289.00L36.30 289.00M33.90 303.90L36.30 303.90M33.90 312.30L36.30 312.30M33.90 320.60L36.30 320.60M40.10 323.60L40.10 326.00M47.80 323.60L47.80 326.00M56.00 323.60L56.00 326.00M70.40 323.60L70.40 326.00M82.20 323.60L82.20 326.00M93.40 279.60L95.80 279.60M93.40 289.00L95.80 289.00M93.40 303.90L95.80 303.90M93.40 312.30L95.80 312.30M93.40 320.60L95.80 320.60M99.60 323.60L99.60 326.00M107.30 323.60L107.30 326.00M115.50 323.60L115.50 326.00M129.90 323.60L129.90 326.00M141.70 323.60L141.70 326.00M153.10 279.60L155.50 279.60M153.10 289.00L155.50 289.00M153.10 303.90L155.50 303.90M153.10 312.30L155.50 312.30M153.10 320.60L155.50 320.60M159.30 323.60L159.30 326.00M167.00 323.60L167.00 326.00M175.20 323.60L175.20 326.00M189.60 323.60L189.60 326.00M201.40 323.60L201.40 326.00" stroke="#111" stroke-width="0.70" fill="none"/><path d="M452.20 54.03L453.50 54.03M452.20 50.95L453.50 50.95M452.20 48.76L453.50 48.76M452.20 47.07L453.50 47.07M452.20 45.68L453.50 45.68M452.20 44.51L453.50 44.51M452.20 43.50L453.50 43.50M452.20 42.60L453.50 42.60M452.20 37.13L453.50 37.13M452.20 34.40L453.50 34.40M452.20 32.47L453.50 32.47M452.20 30.97L453.50 30.97M452.20 29.74L453.50 29.74M452.20 28.70L453.50 28.70M452.20 27.80L453.50 27.80M452.20 27.01L453.50 27.01M452.20 76.62L453.50 76.62M452.20 66.82L453.50 66.82M452.20 74.64L453.50 74.64M452.20 64.94L453.50 64.94M452.20 72.66L453.50 72.66M452.20 63.06L453.50 63.06M452.20 70.68L453.50 70.68M452.20 61.18L453.50 61.18M480.06 82.00L480.06 83.30M483.02 82.00L483.02 83.30M485.11 82.00L485.11 83.30M486.74 82.00L486.74 83.30M488.07 82.00L488.07 83.30M489.20 82.00L489.20 83.30M490.17 82.00L490.17 83.30M491.03 82.00L491.03 83.30M495.47 82.00L495.47 83.30M497.62 82.00L497.62 83.30M499.15 82.00L499.15 83.30M500.33 82.00L500.33 83.30M501.29 82.00L501.29 83.30M502.11 82.00L502.11 83.30M502.82 82.00L502.82 83.30M503.44 82.00L503.44 83.30M459.88 82.00L459.88 83.30M468.28 82.00L468.28 83.30M461.56 82.00L461.56 83.30M469.96 82.00L469.96 83.30M463.24 82.00L463.24 83.30M471.64 82.00L471.64 83.30M464.92 82.00L464.92 83.30M473.32 82.00L473.32 83.30M257.40 203.29L258.70 203.29M257.40 200.82L258.70 200.82M257.40 199.07L258.70 199.07M257.40 197.71L258.70 197.71M257.40 196.61L258.70 196.61M257.40 195.67L258.70 195.67M257.40 194.86L258.70 194.86M257.40 194.14L258.70 194.14M257.40 189.56L258.70 189.56M257.40 187.25L258.70 187.25M257.40 185.61L258.70 185.61M257.40 184.34L258.70 184.34M257.40 183.31L258.70 183.31M257.40 182.43L258.70 182.43M257.40 181.67L258.70 181.67M257.40 181.00L258.70 181.00M257.40 223.32L258.70 223.32M257.40 214.14L258.70 214.14M257.40 221.44L258.70 221.44M257.40 212.48L258.70 212.48M257.40 219.56L258.70 219.56M257.40 210.82L258.70 210.82M257.40 217.68L258.70 217.68M257.40 209.16L258.70 209.16M282.13 228.00L282.13 229.30M284.67 228.00L284.67 229.30M286.47 228.00L286.47 229.30M287.87 228.00L287.87 229.30M289.01 228.00L289.01 229.30M289.97 228.00L289.97 229.30M290.80 228.00L290.80 229.30M291.54 228.00L291.54 229.30M295.84 228.00L295.84 229.30M297.97 228.00L297.97 229.30M299.48 228.00L299.48 229.30M300.66 228.00L300.66 229.30M301.62 228.00L301.62 229.30M302.43 228.00L302.43 229.30M303.13 228.00L303.13 229.30M303.75 228.00L303.75 229.30M264.22 228.00L264.22 229.30M272.12 228.00L272.12 229.30M265.84 228.00L265.84 229.30M273.54 228.00L273.54 229.30M267.46 228.00L267.46 229.30M274.96 228.00L274.96 229.30M269.08 228.00L269.08 229.30M276.38 228.00L276.38 229.30M317.90 203.29L319.20 203.29M317.90 200.82L319.20 200.82M317.90 199.07L319.20 199.07M317.90 197.71L319.20 197.71M317.90 196.61L319.20 196.61M317.90 195.67L319.20 195.67M317.90 194.86L319.20 194.86M317.90 194.14L319.20 194.14M317.90 189.56L319.20 189.56M317.90 187.25L319.20 187.25M317.90 185.61L319.20 185.61M317.90 184.34L319.20 184.34M317.90 183.31L319.20 183.31M317.90 182.43L319.20 182.43M317.90 181.67L319.20 181.67M317.90 181.00L319.20 181.00M317.90 223.32L319.20 223.32M317.90 214.14L319.20 214.14M317.90 221.44L319.20 221.44M317.90 212.48L319.20 212.48M317.90 219.56L319.20 219.56M317.90 210.82L319.20 210.82M317.90 217.68L319.20 217.68M317.90 209.16L319.20 209.16M342.63 228.00L342.63 229.30M345.17 228.00L345.17 229.30M346.97 228.00L346.97 229.30M348.37 228.00L348.37 229.30M349.51 228.00L349.51 229.30M350.47 228.00L350.47 229.30M351.30 228.00L351.30 229.30M352.04 228.00L352.04 229.30M356.34 228.00L356.34 229.30M358.47 228.00L358.47 229.30M359.98 228.00L359.98 229.30M361.16 228.00L361.16 229.30M362.12 228.00L362.12 229.30M362.93 228.00L362.93 229.30M363.63 228.00L363.63 229.30M364.25 228.00L364.25 229.30M324.72 228.00L324.72 229.30M332.62 228.00L332.62 229.30M326.34 228.00L326.34 229.30M334.04 228.00L334.04 229.30M327.96 228.00L327.96 229.30M335.46 228.00L335.46 229.30M329.58 228.00L329.58 229.30M336.88 228.00L336.88 229.30M378.40 203.29L379.70 203.29M378.40 200.82L379.70 200.82M378.40 199.07L379.70 199.07M378.40 197.71L379.70 197.71M378.40 196.61L379.70 196.61M378.40 195.67L379.70 195.67M378.40 194.86L379.70 194.86M378.40 194.14L379.70 194.14M378.40 189.56L379.70 189.56M378.40 187.25L379.70 187.25M378.40 185.61L379.70 185.61M378.40 184.34L379.70 184.34M378.40 183.31L379.70 183.31M378.40 182.43L379.70 182.43M378.40 181.67L379.70 181.67M378.40 181.00L379.70 181.00M378.40 223.32L379.70 223.32M378.40 214.14L379.70 214.14M378.40 221.44L379.70 221.44M378.40 212.48L379.70 212.48M378.40 219.56L379.70 219.56M378.40 210.82L379.70 210.82M378.40 217.68L379.70 217.68M378.40 209.16L379.70 209.16M403.13 228.00L403.13 229.30M405.67 228.00L405.67 229.30M407.47 228.00L407.47 229.30M408.87 228.00L408.87 229.30M410.01 228.00L410.01 229.30M410.97 228.00L410.97 229.30M411.80 228.00L411.80 229.30M412.54 228.00L412.54 229.30M416.84 228.00L416.84 229.30M418.97 228.00L418.97 229.30M420.48 228.00L420.48 229.30M421.66 228.00L421.66 229.30M422.62 228.00L422.62 229.30M423.43 228.00L423.43 229.30M424.13 228.00L424.13 229.30M424.75 228.00L424.75 229.30M385.22 228.00L385.22 229.30M393.12 228.00L393.12 229.30M386.84 228.00L386.84 229.30M394.54 228.00L394.54 229.30M388.46 228.00L388.46 229.30M395.96 228.00L395.96 229.30M390.08 228.00L390.08 229.30M397.38 228.00L397.38 229.30M438.70 203.29L440.00 203.29M438.70 200.82L440.00 200.82M438.70 199.07L440.00 199.07M438.70 197.71L440.00 197.71M438.70 196.61L440.00 196.61M438.70 195.67L440.00 195.67M438.70 194.86L440.00 194.86M438.70 194.14L440.00 194.14M438.70 189.56L440.00 189.56M438.70 187.25L440.00 187.25M438.70 185.61L440.00 185.61M438.70 184.34L440.00 184.34M438.70 183.31L440.00 183.31M438.70 182.43L440.00 182.43M438.70 181.67L440.00 181.67M438.70 181.00L440.00 181.00M438.70 223.32L440.00 223.32M438.70 214.14L440.00 214.14M438.70 221.44L440.00 221.44M438.70 212.48L440.00 212.48M438.70 219.56L440.00 219.56M438.70 210.82L440.00 210.82M438.70 217.68L440.00 217.68M438.70 209.16L440.00 209.16M463.43 228.00L463.43 229.30M465.97 228.00L465.97 229.30M467.77 228.00L467.77 229.30M469.17 228.00L469.17 229.30M470.31 228.00L470.31 229.30M471.27 228.00L471.27 229.30M472.10 228.00L472.10 229.30M472.84 228.00L472.84 229.30M477.14 228.00L477.14 229.30M479.27 228.00L479.27 229.30M480.78 228.00L480.78 229.30M481.96 228.00L481.96 229.30M482.92 228.00L482.92 229.30M483.73 228.00L483.73 229.30M484.43 228.00L484.43 229.30M485.05 228.00L485.05 229.30M445.52 228.00L445.52 229.30M453.42 228.00L453.42 229.30M447.14 228.00L447.14 229.30M454.84 228.00L454.84 229.30M448.76 228.00L448.76 229.30M456.26 228.00L456.26 229.30M450.38 228.00L450.38 229.30M457.68 228.00L457.68 229.30M35.00 299.41L36.30 299.41M35.00 296.79L36.30 296.79M35.00 294.93L36.30 294.93M35.00 293.49L36.30 293.49M35.00 292.31L36.30 292.31M35.00 291.31L36.30 291.31M35.00 290.44L36.30 290.44M35.00 289.68L36.30 289.68M35.00 286.17L36.30 286.17M35.00 284.52L36.30 284.52M35.00 283.34L36.30 283.34M35.00 282.43L36.30 282.43M35.00 281.69L36.30 281.69M35.00 281.06L36.30 281.06M35.00 280.51L36.30 280.51M35.00 280.03L36.30 280.03M35.00 318.94L36.30 318.94M35.00 310.62L36.30 310.62M35.00 317.28L36.30 317.28M35.00 308.94L36.30 308.94M35.00 315.62L36.30 315.62M35.00 307.26L36.30 307.26M35.00 313.96L36.30 313.96M35.00 305.58L36.30 305.58M60.33 323.60L60.33 324.90M62.87 323.60L62.87 324.90M64.67 323.60L64.67 324.90M66.07 323.60L66.07 324.90M67.21 323.60L67.21 324.90M68.17 323.60L68.17 324.90M69.00 323.60L69.00 324.90M69.74 323.60L69.74 324.90M73.95 323.60L73.95 324.90M76.03 323.60L76.03 324.90M77.50 323.60L77.50 324.90M78.65 323.60L78.65 324.90M79.58 323.60L79.58 324.90M80.37 323.60L80.37 324.90M81.06 323.60L81.06 324.90M81.66 323.60L81.66 324.90M41.64 323.60L41.64 324.90M49.44 323.60L49.44 324.90M43.18 323.60L43.18 324.90M51.08 323.60L51.08 324.90M44.72 323.60L44.72 324.90M52.72 323.60L52.72 324.90M46.26 323.60L46.26 324.90M54.36 323.60L54.36 324.90M94.50 299.41L95.80 299.41M94.50 296.79L95.80 296.79M94.50 294.93L95.80 294.93M94.50 293.49L95.80 293.49M94.50 292.31L95.80 292.31M94.50 291.31L95.80 291.31M94.50 290.44L95.80 290.44M94.50 289.68L95.80 289.68M94.50 286.17L95.80 286.17M94.50 284.52L95.80 284.52M94.50 283.34L95.80 283.34M94.50 282.43L95.80 282.43M94.50 281.69L95.80 281.69M94.50 281.06L95.80 281.06M94.50 280.51L95.80 280.51M94.50 280.03L95.80 280.03M94.50 318.94L95.80 318.94M94.50 310.62L95.80 310.62M94.50 317.28L95.80 317.28M94.50 308.94L95.80 308.94M94.50 315.62L95.80 315.62M94.50 307.26L95.80 307.26M94.50 313.96L95.80 313.96M94.50 305.58L95.80 305.58M119.83 323.60L119.83 324.90M122.37 323.60L122.37 324.90M124.17 323.60L124.17 324.90M125.57 323.60L125.57 324.90M126.71 323.60L126.71 324.90M127.67 323.60L127.67 324.90M128.50 323.60L128.50 324.90M129.24 323.60L129.24 324.90M133.45 323.60L133.45 324.90M135.53 323.60L135.53 324.90M137.00 323.60L137.00 324.90M138.15 323.60L138.15 324.90M139.08 323.60L139.08 324.90M139.87 323.60L139.87 324.90M140.56 323.60L140.56 324.90M141.16 323.60L141.16 324.90M101.14 323.60L101.14 324.90M108.94 323.60L108.94 324.90M102.68 323.60L102.68 324.90M110.58 323.60L110.58 324.90M104.22 323.60L104.22 324.90M112.22 323.60L112.22 324.90M105.76 323.60L105.76 324.90M113.86 323.60L113.86 324.90M154.20 299.41L155.50 299.41M154.20 296.79L155.50 296.79M154.20 294.93L155.50 294.93M154.20 293.49L155.50 293.49M154.20 292.31L155.50 292.31M154.20 291.31L155.50 291.31M154.20 290.44L155.50 290.44M154.20 289.68L155.50 289.68M154.20 286.17L155.50 286.17M154.20 284.52L155.50 284.52M154.20 283.34L155.50 283.34M154.20 282.43L155.50 282.43M154.20 281.69L155.50 281.69M154.20 281.06L155.50 281.06M154.20 280.51L155.50 280.51M154.20 280.03L155.50 280.03M154.20 318.94L155.50 318.94M154.20 310.62L155.50 310.62M154.20 317.28L155.50 317.28M154.20 308.94L155.50 308.94M154.20 315.62L155.50 315.62M154.20 307.26L155.50 307.26M154.20 313.96L155.50 313.96M154.20 305.58L155.50 305.58M179.53 323.60L179.53 324.90M182.07 323.60L182.07 324.90M183.87 323.60L183.87 324.90M185.27 323.60L185.27 324.90M186.41 323.60L186.41 324.90M187.37 323.60L187.37 324.90M188.20 323.60L188.20 324.90M188.94 323.60L188.94 324.90M193.15 323.60L193.15 324.90M195.23 323.60L195.23 324.90M196.70 323.60L196.70 324.90M197.85 323.60L197.85 324.90M198.78 323.60L198.78 324.90M199.57 323.60L199.57 324.90M200.26 323.60L200.26 324.90M200.86 323.60L200.86 324.90M160.84 323.60L160.84 324.90M168.64 323.60L168.64 324.90M162.38 323.60L162.38 324.90M170.28 323.60L170.28 324.90M163.92 323.60L163.92 324.90M171.92 323.60L171.92 324.90M165.46 323.60L165.46 324.90M173.56 323.60L173.56 324.90" stroke="#111" stroke-width="0.50" fill="none"/><path d="M463.50 82.00L463.50 82.86M464.12 82.00L464.12 83.43M465.39 82.00L465.39 82.48M466.38 82.00L466.38 82.47M467.56 82.00L467.56 82.27M468.13 82.00L468.13 83.22M468.86 82.00L468.86 83.46M470.03 82.00L470.03 83.20M470.62 82.00L470.62 83.17M471.85 82.00L471.85 82.82M472.40 82.00L472.40 82.51M473.12 82.00L473.12 83.19M473.76 82.00L473.76 82.45M474.43 82.00L474.43 83.13M475.54 82.00L475.54 82.72M476.55 82.00L476.55 83.44M477.50 82.00L477.50 82.52M478.22 82.00L478.22 83.50M479.24 82.00L479.24 82.59M480.23 82.00L480.23 82.33M481.49 82.00L481.49 82.82M482.40 82.00L482.40 82.94M482.91 82.00L482.91 83.04M483.62 82.00L483.62 82.55M484.74 82.00L484.74 82.32M485.45 82.00L485.45 83.26M452.94 61.80L453.50 61.80M453.06 62.72L453.50 62.72M452.02 63.92L453.50 63.92M452.70 64.42L453.50 64.42M452.80 65.50L453.50 65.50M452.65 66.73L453.50 66.73M452.58 67.35L453.50 67.35M452.83 68.35L453.50 68.35M452.28 69.35L453.50 69.35M452.64 70.25L453.50 70.25M452.41 71.40L453.50 71.40M452.06 72.30L453.50 72.30M452.29 72.92L453.50 72.92M452.51 73.53L453.50 73.53M452.73 74.20L453.50 74.20M452.28 75.30L453.50 75.30M260.70 228.00L260.70 228.75M261.35 228.00L261.35 228.72M262.06 228.00L262.06 229.25M262.44 228.00L262.44 229.43M263.23 228.00L263.23 229.39M264.12 228.00L264.12 228.64M264.57 228.00L264.57 228.33M265.22 228.00L265.22 229.13M265.85 228.00L265.85 228.80M266.69 228.00L266.69 228.44M267.59 228.00L267.59 229.38M268.28 228.00L268.28 229.80M268.78 228.00L268.78 228.58M269.33 228.00L269.33 228.38M269.88 228.00L269.88 229.48M270.55 228.00L270.55 228.80M271.26 228.00L271.26 228.47M272.12 228.00L272.12 228.63M272.63 228.00L272.63 228.60M273.40 228.00L273.40 229.88M274.24 228.00L274.24 228.42M274.84 228.00L274.84 228.99M275.33 228.00L275.33 230.14M275.72 228.00L275.72 229.23M276.53 228.00L276.53 230.17M276.98 228.00L276.98 229.17M277.79 228.00L277.79 228.37M278.29 228.00L278.29 229.99M278.74 228.00L278.74 229.05M279.28 228.00L279.28 229.11M279.68 228.00L279.68 228.37M280.64 228.00L280.64 229.75M281.44 228.00L281.44 228.74M281.95 228.00L281.95 229.35M282.46 228.00L282.46 229.18M283.38 228.00L283.38 228.99M283.94 228.00L283.94 230.16M284.67 228.00L284.67 228.38M285.27 228.00L285.27 229.53M285.66 228.00L285.66 228.95M286.44 228.00L286.44 229.94M287.15 228.00L287.15 229.98M287.79 228.00L287.79 229.05M288.66 228.00L288.66 229.02M289.49 228.00L289.49 228.71M290.05 228.00L290.05 228.65M290.74 228.00L290.74 228.61M291.23 228.00L291.23 228.71M291.87 228.00L291.87 228.89M292.50 228.00L292.50 230.19M293.26 228.00L293.26 229.94M293.75 228.00L293.75 229.03M294.15 228.00L294.15 229.61M294.73 228.00L294.73 228.82M295.10 228.00L295.10 228.65M295.62 228.00L295.62 229.05M296.53 228.00L296.53 229.66M297.05 228.00L297.05 228.99M297.50 228.00L297.50 230.08M298.08 228.00L298.08 229.75M298.87 228.00L298.87 230.02M299.25 228.00L299.25 228.91M299.84 228.00L299.84 228.46M300.73 228.00L300.73 228.92M301.55 228.00L301.55 229.29M301.94 228.00L301.94 229.05M302.44 228.00L302.44 228.38M302.89 228.00L302.89 229.43M303.27 228.00L303.27 228.89M303.89 228.00L303.89 229.33M304.33 228.00L304.33 229.64M304.85 228.00L304.85 229.68M305.61 228.00L305.61 228.58M306.09 228.00L306.09 228.83M306.88 228.00L306.88 229.07M307.47 228.00L307.47 229.95M307.96 228.00L307.96 228.85M308.53 228.00L308.53 228.71M258.36 178.50L258.70 178.50M257.55 179.24L258.70 179.24M256.94 180.08L258.70 180.08M257.39 180.62L258.70 180.62M258.08 181.53L258.70 181.53M257.40 182.31L258.70 182.31M257.10 183.24L258.70 183.24M257.45 183.74L258.70 183.74M257.76 184.16L258.70 184.16M258.31 184.75L258.70 184.75M257.91 185.34L258.70 185.34M257.98 186.00L258.70 186.00M257.80 186.45L258.70 186.45M258.15 187.10L258.70 187.10M258.04 187.86L258.70 187.86M257.89 188.27L258.70 188.27M258.17 188.89L258.70 188.89M257.35 189.60L258.70 189.60M257.35 190.29L258.70 190.29M257.81 190.66L258.70 190.66M258.31 191.24L258.70 191.24M258.32 191.84L258.70 191.84M257.52 192.50L258.70 192.50M257.91 193.14L258.70 193.14M258.36 193.65L258.70 193.65M257.06 194.22L258.70 194.22M258.01 194.92L258.70 194.92M258.12 195.68L258.70 195.68M257.48 196.32L258.70 196.32M257.86 197.26L258.70 197.26M256.99 197.96L258.70 197.96M257.46 198.79L258.70 198.79M257.78 199.52L258.70 199.52M257.99 200.13L258.70 200.13M257.08 200.99L258.70 200.99M257.04 201.57L258.70 201.57M258.20 201.96L258.70 201.96M257.94 202.62L258.70 202.62M256.93 203.20L258.70 203.20M258.11 203.65L258.70 203.65M257.38 204.15L258.70 204.15M258.40 204.65L258.70 204.65M257.81 205.33L258.70 205.33M257.66 205.84L258.70 205.84M257.58 206.59L258.70 206.59M257.56 207.32L258.70 207.32M256.95 208.18L258.70 208.18M257.88 208.74L258.70 208.74M257.93 209.63L258.70 209.63M257.36 210.42L258.70 210.42M256.95 211.19L258.70 211.19M258.16 212.05L258.70 212.05M257.66 212.78L258.70 212.78M257.85 213.48L258.70 213.48M257.28 214.01L258.70 214.01M258.04 214.69L258.70 214.69M257.91 215.20L258.70 215.20M257.63 215.67L258.70 215.67M258.31 216.10L258.70 216.10M258.25 216.50L258.70 216.50M258.23 217.29L258.70 217.29M257.24 217.92L258.70 217.92M258.16 218.57L258.70 218.57M257.10 219.45L258.70 219.45M258.02 219.84L258.70 219.84M257.21 220.50L258.70 220.50M257.33 221.10L258.70 221.10M257.33 221.61L258.70 221.61M257.90 222.16L258.70 222.16M257.14 222.98L258.70 222.98M257.55 223.84L258.70 223.84M257.34 224.45L258.70 224.45M257.15 225.18L258.70 225.18M258.21 226.02L258.70 226.02M257.40 226.61L258.70 226.61M321.20 228.00L321.20 228.65M321.57 228.00L321.57 229.41M322.49 228.00L322.49 230.14M322.93 228.00L322.93 229.61M323.54 228.00L323.54 229.50M324.14 228.00L324.14 230.07M325.10 228.00L325.10 228.39M325.88 228.00L325.88 228.52M326.27 228.00L326.27 228.84M327.07 228.00L327.07 230.19M327.50 228.00L327.50 228.93M327.88 228.00L327.88 229.33M328.53 228.00L328.53 229.01M329.07 228.00L329.07 229.82M329.93 228.00L329.93 228.84M330.53 228.00L330.53 229.47M331.35 228.00L331.35 230.16M331.94 228.00L331.94 229.62M332.63 228.00L332.63 229.82M333.08 228.00L333.08 228.63M333.50 228.00L333.50 230.07M334.01 228.00L334.01 229.23M334.45 228.00L334.45 228.91M334.82 228.00L334.82 229.38M335.26 228.00L335.26 229.49M335.79 228.00L335.79 228.73M336.44 228.00L336.44 229.00M336.95 228.00L336.95 228.40M337.35 228.00L337.35 230.00M337.90 228.00L337.90 228.45M338.37 228.00L338.37 229.22M339.32 228.00L339.32 228.68M340.21 228.00L340.21 229.22M340.81 228.00L340.81 229.83M341.41 228.00L341.41 228.41M342.10 228.00L342.10 229.55M342.84 228.00L342.84 228.83M343.76 228.00L343.76 229.94M344.72 228.00L344.72 229.14M345.58 228.00L345.58 229.68M346.04 228.00L346.04 228.35M346.50 228.00L346.50 228.53M346.91 228.00L346.91 228.98M347.72 228.00L347.72 228.89M348.39 228.00L348.39 228.32M348.87 228.00L348.87 230.12M349.24 228.00L349.24 229.30M350.09 228.00L350.09 229.81M350.89 228.00L350.89 229.06M351.73 228.00L351.73 229.87M352.55 228.00L352.55 230.17M352.97 228.00L352.97 230.11M353.57 228.00L353.57 229.64M354.08 228.00L354.08 230.03M354.46 228.00L354.46 229.40M354.95 228.00L354.95 229.04M355.53 228.00L355.53 229.55M356.38 228.00L356.38 228.99M357.12 228.00L357.12 228.97M357.65 228.00L357.65 230.02M358.20 228.00L358.20 228.48M358.77 228.00L358.77 229.71M359.25 228.00L359.25 229.71M359.94 228.00L359.94 229.59M360.41 228.00L360.41 228.50M360.85 228.00L360.85 228.97M361.47 228.00L361.47 228.32M362.13 228.00L362.13 229.07M362.68 228.00L362.68 229.32M363.62 228.00L363.62 228.69M364.50 228.00L364.50 228.91M365.32 228.00L365.32 228.51M366.27 228.00L366.27 229.12M367.21 228.00L367.21 228.72M367.81 228.00L367.81 229.64M368.28 228.00L368.28 228.82M317.48 178.50L319.20 178.50M318.62 179.05L319.20 179.05M317.42 179.63L319.20 179.63M317.95 180.08L319.20 180.08M317.93 180.66L319.20 180.66M317.98 181.15L319.20 181.15M317.62 182.04L319.20 182.04M318.14 182.78L319.20 182.78M318.73 183.48L319.20 183.48M317.87 184.34L319.20 184.34M317.90 184.98L319.20 184.98M318.32 185.59L319.20 185.59M318.00 186.09L319.20 186.09M318.13 186.79L319.20 186.79M317.96 187.17L319.20 187.17M318.01 187.80L319.20 187.80M317.50 188.51L319.20 188.51M318.20 188.96L319.20 188.96M317.79 189.92L319.20 189.92M317.79 190.47L319.20 190.47M318.30 191.42L319.20 191.42M318.71 192.30L319.20 192.30M318.16 193.26L319.20 193.26M317.64 193.76L319.20 193.76M317.49 194.51L319.20 194.51M317.70 195.36L319.20 195.36M317.41 196.03L319.20 196.03M317.59 196.43L319.20 196.43M318.52 197.22L319.20 197.22M318.22 198.06L319.20 198.06M317.60 198.74L319.20 198.74M318.48 199.22L319.20 199.22M318.79 199.97L319.20 199.97M317.72 200.66L319.20 200.66M318.54 201.31L319.20 201.31M317.62 202.15L319.20 202.15M318.08 202.98L319.20 202.98M317.70 203.88L319.20 203.88M318.35 204.33L319.20 204.33M318.84 204.75L319.20 204.75M317.60 205.32L319.20 205.32M318.72 206.18L319.20 206.18M318.32 206.65L319.20 206.65M317.97 207.52L319.20 207.52M318.79 208.42L319.20 208.42M318.59 209.37L319.20 209.37M317.59 210.11L319.20 210.11M318.60 210.91L319.20 210.91M318.25 211.67L319.20 211.67M318.39 212.04L319.20 212.04M317.96 212.58L319.20 212.58M318.00 213.11L319.20 213.11M318.63 213.89L319.20 213.89M317.86 214.33L319.20 214.33M318.71 214.97L319.20 214.97M317.49 215.39L319.20 215.39M318.36 216.12L319.20 216.12M317.41 216.60L319.20 216.60M317.80 217.37L319.20 217.37M318.43 217.95L319.20 217.95M318.68 218.55L319.20 218.55M318.26 219.29L319.20 219.29M318.29 220.15L319.20 220.15M318.14 220.78L319.20 220.78M318.38 221.70L319.20 221.70M318.55 222.49L319.20 222.49M318.47 223.19L319.20 223.19M318.47 224.08L319.20 224.08M317.88 224.95L319.20 224.95M317.50 225.58L319.20 225.58M317.79 226.18L319.20 226.18M318.23 226.90L319.20 226.90M381.70 228.00L381.70 229.10M382.23 228.00L382.23 229.14M383.16 228.00L383.16 228.86M383.94 228.00L383.94 229.58M384.45 228.00L384.45 229.08M384.88 228.00L384.88 230.00M385.40 228.00L385.40 229.10M385.96 228.00L385.96 229.86M386.83 228.00L386.83 229.42M387.52 228.00L387.52 228.49M388.42 228.00L388.42 228.47M388.99 228.00L388.99 229.01M389.79 228.00L389.79 229.57M390.35 228.00L390.35 230.01M391.28 228.00L391.28 228.34M392.02 228.00L392.02 229.19M392.60 228.00L392.60 229.18M393.15 228.00L393.15 229.57M393.87 228.00L393.87 230.14M394.82 228.00L394.82 230.19M395.42 228.00L395.42 229.87M396.17 228.00L396.17 229.63M397.13 228.00L397.13 228.43M397.76 228.00L397.76 229.06M398.52 228.00L398.52 228.71M399.47 228.00L399.47 228.70M400.05 228.00L400.05 228.57M400.65 228.00L400.65 229.71M401.06 228.00L401.06 228.62M401.81 228.00L401.81 229.48M402.61 228.00L402.61 228.78M403.46 228.00L403.46 229.69M404.29 228.00L404.29 228.53M404.93 228.00L404.93 228.33M405.80 228.00L405.80 230.09M406.70 228.00L406.70 228.35M407.27 228.00L407.27 229.32M407.95 228.00L407.95 228.51M408.79 228.00L408.79 228.87M409.45 228.00L409.45 228.54M410.15 228.00L410.15 228.55M410.56 228.00L410.56 229.27M411.10 228.00L411.10 229.78M411.61 228.00L411.61 229.09M412.00 228.00L412.00 228.71M412.63 228.00L412.63 229.36M413.27 228.00L413.27 229.92M413.69 228.00L413.69 229.92M414.14 228.00L414.14 230.14M414.82 228.00L414.82 229.07M415.54 228.00L415.54 229.94M416.48 228.00L416.48 229.09M416.85 228.00L416.85 228.59M417.70 228.00L417.70 229.70M418.49 228.00L418.49 228.60M419.17 228.00L419.17 228.35M419.59 228.00L419.59 228.87M420.53 228.00L420.53 229.52M421.40 228.00L421.40 228.39M422.01 228.00L422.01 228.45M422.53 228.00L422.53 228.51M423.44 228.00L423.44 228.92M424.09 228.00L424.09 229.54M424.98 228.00L424.98 230.10M425.68 228.00L425.68 229.25M426.59 228.00L426.59 229.05M427.13 228.00L427.13 229.70M427.64 228.00L427.64 229.00M428.26 228.00L428.26 229.21M428.83 228.00L428.83 229.12M379.33 178.50L379.70 178.50M379.31 179.36L379.70 179.36M378.58 180.04L379.70 180.04M379.07 180.64L379.70 180.64M378.84 181.06L379.70 181.06M378.67 181.61L379.70 181.61M378.28 182.10L379.70 182.10M379.39 182.76L379.70 182.76M377.95 183.36L379.70 183.36M378.51 183.72L379.70 183.72M378.85 184.66L379.70 184.66M378.85 185.38L379.70 185.38M378.49 185.92L379.70 185.92M378.93 186.63L379.70 186.63M378.63 187.29L379.70 187.29M379.32 188.11L379.70 188.11M379.02 188.52L379.70 188.52M378.21 189.04L379.70 189.04M378.11 189.66L379.70 189.66M378.97 190.26L379.70 190.26M379.27 191.03L379.70 191.03M378.15 191.98L379.70 191.98M378.92 192.54L379.70 192.54M378.22 193.39L379.70 193.39M379.31 194.13L379.70 194.13M379.33 194.95L379.70 194.95M378.57 195.69L379.70 195.69M378.44 196.60L379.70 196.60M378.00 196.97L379.70 196.97M378.53 197.79L379.70 197.79M378.29 198.15L379.70 198.15M378.38 198.76L379.70 198.76M378.02 199.71L379.70 199.71M378.23 200.12L379.70 200.12M378.27 200.74L379.70 200.74M378.73 201.33L379.70 201.33M379.22 201.95L379.70 201.95M378.30 202.50L379.70 202.50M379.23 202.90L379.70 202.90M378.40 203.76L379.70 203.76M379.23 204.45L379.70 204.45M378.93 204.88L379.70 204.88M378.56 205.82L379.70 205.82M379.08 206.73L379.70 206.73M378.60 207.34L379.70 207.34M379.21 208.20L379.70 208.20M378.69 209.09L379.70 209.09M378.75 209.47L379.70 209.47M378.39 210.05L379.70 210.05M378.66 210.97L379.70 210.97M378.82 211.74L379.70 211.74M379.24 212.57L379.70 212.57M379.15 213.38L379.70 213.38M379.10 214.09L379.70 214.09M379.15 214.65L379.70 214.65M378.51 215.22L379.70 215.22M378.82 215.90L379.70 215.90M378.14 216.60L379.70 216.60M378.52 217.18L379.70 217.18M377.93 217.82L379.70 217.82M378.35 218.38L379.70 218.38M379.01 218.88L379.70 218.88M378.54 219.68L379.70 219.68M379.30 220.19L379.70 220.19M378.83 221.05L379.70 221.05M378.75 221.84L379.70 221.84M378.56 222.57L379.70 222.57M378.04 223.51L379.70 223.51M378.67 224.15L379.70 224.15M378.27 224.65L379.70 224.65M378.94 225.07L379.70 225.07M379.35 225.94L379.70 225.94M378.55 226.72L379.70 226.72M442.00 228.00L442.00 228.93M442.45 228.00L442.45 230.11M443.27 228.00L443.27 229.83M443.69 228.00L443.69 229.79M444.18 228.00L444.18 228.68M444.86 228.00L444.86 229.46M445.29 228.00L445.29 229.75M446.00 228.00L446.00 230.01M446.92 228.00L446.92 229.61M447.50 228.00L447.50 230.11M448.29 228.00L448.29 228.85M449.16 228.00L449.16 229.68M449.68 228.00L449.68 228.77M450.05 228.00L450.05 229.32M450.56 228.00L450.56 228.86M451.08 228.00L451.08 228.55M451.73 228.00L451.73 228.82M452.26 228.00L452.26 228.83M452.92 228.00L452.92 229.96M453.38 228.00L453.38 229.93M454.25 228.00L454.25 229.46M454.94 228.00L454.94 229.69M455.62 228.00L455.62 229.55M456.53 228.00L456.53 229.77M457.05 228.00L457.05 228.40M457.97 228.00L457.97 228.99M458.80 228.00L458.80 228.74M459.43 228.00L459.43 229.00M460.23 228.00L460.23 230.09M460.89 228.00L460.89 229.38M461.46 228.00L461.46 228.74M462.39 228.00L462.39 228.51M463.32 228.00L463.32 229.55M463.72 228.00L463.72 230.01M464.14 228.00L464.14 229.37M464.57 228.00L464.57 230.18M465.12 228.00L465.12 229.96M465.52 228.00L465.52 229.57M465.92 228.00L465.92 228.36M466.62 228.00L466.62 230.17M467.39 228.00L467.39 229.93M468.22 228.00L468.22 229.29M468.63 228.00L468.63 229.30M469.10 228.00L469.10 229.30M469.67 228.00L469.67 229.25M470.15 228.00L470.15 229.64M470.76 228.00L470.76 229.22M471.17 228.00L471.17 229.23M471.86 228.00L471.86 230.15M472.56 228.00L472.56 228.56M473.10 228.00L473.10 228.94M473.88 228.00L473.88 230.08M474.83 228.00L474.83 230.10M475.74 228.00L475.74 229.93M476.66 228.00L476.66 228.34M477.32 228.00L477.32 229.42M478.09 228.00L478.09 229.46M478.81 228.00L478.81 230.07M479.23 228.00L479.23 229.29M480.16 228.00L480.16 228.36M480.59 228.00L480.59 229.95M481.52 228.00L481.52 228.35M481.90 228.00L481.90 229.88M482.68 228.00L482.68 229.29M483.38 228.00L483.38 229.74M484.23 228.00L484.23 228.30M484.63 228.00L484.63 229.81M485.57 228.00L485.57 229.88M486.18 228.00L486.18 228.94M486.75 228.00L486.75 228.33M487.57 228.00L487.57 228.80M488.28 228.00L488.28 229.30M488.84 228.00L488.84 229.58M489.47 228.00L489.47 228.75M439.44 178.50L440.00 178.50M439.32 178.95L440.00 178.95M438.52 179.60L440.00 179.60M439.34 180.16L440.00 180.16M439.31 180.91L440.00 180.91M439.32 181.58L440.00 181.58M439.42 182.47L440.00 182.47M439.25 182.97L440.00 182.97M438.61 183.53L440.00 183.53M438.51 184.29L440.00 184.29M439.58 184.98L440.00 184.98M439.33 185.79L440.00 185.79M439.08 186.28L440.00 186.28M439.14 187.24L440.00 187.24M438.33 187.81L440.00 187.81M439.12 188.77L440.00 188.77M438.52 189.21L440.00 189.21M439.19 190.04L440.00 190.04M439.13 190.87L440.00 190.87M438.81 191.40L440.00 191.40M438.99 192.21L440.00 192.21M439.68 193.06L440.00 193.06M439.13 193.72L440.00 193.72M438.33 194.12L440.00 194.12M439.39 194.56L440.00 194.56M438.26 195.45L440.00 195.45M439.19 196.37L440.00 196.37M439.49 197.29L440.00 197.29M438.28 198.08L440.00 198.08M439.50 198.55L440.00 198.55M438.38 199.32L440.00 199.32M438.28 200.11L440.00 200.11M439.14 200.75L440.00 200.75M439.29 201.18L440.00 201.18M439.59 202.10L440.00 202.10M439.18 202.57L440.00 202.57M439.24 202.96L440.00 202.96M439.52 203.43L440.00 203.43M438.89 204.11L440.00 204.11M438.56 204.81L440.00 204.81M438.28 205.49L440.00 205.49M439.37 205.89L440.00 205.89M439.24 206.30L440.00 206.30M438.31 207.12L440.00 207.12M439.46 207.78L440.00 207.78M438.85 208.34L440.00 208.34M438.51 208.87L440.00 208.87M439.01 209.82L440.00 209.82M438.43 210.54L440.00 210.54M439.41 211.18L440.00 211.18M438.23 212.10L440.00 212.10M438.56 212.48L440.00 212.48M439.62 213.08L440.00 213.08M439.44 213.54L440.00 213.54M439.38 214.34L440.00 214.34M439.37 214.71L440.00 214.71M438.95 215.55L440.00 215.55M439.00 216.30L440.00 216.30M439.68 216.77L440.00 216.77M439.64 217.31L440.00 217.31M438.77 217.83L440.00 217.83M438.99 218.41L440.00 218.41M439.22 219.15L440.00 219.15M438.37 219.72L440.00 219.72M439.07 220.43L440.00 220.43M439.01 221.11L440.00 221.11M438.33 221.67L440.00 221.67M438.30 222.17L440.00 222.17M438.38 223.04L440.00 223.04M438.94 223.50L440.00 223.50M439.27 224.45L440.00 224.45M438.61 224.92L440.00 224.92M438.82 225.42L440.00 225.42M438.28 225.87L440.00 225.87M439.55 226.40L440.00 226.40M38.30 323.60L38.30 324.56M39.00 323.60L39.00 324.84M39.91 323.60L39.91 324.88M40.50 323.60L40.50 323.90M41.15 323.60L41.15 324.41M41.86 323.60L41.86 325.10M42.50 323.60L42.50 324.07M43.15 323.60L43.15 324.82M43.90 323.60L43.90 325.74M44.43 323.60L44.43 324.74M44.84 323.60L44.84 325.42M45.34 323.60L45.34 325.48M46.18 323.60L46.18 324.38M47.08 323.60L47.08 324.86M47.70 323.60L47.70 324.95M48.62 323.60L48.62 324.83M49.27 323.60L49.27 324.45M50.14 323.60L50.14 324.86M50.70 323.60L50.70 324.27M51.19 323.60L51.19 325.48M52.03 323.60L52.03 325.76M52.94 323.60L52.94 325.20M53.78 323.60L53.78 325.25M54.63 323.60L54.63 325.42M55.09 323.60L55.09 325.45M55.64 323.60L55.64 324.36M56.55 323.60L56.55 323.94M57.21 323.60L57.21 324.55M58.05 323.60L58.05 325.06M58.96 323.60L58.96 325.67M59.70 323.60L59.70 324.02M60.46 323.60L60.46 324.11M61.41 323.60L61.41 325.56M61.96 323.60L61.96 324.25M62.74 323.60L62.74 325.34M63.69 323.60L63.69 325.08M64.12 323.60L64.12 325.28M64.52 323.60L64.52 325.55M65.34 323.60L65.34 325.39M66.22 323.60L66.22 324.98M67.15 323.60L67.15 325.11M67.80 323.60L67.80 324.63M68.38 323.60L68.38 323.94M68.83 323.60L68.83 325.41M69.33 323.60L69.33 325.14M70.15 323.60L70.15 325.22M70.82 323.60L70.82 324.50M71.35 323.60L71.35 324.26M72.10 323.60L72.10 325.20M73.02 323.60L73.02 324.53M73.94 323.60L73.94 325.63M74.47 323.60L74.47 325.71M75.20 323.60L75.20 325.73M76.03 323.60L76.03 324.53M76.56 323.60L76.56 324.89M77.21 323.60L77.21 323.97M78.09 323.60L78.09 324.92M78.73 323.60L78.73 325.31M79.24 323.60L79.24 324.28M79.95 323.60L79.95 324.36M80.50 323.60L80.50 324.03M80.90 323.60L80.90 324.58M81.57 323.60L81.57 325.70M82.32 323.60L82.32 324.69M82.92 323.60L82.92 324.35M34.56 277.70L36.30 277.70M35.35 278.13L36.30 278.13M34.86 278.90L36.30 278.90M35.04 279.60L36.30 279.60M34.65 280.52L36.30 280.52M35.19 281.03L36.30 281.03M35.21 281.99L36.30 281.99M34.85 282.46L36.30 282.46M35.77 282.86L36.30 282.86M35.59 283.55L36.30 283.55M34.91 284.34L36.30 284.34M34.85 284.89L36.30 284.89M34.94 285.64L36.30 285.64M35.35 286.27L36.30 286.27M35.29 286.70L36.30 286.70M34.67 287.63L36.30 287.63M35.89 288.02L36.30 288.02M34.96 288.55L36.30 288.55M35.81 289.17L36.30 289.17M35.14 289.78L36.30 289.78M35.40 290.59L36.30 290.59M34.98 291.34L36.30 291.34M35.93 292.07L36.30 292.07M35.81 292.86L36.30 292.86M35.29 293.25L36.30 293.25M35.89 293.62L36.30 293.62M35.30 294.21L36.30 294.21M34.57 294.64L36.30 294.64M35.27 295.51L36.30 295.51M35.53 296.22L36.30 296.22M35.82 297.17L36.30 297.17M35.67 297.71L36.30 297.71M35.24 298.59L36.30 298.59M35.40 299.20L36.30 299.20M35.61 300.09L36.30 300.09M34.94 300.93L36.30 300.93M35.45 301.56L36.30 301.56M35.32 302.18L36.30 302.18M35.06 302.73L36.30 302.73M35.54 303.33L36.30 303.33M35.32 304.16L36.30 304.16M34.68 304.80L36.30 304.80M35.44 305.43L36.30 305.43M34.54 306.33L36.30 306.33M35.40 307.16L36.30 307.16M34.89 307.93L36.30 307.93M34.91 308.46L36.30 308.46M35.02 309.39L36.30 309.39M35.35 310.16L36.30 310.16M35.66 310.91L36.30 310.91M35.19 311.73L36.30 311.73M35.49 312.68L36.30 312.68M35.97 313.47L36.30 313.47M34.85 314.07L36.30 314.07M35.08 314.59L36.30 314.59M35.40 315.08L36.30 315.08M35.71 316.04L36.30 316.04M35.91 316.95L36.30 316.95M34.77 317.66L36.30 317.66M35.41 318.52L36.30 318.52M34.93 319.23L36.30 319.23M34.88 320.05L36.30 320.05M35.62 320.76L36.30 320.76M35.16 321.54L36.30 321.54M34.52 322.23L36.30 322.23M97.80 323.60L97.80 325.38M98.35 323.60L98.35 325.28M99.29 323.60L99.29 324.42M99.99 323.60L99.99 324.90M100.64 323.60L100.64 324.22M101.38 323.60L101.38 325.60M102.14 323.60L102.14 324.45M102.98 323.60L102.98 324.70M103.43 323.60L103.43 325.05M104.06 323.60L104.06 324.91M105.02 323.60L105.02 324.98M105.95 323.60L105.95 324.57M106.76 323.60L106.76 324.04M107.31 323.60L107.31 325.21M108.08 323.60L108.08 325.47M108.67 323.60L108.67 324.42M109.24 323.60L109.24 324.92M109.62 323.60L109.62 324.61M110.37 323.60L110.37 324.18M110.92 323.60L110.92 325.56M111.84 323.60L111.84 324.37M112.30 323.60L112.30 324.12M112.72 323.60L112.72 325.41M113.52 323.60L113.52 324.40M114.17 323.60L114.17 325.22M114.55 323.60L114.55 325.46M115.43 323.60L115.43 324.30M116.21 323.60L116.21 325.23M116.77 323.60L116.77 325.57M117.26 323.60L117.26 324.80M117.81 323.60L117.81 324.74M118.66 323.60L118.66 324.98M119.38 323.60L119.38 325.78M119.88 323.60L119.88 324.32M120.61 323.60L120.61 324.19M121.55 323.60L121.55 324.55M122.17 323.60L122.17 324.72M123.03 323.60L123.03 325.64M123.79 323.60L123.79 324.23M124.37 323.60L124.37 325.24M124.86 323.60L124.86 325.58M125.74 323.60L125.74 324.33M126.32 323.60L126.32 324.33M127.11 323.60L127.11 323.99M127.89 323.60L127.89 324.02M128.75 323.60L128.75 324.93M129.46 323.60L129.46 324.08M129.85 323.60L129.85 324.57M130.80 323.60L130.80 325.04M131.68 323.60L131.68 324.02M132.10 323.60L132.10 323.94M132.88 323.60L132.88 324.24M133.40 323.60L133.40 325.17M134.18 323.60L134.18 324.51M134.82 323.60L134.82 324.45M135.51 323.60L135.51 324.58M136.09 323.60L136.09 324.37M136.62 323.60L136.62 324.40M136.99 323.60L136.99 324.49M137.71 323.60L137.71 324.41M138.14 323.60L138.14 325.51M138.78 323.60L138.78 324.87M139.33 323.60L139.33 325.59M140.14 323.60L140.14 325.08M140.89 323.60L140.89 325.22M141.55 323.60L141.55 324.69M142.15 323.60L142.15 324.86M142.79 323.60L142.79 324.90M94.32 277.70L95.80 277.70M95.16 278.60L95.80 278.60M95.05 278.97L95.80 278.97M94.31 279.35L95.80 279.35M95.07 280.08L95.80 280.08M94.20 280.55L95.80 280.55M94.47 281.42L95.80 281.42M94.38 282.19L95.80 282.19M94.90 282.82L95.80 282.82M94.18 283.52L95.80 283.52M94.12 284.47L95.80 284.47M95.39 285.33L95.80 285.33M94.04 285.84L95.80 285.84M94.73 286.53L95.80 286.53M94.21 287.07L95.80 287.07M94.01 287.74L95.80 287.74M94.01 288.15L95.80 288.15M95.28 288.52L95.80 288.52M94.54 289.11L95.80 289.11M94.66 289.54L95.80 289.54M94.85 290.46L95.80 290.46M94.61 291.28L95.80 291.28M95.24 291.99L95.80 291.99M94.15 292.62L95.80 292.62M95.17 293.39L95.80 293.39M94.68 294.02L95.80 294.02M94.63 294.58L95.80 294.58M95.47 295.32L95.80 295.32M94.51 295.81L95.80 295.81M95.39 296.30L95.80 296.30M95.00 297.12L95.80 297.12M94.66 298.05L95.80 298.05M94.54 298.47L95.80 298.47M94.28 298.99L95.80 298.99M94.36 299.78L95.80 299.78M95.45 300.18L95.80 300.18M95.29 301.02L95.80 301.02M95.46 301.50L95.80 301.50M94.79 301.96L95.80 301.96M95.02 302.89L95.80 302.89M94.26 303.41L95.80 303.41M94.55 303.88L95.80 303.88M94.10 304.61L95.80 304.61M94.66 304.99L95.80 304.99M94.26 305.58L95.80 305.58M94.43 306.09L95.80 306.09M94.76 306.56L95.80 306.56M95.14 307.51L95.80 307.51M94.12 308.03L95.80 308.03M95.40 308.80L95.80 308.80M95.14 309.27L95.80 309.27M94.23 309.80L95.80 309.80M94.03 310.58L95.80 310.58M94.56 311.35L95.80 311.35M94.42 311.94L95.80 311.94M95.41 312.59L95.80 312.59M94.92 313.25L95.80 313.25M95.43 313.93L95.80 313.93M94.03 314.30L95.80 314.30M95.00 314.88L95.80 314.88M94.61 315.33L95.80 315.33M95.23 316.24L95.80 316.24M94.75 316.90L95.80 316.90M94.65 317.72L95.80 317.72M95.22 318.23L95.80 318.23M95.38 319.02L95.80 319.02M95.45 319.90L95.80 319.90M94.80 320.37L95.80 320.37M94.57 321.24L95.80 321.24M94.36 322.05L95.80 322.05M157.50 323.60L157.50 324.00M158.36 323.60L158.36 324.18M158.81 323.60L158.81 323.97M159.19 323.60L159.19 325.57M159.78 323.60L159.78 324.06M160.17 323.60L160.17 325.51M160.89 323.60L160.89 325.64M161.27 323.60L161.27 324.11M161.80 323.60L161.80 324.26M162.23 323.60L162.23 324.28M162.97 323.60L162.97 324.22M163.43 323.60L163.43 324.92M164.02 323.60L164.02 324.18M164.72 323.60L164.72 324.87M165.31 323.60L165.31 324.80M165.70 323.60L165.70 325.07M166.17 323.60L166.17 324.54M166.54 323.60L166.54 325.59M167.25 323.60L167.25 324.65M167.94 323.60L167.94 325.69M168.38 323.60L168.38 324.63M169.16 323.60L169.16 324.61M169.94 323.60L169.94 325.63M170.33 323.60L170.33 324.44M170.86 323.60L170.86 325.33M171.70 323.60L171.70 325.23M172.61 323.60L172.61 324.25M173.21 323.60L173.21 325.52M174.03 323.60L174.03 324.11M174.97 323.60L174.97 325.31M175.85 323.60L175.85 324.59M176.58 323.60L176.58 325.72M177.47 323.60L177.47 325.00M178.37 323.60L178.37 325.80M179.23 323.60L179.23 325.15M180.17 323.60L180.17 324.17M180.77 323.60L180.77 324.97M181.21 323.60L181.21 325.38M181.61 323.60L181.61 325.09M182.13 323.60L182.13 324.51M182.86 323.60L182.86 324.26M183.49 323.60L183.49 325.53M184.44 323.60L184.44 324.40M185.02 323.60L185.02 325.22M185.49 323.60L185.49 325.51M185.97 323.60L185.97 324.96M186.54 323.60L186.54 323.90M186.90 323.60L186.90 323.90M187.45 323.60L187.45 324.42M188.41 323.60L188.41 325.11M188.81 323.60L188.81 325.26M189.31 323.60L189.31 324.81M190.10 323.60L190.10 325.53M191.02 323.60L191.02 324.70M191.57 323.60L191.57 324.66M192.12 323.60L192.12 325.31M192.76 323.60L192.76 325.20M193.21 323.60L193.21 325.39M194.15 323.60L194.15 324.29M194.88 323.60L194.88 324.21M195.26 323.60L195.26 324.69M195.73 323.60L195.73 325.29M196.43 323.60L196.43 325.18M197.37 323.60L197.37 324.01M197.79 323.60L197.79 323.97M198.43 323.60L198.43 325.47M199.20 323.60L199.20 324.94M200.07 323.60L200.07 324.61M200.50 323.60L200.50 325.12M200.88 323.60L200.88 324.34M201.25 323.60L201.25 324.21M201.65 323.60L201.65 324.91M202.09 323.60L202.09 325.05M202.94 323.60L202.94 324.55M154.19 277.70L155.50 277.70M153.87 278.50L155.50 278.50M154.33 279.19L155.50 279.19M154.18 280.07L155.50 280.07M154.77 281.01L155.50 281.01M154.25 281.84L155.50 281.84M155.18 282.48L155.50 282.48M154.80 283.12L155.50 283.12M154.44 283.84L155.50 283.84M155.11 284.51L155.50 284.51M154.29 284.95L155.50 284.95M153.71 285.72L155.50 285.72M154.76 286.55L155.50 286.55M154.44 287.19L155.50 287.19M154.61 288.03L155.50 288.03M154.47 288.94L155.50 288.94M154.48 289.54L155.50 289.54M153.70 290.12L155.50 290.12M154.60 290.50L155.50 290.50M154.18 290.91L155.50 290.91M154.98 291.36L155.50 291.36M154.30 291.98L155.50 291.98M154.53 292.79L155.50 292.79M154.65 293.33L155.50 293.33M154.88 294.22L155.50 294.22M153.87 294.59L155.50 294.59M155.00 295.24L155.50 295.24M153.86 295.68L155.50 295.68M155.10 296.49L155.50 296.49M154.88 297.26L155.50 297.26M154.29 297.88L155.50 297.88M153.80 298.28L155.50 298.28M154.98 298.84L155.50 298.84M155.04 299.66L155.50 299.66M154.22 300.05L155.50 300.05M153.85 300.69L155.50 300.69M154.89 301.52L155.50 301.52M154.29 301.91L155.50 301.91M154.75 302.55L155.50 302.55M154.89 303.46L155.50 303.46M155.09 304.21L155.50 304.21M153.78 305.12L155.50 305.12M154.72 305.85L155.50 305.85M153.84 306.65L155.50 306.65M155.14 307.48L155.50 307.48M154.99 308.15L155.50 308.15M153.77 308.84L155.50 308.84M154.83 309.71L155.50 309.71M154.72 310.41L155.50 310.41M154.08 310.87L155.50 310.87M154.69 311.68L155.50 311.68M154.16 312.29L155.50 312.29M154.50 313.09L155.50 313.09M155.06 313.52L155.50 313.52M153.96 313.98L155.50 313.98M154.23 314.64L155.50 314.64M154.65 315.22L155.50 315.22M153.74 315.69L155.50 315.69M155.01 316.41L155.50 316.41M154.30 317.19L155.50 317.19M154.05 317.92L155.50 317.92M153.89 318.64L155.50 318.64M154.59 319.59L155.50 319.59M154.64 320.33L155.50 320.33M154.65 320.94L155.50 320.94M154.67 321.69L155.50 321.69M153.93 322.26L155.50 322.26" stroke="#151515" stroke-width="0.60" fill="none"/><path d="M450.70 26.30L453.50 26.30M450.70 41.80L453.50 41.80M450.70 59.30L453.50 59.30M450.70 68.70L453.50 68.70M450.70 78.60L453.50 78.60M458.20 82.00L458.20 84.80M466.60 82.00L466.60 84.80M475.00 82.00L475.00 84.80M491.80 82.00L491.80 84.80M504.00 82.00L504.00 84.80" stroke="#111" stroke-width="1.00" fill="none"/><path d="M451.50 68.70L453.50 68.70M466.60 82.00L466.60 84.00" stroke="#111" stroke-width="1.80" fill="none"/><path d="M256.50 215.80L258.70 215.80M317.00 215.80L319.20 215.80M377.50 215.80L379.70 215.80M437.80 215.80L440.00 215.80M34.10 312.30L36.30 312.30M93.60 312.30L95.80 312.30M153.30 312.30L155.50 312.30" stroke="#111" stroke-width="1.60" fill="none"/><rect x="0" y="1" width="520" height="1" fill="#a8a8a8"/><rect x="0" y="0" width="520" height="1" fill="#474747"/><rect x="0" y="352" width="520" height="1" fill="#a0a0a0"/><rect x="0" y="353" width="520" height="1" fill="#474747"/><rect x="1" y="0" width="1" height="354" fill="#8a8a8a" opacity="0.7"/><rect x="0" y="0" width="1" height="354" fill="#141414"/><rect x="518" y="0" width="1" height="354" fill="#c4c4c4" opacity="0.8"/><rect x="519" y="0" width="1" height="354" fill="#141414"/></svg></body></html>
